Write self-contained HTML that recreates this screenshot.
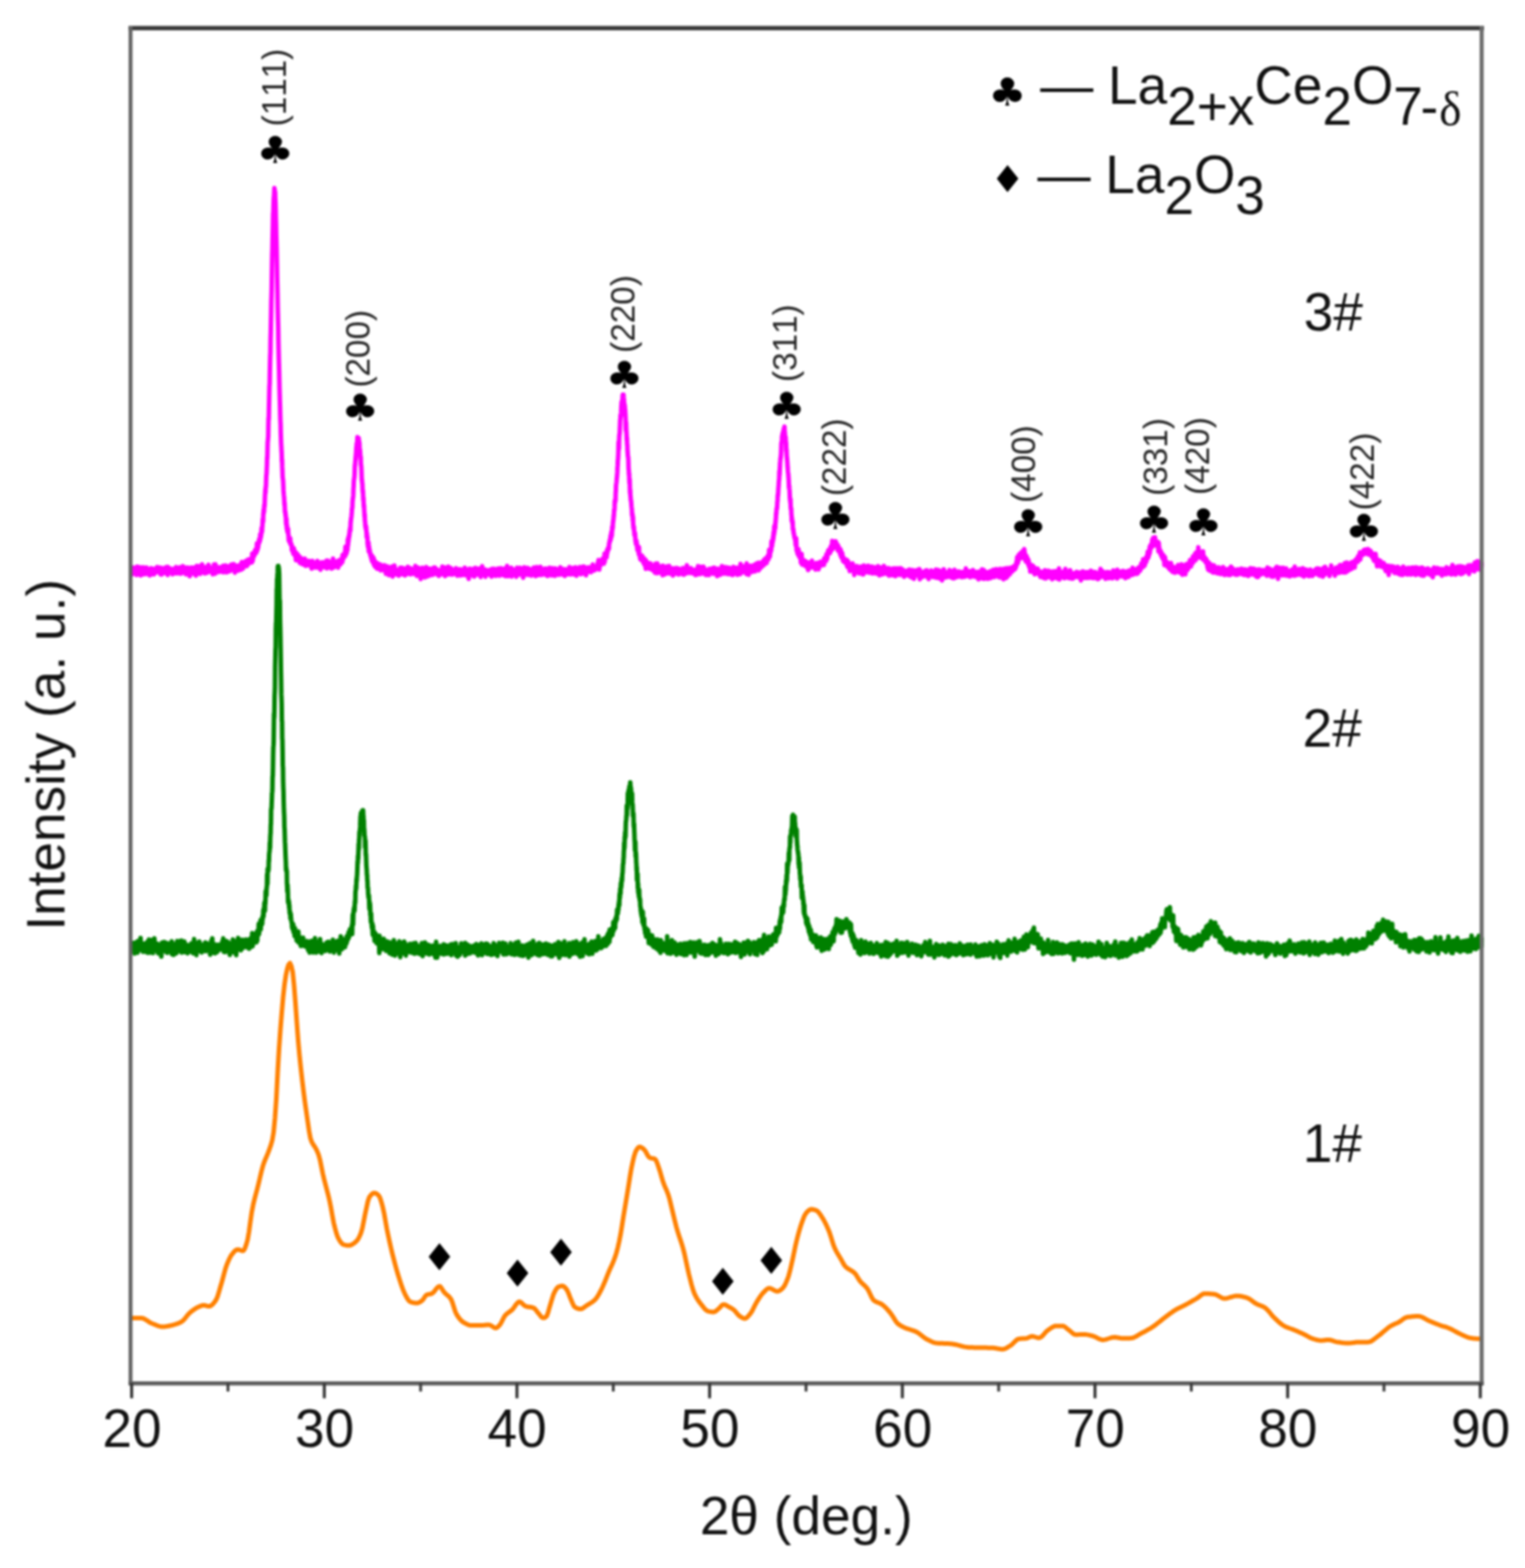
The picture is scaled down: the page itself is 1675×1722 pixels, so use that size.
<!DOCTYPE html>
<html lang="en">
<head>
<meta charset="utf-8">
<title>XRD patterns</title>
<style>
html,body{margin:0;padding:0;background:#fff;}
body{width:1675px;height:1722px;overflow:hidden;}
svg{display:block;}
text{font-family:'Liberation Sans', sans-serif;fill:#111;font-kerning:none;}
.lab{font-size:58.4px;}
.hkl{font-size:36.5px;fill:#262626;}
.club{font-family:'DejaVu Sans', 'Liberation Sans', sans-serif;font-size:41px;fill:#000;}
.dia{font-family:'DejaVu Sans', 'Liberation Sans', sans-serif;font-size:41px;fill:#000;}
</style>
</head>
<body>
<svg width="1675" height="1722" viewBox="0 0 1675 1722">
<defs><filter id="soft" x="0" y="0" width="1675" height="1722" filterUnits="userSpaceOnUse" color-interpolation-filters="sRGB"><feGaussianBlur stdDeviation="0.8"/></filter></defs>
<rect x="0" y="0" width="1675" height="1722" fill="#ffffff"/>
<g filter="url(#soft)">
<path d="M144.5,1447.45l1.5 0 1.5 0 1.5 0 1.5 0 1.5 0 1.5 0 1.5 0 1.5 .2 1.5 .55 1.5 .8 1.5 .95 1.5 1 1.5 1 1.5 .85 1.5 .65 1.5 .6 1.5 .6 1.5 .6 1.5 .6 1.5 .45 1.5 .4 1.5 .25 1.5 .05 1.5-.05 1.5-.15 1.5-.2 1.5-.3 1.5-.35 1.5-.35 1.5-.35 1.5-.4 1.5-.4 1.5-.5 1.5-.55 1.5-.65 1.5-.7 1.5-.9 1.5-1.25 1.5-1.7 1.5-1.9 1.5-1.95 1.5-1.75 1.5-1.35 1.5-1.2 1.5-1.15 1.5-1.05 1.5-.95 1.5-.85 1.5-.7 1.5-.7 1.5-.65 1.5-.45 1.5-.1 1.5 .25 1.5 .45 1.5 .35 1.5 .1 1.5-.55 1.5-1.1 1.5-1.6 1.5-1.9 1.5-2.15 1.5-3.6 1.5-4.85 1.5-5.3 1.5-5.05 1.5-5.5 1.5-5.7 1.5-5.25 1.5-4.1 1.5-3.6 1.5-3.15 1.5-2.6 1.5-1.95 1.5-1.8 1.5-1.5 1.5-.95 1.5-.1 1.5 .35 1.5 .55 1.5 .45 1.5-.2 1.5-2.55 1.5-4.25 1.5-5.25 1.5-8.85 1.5-10.85 1.5-10.45 1.5-7.8 1.5-6.3 1.5-5.7 1.5-5.6 1.5-6 1.5-6.4 1.5-6.35 1.5-5.75 1.5-4.65 1.5-3.75 1.5-3.45 1.5-3.6 1.5-4.1 1.5-4.15 1.5-5.3 1.5-8.7 1.5-15.65 1.5-21.2 1.5-29.5 1.5-25.65 1.5-21.05 1.5-18.65 1.5-17.15 1.5-13.65 1.5-10.1 1.5-6.95 1.5-4.75 1.5-1.65 1.5 3.4 1.5 6.45 1.5 14.7 1.5 19.3 1.5 20.95 1.5 20.4 1.5 16.35 1.5 14.5 1.5 13.3 1.5 12.35 1.5 11.45 1.5 10.6 1.5 10.3 1.5 10.4 1.5 8.05 1.5 4.15 1.5 2.6 1.5 2.1 1.5 2.4 1.5 3.15 1.5 3.8 1.5 5.4 1.5 7.35 1.5 7.55 1.5 6.45 1.5 5.8 1.5 5.65 1.5 5.8 1.5 6.35 1.5 7.45 1.5 8.65 1.5 7.95 1.5 6.15 1.5 5.5 1.5 4.2 1.5 2.8 1.5 2.4 1.5 1.8 1.5 1.1 1.5 .4 1.5 .3 1.5 .2 1.5 .1 1.5-.1 1.5-.55 1.5-.8 1.5-1.05 1.5-1.15 1.5-1.5 1.5-2.15 1.5-2.9 1.5-3.5 1.5-5.25 1.5-7.65 1.5-7.65 1.5-7 1.5-6.9 1.5-4.65 1.5-2.05 1.5-1.55 1.5-1 1.5-.15 1.5 .45 1.5 1 1.5 1.35 1.5 2.65 1.5 4.75 1.5 5.7 1.5 6.95 1.5 8.6 1.5 8.3 1.5 7.25 1.5 6.95 1.5 6.65 1.5 6.25 1.5 5.9 1.5 5.7 1.5 5.45 1.5 5.15 1.5 4.85 1.5 4.65 1.5 4.45 1.5 4.05 1.5 3.35 1.5 2.95 1.5 2.75 1.5 2.1 1.5 1.15 1.5 .5 1.5 .45 1.5 .3 1.5 .2 1.5 .05 1.5-.3 1.5-.7 1.5-.95 1.5-1.1 1.5-2 1.5-2.5 1.5-1.45 1.5-.5 1.5-.25 1.5-.3 1.5-.45 1.5-1.2 1.5-1.8 1.5-2 1.5-1.8 1.5-1.05 1.5 .15 1.5 1.85 1.5 2.55 1.5 2.1 1.5 1.45 1.5 1.3 1.5 1.25 1.5 1.55 1.5 2.1 1.5 3.65 1.5 4.85 1.5 4.7 1.5 3.25 1.5 2.4 1.5 2.05 1.5 1.8 1.5 1.4 1.5 1.05 1.5 .9 1.5 .8 1.5 .7 1.5 .55 1.5 .35 1.5 .05 1.5 0 1.5 0 1.5 0 1.5 0 1.5 0 1.5 0 1.5 0 1.5-.05 1.5-.1 1.5-.15 1.5-.15 1.5-.1 1.5 0 1.5 .6 1.5 .95 1.5 1.05 1.5 .8 1.5 .1 1.5-.9 1.5-1.55 1.5-1.7 1.5-2.6 1.5-3.1 1.5-2.8 1.5-1.9 1.5-1.35 1.5-1.1 1.5-1.05 1.5-1.1 1.5-1.4 1.5-1.95 1.5-2.2 1.5-2.1 1.5-1.5 1.5-.6 1.5 .55 1.5 1.3 1.5 1.55 1.5 1.25 1.5 .6 1.5 .35 1.5 .2 1.5 .2 1.5 .25 1.5 .35 1.5 .7 1.5 1.7 1.5 2 1.5 1.8 1.5 1.95 1.5 1.85 1.5 1.15 1.5 .05 1.5-.65 1.5-1.3 1.5-4 1.5-5.45 1.5-4.95 1.5-5.05 1.5-4.6 1.5-3.2 1.5-2.55 1.5-1.85 1.5-.8 1.5-.4 1.5-.25 1.5 .05 1.5 .95 1.5 1.65 1.5 2.1 1.5 3.4 1.5 4 1.5 3.5 1.5 3.65 1.5 3 1.5 1.3 1.5 .8 1.5 .55 1.5 .3 1.5 0 1.5-.5 1.5-.9 1.5-1.1 1.5-1.1 1.5-.95 1.5-.9 1.5-.9 1.5-.95 1.5-1.1 1.5-1.25 1.5-1.55 1.5-2.05 1.5-2.5 1.5-2.8 1.5-2.95 1.5-3.05 1.5-3.4 1.5-3.65 1.5-3.8 1.5-3.8 1.5-3.55 1.5-3.3 1.5-3.3 1.5-3.55 1.5-3.95 1.5-4.7 1.5-5.65 1.5-6.55 1.5-7.5 1.5-9.05 1.5-9.55 1.5-9.1 1.5-9 1.5-9 1.5-9.2 1.5-9.65 1.5-8.75 1.5-7 1.5-6.3 1.5-4.7 1.5-2.75 1.5-2.05 1.5-.8 1.5 .4 1.5 .95 1.5 1.25 1.5 1.6 1.5 2.65 1.5 2.8 1.5 2 1.5 .65 1.5 .3 1.5 .25 1.5 .4 1.5 1.45 1.5 3.6 1.5 4.45 1.5 4.5 1.5 5.3 1.5 5.1 1.5 4.15 1.5 3.45 1.5 3.45 1.5 3.95 1.5 5.1 1.5 6.2 1.5 6.35 1.5 6.1 1.5 6.2 1.5 5.85 1.5 5.15 1.5 4.65 1.5 4.45 1.5 4.6 1.5 5.15 1.5 6.05 1.5 7 1.5 7.2 1.5 6.65 1.5 6 1.5 5.85 1.5 5.3 1.5 4.2 1.5 3.2 1.5 2.7 1.5 2.35 1.5 2.05 1.5 1.95 1.5 1.85 1.5 1.9 1.5 1.75 1.5 1.3 1.5 .8 1.5 .4 1.5 .25 1.5 .2 1.5 .1 1.5-.35 1.5-.95 1.5-1.3 1.5-1.25 1.5-1.45 1.5-1.75 1.5-1.15 1.5-.05 1.5 .55 1.5 .85 1.5 .85 1.5 .8 1.5 .8 1.5 .95 1.5 1.05 1.5 1.5 1.5 1.9 1.5 1.8 1.5 1.4 1.5 1.05 1.5 .95 1.5 .7 1.5 .25 1.5-.5 1.5-1.25 1.5-1.65 1.5-1.8 1.5-2.15 1.5-2.75 1.5-3.05 1.5-2.95 1.5-2.6 1.5-2.4 1.5-2.3 1.5-2.2 1.5-1.9 1.5-1.6 1.5-1.55 1.5-1.4 1.5-1.05 1.5-.3 1.5 .3 1.5 .7 1.5 .9 1.5 .85 1.5 .6 1.5 .2 1.5-.4 1.5-.85 1.5-1.2 1.5-1.4 1.5-2.05 1.5-2.95 1.5-3.55 1.5-4 1.5-5.35 1.5-6.5 1.5-6.6 1.5-7.15 1.5-7.3 1.5-6.4 1.5-5.85 1.5-5.45 1.5-4.9 1.5-4.4 1.5-4.1 1.5-3.5 1.5-2.25 1.5-1.6 1.5-1.35 1.5-.85 1.5-.2 1.5 .2 1.5 .35 1.5 .55 1.5 .65 1.5 1.35 1.5 2 1.5 2.3 1.5 2.35 1.5 2.55 1.5 2.8 1.5 3.15 1.5 3.35 1.5 3.65 1.5 4.55 1.5 4.95 1.5 4.65 1.5 3.65 1.5 3 1.5 2.7 1.5 2.5 1.5 2.45 1.5 2.6 1.5 2.8 1.5 2.5 1.5 1.7 1.5 1.25 1.5 1.05 1.5 .85 1.5 .85 1.5 .95 1.5 1.15 1.5 1.5 1.5 2.2 1.5 2.55 1.5 2.4 1.5 1.85 1.5 1.5 1.5 1.35 1.5 1.35 1.5 1.55 1.5 2 1.5 2.85 1.5 3.25 1.5 3.1 1.5 2.4 1.5 1.35 1.5 .85 1.5 .65 1.5 .6 1.5 .6 1.5 .75 1.5 1 1.5 1.25 1.5 1.45 1.5 1.55 1.5 1.65 1.5 1.75 1.5 1.85 1.5 2.2 1.5 2.4 1.5 2.4 1.5 2.2 1.5 1.7 1.5 1.2 1.5 1 1.5 .8 1.5 .75 1.5 .7 1.5 .65 1.5 .6 1.5 .5 1.5 .45 1.5 .45 1.5 .45 1.5 .55 1.5 .55 1.5 .75 1.5 .95 1.5 1.1 1.5 1.15 1.5 1.25 1.5 1.15 1.5 1.1 1.5 .9 1.5 .8 1.5 .75 1.5 .75 1.5 .7 1.5 .6 1.5 .5 1.5 .3 1.5 .15 1.5 .1 1.5 .1 1.5 .05 1.5 .05 1.5 .05 1.5 .1 1.5 .05 1.5 .05 1.5 .1 1.5 .1 1.5 .15 1.5 .25 1.5 .25 1.5 .35 1.5 .4 1.5 .4 1.5 .4 1.5 .4 1.5 .35 1.5 .35 1.5 .25 1.5 .2 1.5 .15 1.5 .05 1.5 .05 1.5 .05 1.5 .05 1.5 0 1.5 .05 1.5 0 1.5 .05 1.5 0 1.5 .05 1.5 0 1.5 0 1.5 .05 1.5 .05 1.5 0 1.5 .05 1.5 .05 1.5 .1 1.5 .15 1.5 .2 1.5 .3 1.5 .25 1.5 .25 1.5 .2 1.5 .05 1.5-.25 1.5-.55 1.5-.8 1.5-.95 1.5-.95 1.5-.95 1.5-1.2 1.5-1.5 1.5-1.5 1.5-1.4 1.5-1 1.5-.4 1.5-.15 1.5-.1 1.5-.05 1.5-.1 1.5-.1 1.5-.25 1.5-.7 1.5-.8 1.5-.5 1.5 .1 1.5 .35 1.5 .5 1.5 .5 1.5 .3 1.5-.15 1.5-.8 1.5-1.3 1.5-1.65 1.5-1.75 1.5-1.6 1.5-1.2 1.5-1.05 1.5-1.05 1.5-1 1.5-.8 1.5-.6 1.5-.2 1.5 0 1.5 0 1.5 0 1.5 0 1.5 .05 1.5 .55 1.5 1.05 1.5 1.25 1.5 1.25 1.5 1.1 1.5 1.35 1.5 1.35 1.5 1.1 1.5 .55 1.5 0 1.5-.1 1.5-.05 1.5-.1 1.5-.05 1.5-.05 1.5 .05 1.5 .15 1.5 .25 1.5 .3 1.5 .35 1.5 .3 1.5 .45 1.5 .6 1.5 .75 1.5 .75 1.5 .75 1.5 .6 1.5 .5 1.5 .2 1.5 0 1.5-.25 1.5-.4 1.5-.5 1.5-.5 1.5-.5 1.5-.4 1.5-.2 1.5-.05 1.5 .15 1.5 .25 1.5 .25 1.5 .25 1.5 .15 1.5 0 1.5 0 1.5 0 1.5 0 1.5 0 1.5 0 1.5-.05 1.5-.3 1.5-.5 1.5-.7 1.5-.85 1.5-.9 1.5-.9 1.5-.9 1.5-.8 1.5-.75 1.5-.8 1.5-.8 1.5-.85 1.5-.85 1.5-.9 1.5-.95 1.5-.95 1.5-1.05 1.5-1.1 1.5-1.15 1.5-1.2 1.5-1.2 1.5-1.2 1.5-1.2 1.5-1.2 1.5-1.1 1.5-1.15 1.5-1.1 1.5-1.15 1.5-1.1 1.5-1.05 1.5-1.05 1.5-.95 1.5-.9 1.5-.85 1.5-.8 1.5-.75 1.5-.75 1.5-.7 1.5-.75 1.5-.75 1.5-.8 1.5-.8 1.5-.85 1.5-.85 1.5-.85 1.5-.85 1.5-.85 1.5-.9 1.5-1 1.5-1.2 1.5-1.15 1.5-1 1.5-.75 1.5-.2 1.5 0 1.5 .05 1.5 .1 1.5 .1 1.5 .15 1.5 .15 1.5 .15 1.5 .35 1.5 .7 1.5 .9 1.5 .9 1.5 .85 1.5 .65 1.5 .25 1.5-.05 1.5-.2 1.5-.35 1.5-.4 1.5-.45 1.5-.45 1.5-.4 1.5-.3 1.5-.2 1.5 0 1.5 .1 1.5 .2 1.5 .3 1.5 .35 1.5 .4 1.5 .45 1.5 .45 1.5 .7 1.5 .9 1.5 1.05 1.5 1.15 1.5 1.1 1.5 1 1.5 .85 1.5 .7 1.5 .55 1.5 .6 1.5 .6 1.5 .7 1.5 .9 1.5 1.2 1.5 1.55 1.5 1.75 1.5 1.8 1.5 1.8 1.5 1.75 1.5 1.5 1.5 1.4 1.5 1.4 1.5 1.4 1.5 1.3 1.5 1.2 1.5 1.1 1.5 .85 1.5 .75 1.5 .65 1.5 .6 1.5 .55 1.5 .5 1.5 .55 1.5 .6 1.5 .65 1.5 .6 1.5 .65 1.5 .65 1.5 .65 1.5 .65 1.5 .7 1.5 .75 1.5 .8 1.5 .85 1.5 .85 1.5 .8 1.5 .7 1.5 .55 1.5 .45 1.5 .4 1.5 .4 1.5 .3 1.5 .25 1.5 .1 1.5-.05 1.5-.15 1.5-.2 1.5-.15 1.5-.15 1.5 0 1.5 .25 1.5 .4 1.5 .55 1.5 .5 1.5 .45 1.5 .3 1.5 .2 1.5 .2 1.5 .2 1.5 .15 1.5 .15 1.5 .1 1.5 .05 1.5 .05 1.5-.05 1.5-.1 1.5-.2 1.5-.25 1.5-.2 1.5-.15 1.5-.1 1.5 0 1.5 0 1.5 0 1.5 0 1.5 0 1.5 0 1.5 0 1.5-.1 1.5-.4 1.5-.75 1.5-1 1.5-1.15 1.5-1.2 1.5-1.15 1.5-1.1 1.5-1.1 1.5-1.25 1.5-1.3 1.5-1.3 1.5-1.35 1.5-1.25 1.5-1.25 1.5-1.1 1.5-.95 1.5-.85 1.5-.75 1.5-.65 1.5-.65 1.5-.7 1.5-.75 1.5-.9 1.5-1.1 1.5-1.1 1.5-1.05 1.5-.75 1.5-.45 1.5-.2 1.5-.2 1.5-.2 1.5-.15 1.5-.1 1.5-.1 1.5-.05 1.5-.05 1.5 .1 1.5 .35 1.5 .55 1.5 .75 1.5 .8 1.5 .85 1.5 .85 1.5 .75 1.5 .65 1.5 .6 1.5 .65 1.5 .6 1.5 .6 1.5 .6 1.5 .55 1.5 .55 1.5 .5 1.5 .5 1.5 .45 1.5 .45 1.5 .5 1.5 .55 1.5 .6 1.5 .65 1.5 .75 1.5 .85 1.5 .8 1.5 .85 1.5 .85 1.5 .75 1.5 .7 1.5 .65 1.5 .7 1.5 .7 1.5 .65 1.5 .6 1.5 .55 1.5 .4 1.5 .3 1.5 .2 1.5 .15 1.5 .15 1.5 .1 1.5 .1 1.5 .05" fill="none" stroke="#ff8000" stroke-width="5" stroke-linejoin="round" stroke-linecap="round"/>
<path d="M145.2,1038.6l.2-2.8 .2 1.15 .2 6.25 .2-2.6 .2-1.25 .2 5.15 .2-1.95 .2-3.6 .2-3.5 .2 3.05 .2 5.9 .2-7.2 .2 10.1 .2-7.75 .2-3.75 .2 2.95 .2 6.2 .2-6.7 .2 3.5 .2 .95 .2-4.25 .2 5.25 .2 1.2 .2-2.05 .2-8.35 .2 6.8 .2 1.4 .2 .5 .2 3.1 .2-5.05 .2-.8 .2-6.85 .2 2.9 .2 7.5 .2-7.45 .2 3 .2-4.75 .2 4.55 .2-3.05 .2 5.55 .2-1.8 .2 1.4 .2-6.2 .2 4.4 .2 3.4 .2-13.15 .2 8.35 .2 1.7 .2 3 .2-.7 .2 .1 .2-.95 .2 1.45 .2-3.1 .2 .15 .2-3.45 .2 3.15 .2-.15 .2 5.9 .2-8.7 .2 4.5 .2-1.8 .2 1.15 .2 3.35 .2-3.7 .2-2.85 .2 3.4 .2 2.85 .2-2.15 .2 1.3 .2-6.8 .2 7.55 .2-4.65 .2-2.35 .2 5 .2-5.7 .2 5.6 .2 4.3 .2-7.05 .2-1.05 .2 6.55 .2-1.5 .2 .7 .2-9.15 .2 3.55 .2 8.85 .2-8.8 .2 1.2 .2 1.9 .2 .3 .2-1.3 .2-8 .2 10.4 .2-5.6 .2 6.95 .2 .95 .2-7.7 .2 4.05 .2 4.9 .2 .3 .2-2.45 .2-4.85 .2 3.05 .2-4.45 .2 8.05 .2-3.75 .2 3.4 .2-12.85 .2 6.4 .2 .15 .2 .4 .2-2.8 .2 5.6 .2-4.35 .2 9 .2-7.4 .2-.3 .2-.8 .2 4.3 .2-.85 .2-4.25 .2-6.8 .2 8.8 .2-1.6 .2 2.75 .2-2.9 .2 3.9 .2-4.8 .2 4.65 .2-1.6 .2 3.9 .2-3.6 .2 2.55 .2-3.05 .2 .3 .2-1.6 .2-2 .2 4.9 .2-.7 .2 5.25 .2-3.65 .2 4.6 .2 .3 .2-5.5 .2-4.25 .2 2.65 .2 4.1 .2-3.55 .2 3.8 .2-4.8 .2 1.55 .2 2.7 .2-.85 .2-1.05 .2-.3 .2 1.1 .2-2.15 .2 3.55 .2-5.2 .2 11.85 .2-9.2 .2-3.5 .2-2.55 .2 2.35 .2 4.25 .2-2.9 .2 5.4 .2-4.95 .2-2.3 .2 2.4 .2-.75 .2 1.15 .2-3.15 .2 3.3 .2-5.75 .2 6.65 .2-.85 .2-.1 .2-2.15 .2 2.5 .2 .85 .2-6.4 .2 8.95 .2-3.75 .2 2.15 .2 3.4 .2-9.1 .2 .8 .2 .1 .2 3.35 .2-3.45 .2 .45 .2 8.6 .2-6.55 .2 2.15 .2 2 .2 1.5 .2-9.55 .2 6 .2 1.25 .2 1.15 .2-5.85 .2 .75 .2 2.05 .2-.45 .2-1.2 .2-.95 .2 1.6 .2-.55 .2 1.75 .2-2.85 .2-1.35 .2 1.9 .2 .8 .2 4.2 .2-4.8 .2-5.65 .2 14.25 .2-3.3 .2-2.05 .2-.35 .2-1.45 .2 5.7 .2-9.85 .2 6.5 .2 .05 .2 5.4 .2-8.2 .2 5.4 .2-3.65 .2-4.75 .2-.35 .2 7.65 .2-7.9 .2 2.95 .2 6.55 .2-8.75 .2 5.05 .2 4.6 .2-1.35 .2-2.5 .2-5.05 .2 8.5 .2-4.4 .2-1.45 .2-3.8 .2-3.6 .2 8.5 .2-2.85 .2-4.15 .2 8.7 .2-2.2 .2-2.85 .2 .65 .2 3.25 .2-.15 .2-4.7 .2 6.05 .2-3.7 .2-2.7 .2 2.9 .2 .55 .2 3.8 .2-1.65 .2-9.7 .2 3.35 .2 6.75 .2-1.75 .2-4.1 .2 1.5 .2 7.05 .2-13.25 .2 12.05 .2-.6 .2-5.55 .2 1.1 .2 2.1 .2-.95 .2 1.15 .2 2.55 .2-6.05 .2 2.1 .2 1.5 .2-2.95 .2 1.35 .2 4.95 .2-11.65 .2 7.75 .2-2.75 .2-2 .2 3.05 .2 2 .2 1.45 .2-5.25 .2 4.7 .2 2.65 .2-4.2 .2 1.8 .2-.85 .2 .65 .2-5.35 .2 7.2 .2-2.5 .2 4.55 .2-3.35 .2-5.6 .2 6.75 .2 .7 .2-1.05 .2-4.5 .2-.35 .2 5.8 .2-7 .2 5.45 .2-2.45 .2-2.6 .2 .95 .2-.55 .2 3.45 .2-3.9 .2 1.95 .2-.55 .2 2.1 .2 2.05 .2-8.25 .2 6.3 .2-3.7 .2 1.65 .2 .2 .2 5.65 .2-.2 .2-5.8 .2 0 .2 5.55 .2-3.05 .2 4.5 .2-8.5 .2 6.1 .2-5.45 .2-8 .2 12.15 .2-5.65 .2 5.5 .2-3.35 .2 5.1 .2-8.6 .2-.7 .2 10.15 .2-1.35 .2-3.3 .2-5.7 .2 8.2 .2 5.3 .2-9.35 .2-.1 .2-1.5 .2 4.3 .2-1.75 .2-4.85 .2 2.65 .2 5.55 .2-6.9 .2 4.55 .2 2.55 .2-.9 .2-8.4 .2 7.8 .2-5.6 .2-3 .2 7.65 .2-6.35 .2 4.55 .2 4.9 .2-2.3 .2-2.25 .2 3.5 .2-2.9 .2 2.45 .2 1.1 .2-7.05 .2 8.75 .2-5.9 .2 .65 .2 .4 .2-1.55 .2-.55 .2 3.25 .2-3.8 .2 3.6 .2 .85 .2-4.35 .2 .85 .2 2.8 .2-1.85 .2 2.2 .2-2.3 .2-.9 .2 .35 .2 1.75 .2 2.85 .2-9.4 .2 3.95 .2 .3 .2-1.35 .2 1.05 .2 5.45 .2-.55 .2-5.3 .2-2.8 .2 6.15 .2 .2 .2-5.45 .2 4.55 .2 .7 .2 .8 .2-3.85 .2 3.3 .2-2.2 .2 3.35 .2-1.95 .2 1.2 .2-2 .2-.9 .2 1.6 .2 2.1 .2-4.1 .2 2.4 .2 6.85 .2-10.15 .2-2.2 .2 1.2 .2 2.2 .2 .95 .2-7.35 .2 .85 .2 9.05 .2-7.2 .2 6.85 .2 1.75 .2-14.05 .2 11.85 .2-1.65 .2-1.25 .2 2.35 .2-1.45 .2 1.95 .2 4.25 .2-5 .2-5 .2 8.55 .2-.9 .2 1.1 .2-3.5 .2 1.65 .2 3.55 .2-6.7 .2-1.8 .2 6.75 .2-5.85 .2 4.9 .2-5.5 .2 .2 .2 2.5 .2 .1 .2-3.55 .2 7.8 .2-6.7 .2 3.7 .2-5.3 .2 1 .2 .15 .2 2.35 .2 0 .2 .2 .2-.65 .2 2.95 .2-.05 .2-4.4 .2 1.85 .2 1.05 .2 .85 .2-.65 .2-2.8 .2 .05 .2 1.3 .2 1.35 .2-5.05 .2 .2 .2 1.9 .2 1.6 .2-2.45 .2 .75 .2-1.25 .2 4.3 .2-8.15 .2 6.4 .2-2.1 .2 2.2 .2 .55 .2-10.35 .2 13.35 .2-1.3 .2 2.75 .2-2.55 .2 .4 .2-1.2 .2 3.4 .2-9.5 .2 4 .2-2.7 .2 5.85 .2-2 .2 4.4 .2-4.8 .2-1.05 .2 0 .2-1.9 .2-4.2 .2 6.5 .2-1.3 .2-.05 .2-2.3 .2 4.05 .2-3.75 .2 4.3 .2-1.7 .2-.25 .2-4.15 .2 6.25 .2 1.7 .2-3.25 .2-1.5 .2 3.9 .2 .55 .2-4 .2 10.3 .2-4.85 .2 .85 .2-3.55 .2-.1 .2-4.5 .2 2.35 .2 1 .2 2.1 .2-3.95 .2-1.15 .2 6.6 .2-3.5 .2 2.7 .2-2.75 .2-2.35 .2 1.9 .2-7.95 .2 11.2 .2-1.4 .2 2 .2-4.55 .2 7.15 .2-2.5 .2-9.75 .2-.1 .2 6.65 .2-5.4 .2 4 .2-.1 .2-.45 .2 5.9 .2-3.05 .2 .2 .2-1.35 .2 8.95 .2-5.45 .2-6.6 .2 4.05 .2-4.25 .2 1.8 .2 .25 .2-4.3 .2-1.55 .2 2.1 .2 5.75 .2-10.95 .2 11.05 .2-8.95 .2 4.3 .2 .8 .2 4.2 .2-2.5 .2-3.6 .2 1.6 .2 2.75 .2 2.7 .2-2.7 .2-1.3 .2-.55 .2 6 .2-7.9 .2 1.15 .2 2.6 .2 3.05 .2-9.95 .2 8.85 .2 .55 .2-3 .2-7.15 .2 3.85 .2 1.85 .2 1.35 .2-5.1 .2 3.25 .2 3.1 .2-4.2 .2 .75 .2-.6 .2-3.2 .2 3.45 .2 .4 .2 3.15 .2-5.2 .2-1.75 .2 2.65 .2-1.35 .2 4.7 .2-3.8 .2-3.35 .2 7.1 .2-2.35 .2 .75 .2 .65 .2 2.15 .2-6.65 .2 5.05 .2-1.95 .2-.1 .2-.65 .2-1.3 .2 2.15 .2-.7 .2 2.1 .2 2.55 .2-8.3 .2 9.6 .2-2.95 .2-7.5 .2 3.25 .2 .3 .2 3.8 .2-7.25 .2 8.8 .2-9.45 .2 2.3 .2-1 .2-2.2 .2 .2 .2 1.65 .2 .95 .2-1.35 .2-1.2 .2-5.65 .2 7.5 .2 7 .2-.9 .2-1.9 .2-5.35 .2 2.85 .2-3.7 .2 0 .2 1.9 .2 2.65 .2-5.3 .2-.75 .2 1.85 .2-5.1 .2 7.55 .2 .3 .2 .25 .2-1.65 .2-4.85 .2 .9 .2-2.65 .2 3.85 .2 5.95 .2-10.9 .2 5.15 .2 2.05 .2-8.5 .2 10.3 .2-9.8 .2 1.5 .2 1.35 .2 1.3 .2-.9 .2-4 .2-1.85 .2-6.2 .2 5.7 .2 5.45 .2-7.5 .2 4.2 .2-.25 .2-2.4 .2-3.1 .2-.65 .2 1.1 .2-6.55 .2 10.1 .2-9.1 .2 .65 .2-.75 .2 .35 .2 1.45 .2 2 .2-4.25 .2 3.75 .2-7.7 .2 2.7 .2-.65 .2-3.3 .2 .75 .2-7 .2 7.05 .2-3 .2-3.5 .2-3.1 .2 2.9 .2-8.2 .2 5.1 .2-.8 .2 4.15 .2-10.75 .2 3.55 .2-4.25 .2-9.65 .2-.65 .2 .95 .2 4.25 .2-.85 .2-8.1 .2 .45 .2-2.85 .2-12.1 .2 10.95 .2-1.1 .2-15.85 .2 2.4 .2 .65 .2-2.55 .2 1.6 .2-2.25 .2-9.35 .2 1.75 .2-8 .2-1.85 .2-1.15 .2-2.15 .2-8 .2 6.25 .2-10.3 .2-4.65 .2-1 .2-9.75 .2-.6 .2-15.6 .2-1.85 .2 .45 .2-5.6 .2-4.95 .2-6.85 .2-.8 .2-3.5 .2-13.6 .2-.2 .2-9.75 .2-14.1 .2-8.25 .2-1.85 .2-3.7 .2-17.35 .2-14.05 .2 4.65 .2-8.45 .2-15.8 .2-3.7 .2-5.5 .2-23.4 .2-7.95 .2-10.05 .2-2.95 .2-19.2 .2-7.05 .2-1.5 .2-10.1 .2-8.1 .2-17.65 .2-.2 .2-11.45 .2 2.25 .2-6.55 .2-2.3 .2-6.8 .2 .45 .2 1.15 .2-1.85 .2 5 .2-3.1 .2 3.4 .2 2.9 .2 14.35 .2 12.3 .2 6.1 .2-2.95 .2 21.1 .2 8.2 .2 9.4 .2 12.55 .2 12.55 .2 14.7 .2 10.45 .2 14.1 .2 4.95 .2 5.6 .2 19.25 .2-.75 .2 19.2 .2 1.9 .2 11.6 .2 17 .2 1.25 .2 15.7 .2 6.5 .2 4.8 .2 11.25 .2 6.75 .2 5.15 .2 3.6 .2 12.2 .2 1.5 .2 6.85 .2 7.45 .2 3.15 .2 6.35 .2 4.9 .2 4.45 .2 3.7 .2 8.7 .2-3 .2 3.85 .2 .5 .2-.6 .2 14.1 .2 2.3 .2 6.3 .2-7.6 .2 5 .2 3.2 .2 11.25 .2-1.45 .2-1.75 .2 2.6 .2 3.05 .2-3.15 .2 6.85 .2-3.25 .2 5.65 .2 3.55 .2 .05 .2-1.95 .2 2.75 .2 4.95 .2-3.25 .2-1.75 .2 4.8 .2 .25 .2 2.05 .2 1.65 .2-.2 .2 .85 .2 5.1 .2-.25 .2 2 .2-2.2 .2-.8 .2 3 .2-5.2 .2 1.7 .2 7.2 .2-3.8 .2-.05 .2-.85 .2 5.65 .2-4.95 .2 8.5 .2-2.9 .2-6.05 .2 4.6 .2-1.25 .2 5.55 .2 .35 .2-3 .2-.15 .2 3.95 .2-3.2 .2 6.8 .2-6.25 .2 3.65 .2-7.35 .2 8 .2-3 .2 3.2 .2 3.05 .2-4 .2-7.4 .2 1.75 .2 7.25 .2-3 .2-.65 .2 7.35 .2-3.9 .2 4 .2 .1 .2-4.1 .2 1.9 .2-4.1 .2 5.3 .2-1.25 .2 5.45 .2-2.3 .2-3.1 .2-1.55 .2 1.65 .2 .85 .2 2.6 .2 1 .2-7.15 .2 .65 .2 4.6 .2-4.9 .2 3.75 .2-5.35 .2 4.8 .2-.3 .2 .55 .2-1 .2 3.8 .2 1.4 .2-.45 .2-3.15 .2 0 .2-1.05 .2-.15 .2 1.9 .2 .05 .2-.05 .2 1.55 .2 2.05 .2-4.75 .2 1.4 .2 2.6 .2-1.05 .2-3.15 .2-1.15 .2 5.95 .2-5.45 .2 4.85 .2-4.5 .2 8.95 .2-9 .2 9.3 .2-3.35 .2 2.1 .2-.4 .2-2.25 .2-2.55 .2 8.9 .2-9.15 .2 1.95 .2-4.85 .2 4.35 .2 1.95 .2-4.1 .2 2.75 .2-1.35 .2-.1 .2 3.15 .2 .8 .2-5.15 .2-3.1 .2 7.1 .2-5 .2 2.1 .2-1.15 .2 5.85 .2 3.85 .2-8.85 .2 8.9 .2-6.45 .2-1.55 .2 4.7 .2 2.6 .2-6.9 .2-.25 .2 7 .2-3.1 .2-11.85 .2 8.55 .2-2.05 .2 .7 .2 2.3 .2-1.9 .2 .25 .2 8 .2-11.9 .2 5.8 .2 1.4 .2-6.55 .2 1 .2 .05 .2 6.4 .2-6.2 .2 5.1 .2-5.45 .2-.15 .2 5.5 .2 1.2 .2-6.95 .2 1.05 .2 4.1 .2-3.95 .2-.6 .2 .25 .2 4.5 .2-9.45 .2 14.15 .2-.5 .2-1.1 .2-4.7 .2-1.5 .2 3.9 .2-5.3 .2 10.55 .2-8.9 .2 5.8 .2-1.2 .2-4.05 .2 .7 .2-1.95 .2 3.05 .2 1.6 .2-1.9 .2-1.15 .2 1.2 .2 3.95 .2-1.1 .2-1.3 .2-3.6 .2 .5 .2 3.1 .2-2.85 .2-.95 .2 6.65 .2-4.05 .2 .4 .2-2.65 .2 2.8 .2 1.7 .2-1.75 .2-5.65 .2 3.2 .2 3.3 .2-1 .2 2.5 .2-4.2 .2 .75 .2 3.15 .2-3.15 .2 2.95 .2-8.45 .2 2.55 .2 6.1 .2-.4 .2-.15 .2 .5 .2 .05 .2-6.65 .2 8.8 .2-2.4 .2-6.65 .2-.45 .2 5.55 .2-3.5 .2 3.85 .2-2.65 .2-3.9 .2 2.1 .2 1.5 .2 1.15 .2 2.6 .2-4.7 .2 3.6 .2-2.25 .2 .3 .2-7.1 .2 5.85 .2-3.1 .2 6.9 .2 1.3 .2-2.15 .2 5.3 .2-5.9 .2 1.85 .2-3.85 .2 2.25 .2-4.5 .2 2.3 .2 4.3 .2-3.4 .2-1.1 .2 .7 .2 1.95 .2 2.8 .2-9.4 .2 4.8 .2-.4 .2-.4 .2 .65 .2 1.75 .2 2.1 .2-9.5 .2 1.7 .2 4.2 .2-5.15 .2 6.15 .2-4.35 .2 2.3 .2-3.45 .2 .8 .2 11.8 .2-10.05 .2 5.75 .2-4.95 .2 2.15 .2-4.8 .2 4.2 .2-3.45 .2-7.7 .2 .6 .2 8.15 .2 2.5 .2-4.85 .2-1.05 .2 1.55 .2 7.15 .2-11.6 .2 8.1 .2 1.5 .2-8.35 .2 1.25 .2 1.65 .2-1.05 .2 5.2 .2-3 .2-2.2 .2 2.8 .2 2.65 .2-5.4 .2-1.7 .2 5.65 .2 2.45 .2-.75 .2-2.65 .2-3.45 .2 3.05 .2-1 .2-.05 .2-2.4 .2 3.3 .2-.8 .2-7.35 .2 6.25 .2-6 .2 3.4 .2-1.2 .2 1.75 .2-3.65 .2 .1 .2-.95 .2-.3 .2-3.6 .2 6.05 .2-4.15 .2 2.6 .2-1.7 .2 .9 .2-.05 .2-6.9 .2 3.35 .2 .35 .2-3.65 .2-.6 .2 2.75 .2 2.25 .2-3.25 .2-.35 .2-2.2 .2 4.45 .2-7.3 .2 1.95 .2 7.3 .2-11.35 .2-2.5 .2-6.5 .2-1.5 .2 11.55 .2-8.55 .2-4.8 .2-.15 .2-3.75 .2 2.15 .2-4 .2 2.5 .2 1.3 .2-5.5 .2-3.6 .2-2.2 .2 2.55 .2-11.95 .2-1.1 .2-1.05 .2-4.9 .2 3.45 .2-5.95 .2-4.95 .2 2.55 .2-5.3 .2-1.25 .2-4.7 .2-5.15 .2-5.25 .2 2.35 .2-8.55 .2 3.95 .2-6.3 .2-4.5 .2-6.4 .2 6.05 .2-10.7 .2-.15 .2-7.8 .2 3.9 .2-5.85 .2-.45 .2-3.55 .2-6.3 .2-5.3 .2 1.6 .2-4.75 .2-.6 .2 6.9 .2-4.2 .2-3.3 .2 .8 .2 .7 .2-2.7 .2-.8 .2 1.35 .2 2.35 .2 7.4 .2-11.3 .2 6.5 .2-.45 .2 13.65 .2-9.05 .2 9.55 .2 .2 .2 2.4 .2 5.25 .2 .6 .2 .45 .2 11.7 .2-8.3 .2 .75 .2 7.55 .2 9 .2-1.75 .2 6.25 .2 6.5 .2 2.4 .2 2.25 .2 5.8 .2-.75 .2 6.85 .2-.15 .2 7.65 .2 1.35 .2-.9 .2 6.6 .2 1.7 .2 2.25 .2 .65 .2-2.95 .2 4.55 .2 7.15 .2 3.35 .2-7.85 .2 4.05 .2-2.1 .2 4.25 .2 8.4 .2-2.65 .2 5.4 .2 4.65 .2-9.4 .2 7.7 .2 2 .2 1.65 .2 3.2 .2 1.55 .2-.85 .2-4.1 .2 8.1 .2 4.25 .2-10 .2 4.2 .2 2.4 .2-1.6 .2 2.8 .2 .9 .2 3.45 .2-4.2 .2 1.25 .2 7.55 .2-2.25 .2-4.6 .2-1.95 .2 4.35 .2 2.4 .2-2.1 .2-3.35 .2 .85 .2 2.25 .2 2.65 .2 1.2 .2 3.2 .2-5.8 .2-.1 .2-2.7 .2 2.65 .2 2.85 .2 .05 .2 .6 .2 1.6 .2-1.7 .2-3.25 .2 5.6 .2 .75 .2-3.6 .2 13.7 .2-18.95 .2 3.4 .2 3.3 .2 .2 .2-1 .2 4 .2 3.1 .2-1.75 .2-.95 .2 4.65 .2-10.1 .2 4.5 .2 1.05 .2-1.25 .2 .75 .2-.15 .2-1.3 .2-1.7 .2 .45 .2 2.6 .2 2.5 .2 .45 .2 .8 .2-10.35 .2 5.05 .2-.8 .2 3.9 .2 .15 .2-1.3 .2 4.7 .2-4.8 .2 2.05 .2 1.45 .2-.2 .2-2.55 .2 5.65 .2-2.1 .2 .9 .2-2.35 .2-.1 .2-3.15 .2-3.75 .2 2.65 .2-1.35 .2 5.05 .2-4.6 .2 3.1 .2-1.35 .2 3.15 .2-.55 .2 5.2 .2-1.55 .2 2.2 .2-4.75 .2-6.2 .2 9.2 .2 3.2 .2-7.7 .2 6.05 .2-5.25 .2 1 .2-.75 .2-1.6 .2 .55 .2-4.2 .2 6.3 .2-.1 .2 1.95 .2-2.5 .2 1.6 .2 6 .2-4.05 .2-3.75 .2 1.35 .2-.75 .2 4.2 .2-5.9 .2 5.2 .2-2.15 .2-10.05 .2 10.25 .2-3.35 .2-1.15 .2 3 .2 1.05 .2 7.1 .2-7.85 .2-3.05 .2 2.5 .2 1.9 .2-4.6 .2 2.35 .2-4.55 .2 1.25 .2 2.7 .2 3.85 .2-5.4 .2 .15 .2 2.55 .2-3 .2 1.5 .2-1.2 .2 8.7 .2-7.2 .2 6.1 .2-4.1 .2 5.4 .2-9.05 .2 3.85 .2-8.5 .2 12.2 .2-2.25 .2-3.2 .2 7.85 .2 2.8 .2-4.4 .2 .25 .2-5.05 .2-2.85 .2-2.3 .2 8.45 .2-9.65 .2 5.55 .2 6.3 .2-4.45 .2-5.3 .2 1.3 .2 7.05 .2-7.7 .2 2 .2-3.1 .2 4.4 .2-1.85 .2 5.45 .2-6.65 .2 1.85 .2-6.4 .2 12.15 .2-.3 .2-4.9 .2 1.4 .2 1 .2 2.05 .2-8.95 .2 2.45 .2 10.5 .2-3.65 .2-1.9 .2-1.8 .2 2.65 .2 .2 .2-.05 .2-6.4 .2 3.6 .2 1.25 .2-.3 .2-4.45 .2 2.7 .2-2.45 .2 1.8 .2 2.15 .2 1.15 .2 .1 .2 1.4 .2-2.85 .2-4.65 .2 4.35 .2-1.7 .2-4.1 .2 3.55 .2 3.45 .2 2.05 .2-3.8 .2-4.25 .2 4.45 .2-2.25 .2 6.6 .2-8.35 .2 7 .2-3.55 .2 2.05 .2-3.65 .2 4.1 .2-1.75 .2-.6 .2-2.95 .2 1.7 .2-4.4 .2 8 .2-2.7 .2 5.9 .2-9.95 .2 10.3 .2-3.75 .2-3 .2 3.15 .2-5.85 .2-.35 .2 8.6 .2-10.65 .2 6.65 .2 4.5 .2-4.15 .2 4.05 .2-5.15 .2-1.5 .2 6.15 .2-.95 .2-3.2 .2 4.85 .2-8.35 .2 7.2 .2-4.75 .2 2.1 .2-.4 .2 .25 .2 1.2 .2 2.95 .2-.05 .2-4.35 .2-.1 .2-3.45 .2 8.75 .2-2.4 .2-5.15 .2 2.7 .2 4.4 .2-7.3 .2 3.2 .2-.9 .2-.95 .2 1.25 .2-6.9 .2 9.9 .2-4.8 .2 1.95 .2-5.1 .2 12.35 .2-5.75 .2-8.4 .2 4.45 .2 .9 .2-2.15 .2-1.25 .2 .1 .2 1.55 .2 3.35 .2 .25 .2 3.45 .2-4.8 .2-6.9 .2 6.95 .2 4.1 .2-7.5 .2 4.5 .2 .5 .2-4.5 .2 2.7 .2-2.65 .2 8.15 .2-2.65 .2-1.95 .2 2.1 .2-.05 .2-5.1 .2-1.5 .2-.4 .2 .55 .2 6.95 .2 .9 .2 1.45 .2-9.5 .2 4.4 .2 4.1 .2 1.85 .2-7 .2-.15 .2 0 .2 2.7 .2 1.2 .2 .65 .2-4.75 .2 6.3 .2-8.15 .2 5.45 .2 2.4 .2-.8 .2-2.25 .2-2.7 .2 1.05 .2-2.2 .2 .15 .2-1 .2 6.95 .2-7.55 .2 1.6 .2 6.75 .2-3.15 .2 4.45 .2-.55 .2-3.7 .2 2.25 .2-7.4 .2 4.55 .2 5 .2-4.25 .2-.55 .2 8.05 .2-6.3 .2-7.45 .2 8.6 .2-12.15 .2 10 .2-.35 .2-2.85 .2-1.05 .2 1.2 .2 10.45 .2-12.65 .2 .95 .2 2.05 .2-.7 .2 7.05 .2-4.6 .2-1.6 .2 3 .2-1.45 .2-1.65 .2-.4 .2 .55 .2 0 .2-.9 .2 1.2 .2 4.4 .2-8.35 .2 5.45 .2 1.15 .2-2.75 .2 .2 .2 3.85 .2-5.15 .2 3.4 .2-.2 .2-1.15 .2 .1 .2 2 .2 2.1 .2-8.35 .2 6.95 .2-5.65 .2-.7 .2 3.55 .2 0 .2-6.35 .2 11.1 .2-6.85 .2 3.75 .2-.95 .2 .7 .2-1.75 .2 .75 .2-.75 .2-1.4 .2 4.85 .2-3.2 .2 .65 .2-3 .2-.25 .2 2.7 .2-5.25 .2 9.35 .2-5.95 .2 .2 .2-.6 .2 2.1 .2 1.25 .2 .65 .2-4.55 .2-1.45 .2 3.2 .2 .05 .2-2.05 .2 6.5 .2-7.45 .2 .5 .2 5.95 .2-4.35 .2 .65 .2-2.2 .2-1.25 .2 1.65 .2-3.2 .2 7.95 .2-1.4 .2 5.25 .2-6.5 .2-1.5 .2 5.05 .2-4.95 .2 4.95 .2-4.9 .2-4.3 .2 4.8 .2 .1 .2 2.75 .2-3.2 .2 2.3 .2-.05 .2-3.6 .2-.8 .2 1.2 .2-2.9 .2 5.55 .2 1.85 .2-3.15 .2-1.05 .2-1.75 .2 5.9 .2 1.4 .2-10.5 .2 13.65 .2-1.6 .2-6.75 .2 1.7 .2 .55 .2 .75 .2-2.45 .2 2.5 .2 .75 .2 5.85 .2-8.15 .2-1.85 .2 5.35 .2-3.35 .2 .55 .2-.2 .2-1.45 .2-.25 .2-.1 .2-.9 .2 1 .2 7.35 .2-6.15 .2-2.3 .2-.7 .2 7.05 .2-5.8 .2 2.5 .2-6.1 .2-1.1 .2 7.45 .2-6.15 .2 6.05 .2 2.05 .2-5.45 .2 1.05 .2 .2 .2-.85 .2 1 .2-.15 .2 .7 .2 .85 .2 1.5 .2-.2 .2-1.25 .2-2.7 .2 4.1 .2 .95 .2-2.1 .2-1.65 .2 8.05 .2-13.95 .2 9.1 .2-1.25 .2 4.05 .2 1.1 .2-3.85 .2-3.45 .2 3.25 .2-5.45 .2 3.9 .2-2.65 .2 3.95 .2-7.1 .2 4.5 .2 1.7 .2-1.35 .2-.4 .2-1.3 .2 1.65 .2 5.4 .2-6.5 .2-2.25 .2 .85 .2 1.85 .2 3.6 .2-3.05 .2 3.3 .2 1.9 .2-7.15 .2 3.5 .2-1.65 .2 3.9 .2-.35 .2-1.4 .2-4.75 .2 2.45 .2 .8 .2 0 .2-1.7 .2 2.75 .2 .6 .2-.4 .2-3.45 .2 1.25 .2-2.45 .2 1.35 .2 4.25 .2-2.6 .2 .1 .2 3.95 .2-5.2 .2 1.85 .2-4.7 .2 7.55 .2-3.45 .2 3.05 .2-.05 .2-2.6 .2 1.9 .2-6.3 .2 2.85 .2-4.3 .2 9.1 .2-1.2 .2 2.6 .2-.25 .2 .7 .2-5.55 .2-4.05 .2 3.4 .2 7.9 .2-4.85 .2 1.95 .2-1.25 .2-.6 .2-2.9 .2-2.5 .2 6.35 .2-5.7 .2 8.15 .2-3.5 .2 .4 .2-2.1 .2-5.45 .2 2.6 .2 5.8 .2-7 .2 .15 .2 8.6 .2-11.4 .2 6.4 .2 1.4 .2 5.1 .2-2.85 .2-2 .2-7 .2 4.75 .2-4.6 .2 6.3 .2-5.3 .2 7.6 .2-1.1 .2-3.8 .2 3.1 .2-.65 .2-.35 .2-.3 .2 2.3 .2-2.1 .2-1.45 .2 2.4 .2-3.45 .2 6.15 .2-1.25 .2-9.2 .2 5.65 .2 .5 .2 .2 .2 1.75 .2 2.7 .2 .5 .2-10.95 .2 9 .2-8.8 .2 9.35 .2-1.95 .2-3.95 .2 1 .2 0 .2 5.45 .2-5.75 .2 .5 .2 2.65 .2 3.95 .2-7.15 .2 2.75 .2-3.2 .2 5.6 .2-7 .2 4.95 .2 .05 .2-2.5 .2 4.9 .2 2.3 .2-5.95 .2 1.05 .2-.45 .2 3.15 .2-1.15 .2-2.35 .2-.5 .2-2.2 .2 1.55 .2 .95 .2 5.3 .2-2.6 .2-9.6 .2 5.15 .2 5.6 .2-.3 .2-9.3 .2 5.3 .2 5.4 .2-7.3 .2 .95 .2 1.6 .2-3.6 .2 6.7 .2-2.8 .2 .05 .2-2.8 .2 5.5 .2-4.45 .2-1.45 .2 2 .2-3.7 .2 2.4 .2 9.2 .2-9.9 .2-.35 .2 2.9 .2 1 .2 .3 .2-.55 .2-6.15 .2 3.85 .2-5.6 .2 9.4 .2-.95 .2 1.3 .2-7.6 .2-1.6 .2 6.8 .2-3.45 .2-.65 .2 1.15 .2-2.3 .2-.95 .2 7.05 .2-.15 .2 1.45 .2-1.45 .2-.7 .2 1.1 .2-2.4 .2 1.35 .2-.9 .2-6.8 .2 8.55 .2 4.35 .2-.65 .2-5.65 .2 1.9 .2-.45 .2 4.9 .2-.2 .2-7.85 .2-.05 .2 1 .2-.4 .2 6.9 .2-11.2 .2 2.6 .2-.95 .2 2.4 .2 4.15 .2-5.5 .2 6.1 .2 2.75 .2-4.8 .2 3.35 .2-4.6 .2 1.85 .2-2 .2 4.45 .2-2.5 .2 1.05 .2 .75 .2 .45 .2-6.4 .2 3.95 .2-3.2 .2 1.05 .2 1.25 .2 1.95 .2-2 .2-.65 .2 4.95 .2-2.7 .2-8.35 .2 8.1 .2-2.75 .2 3.6 .2 .35 .2 2.95 .2-6.55 .2 3.95 .2-3.35 .2-1.65 .2-2.85 .2 5.95 .2 3.8 .2-5.4 .2 4.15 .2-3.2 .2 2.4 .2-3.15 .2 2.3 .2-5.05 .2 5.6 .2 3.7 .2-2.55 .2-5.2 .2-4.35 .2 6.7 .2-4.3 .2 3.25 .2 3.65 .2-10.55 .2 6.45 .2 .35 .2 2.9 .2-1.05 .2 4.15 .2-4.05 .2 .85 .2-8.8 .2 6.5 .2-1 .2 .85 .2 3.55 .2-7.35 .2-4.35 .2 14.25 .2-6.5 .2-.7 .2 5.9 .2-2 .2-2 .2 .4 .2 1.4 .2-5.35 .2 3.35 .2 6.3 .2-4.8 .2-.85 .2 5.5 .2-5.7 .2 4.55 .2-4.25 .2-1.75 .2 2 .2-.3 .2-5.45 .2 11.15 .2-5 .2 5.4 .2-9.5 .2 1.2 .2-2.85 .2 3.5 .2 2.65 .2 4.7 .2-8.25 .2 .4 .2 4.25 .2-1.5 .2-3.85 .2 .65 .2-.65 .2 6.05 .2-5.75 .2 .75 .2 4.9 .2-5.7 .2 5.25 .2-8 .2 2.55 .2 6.55 .2-2.5 .2-4.95 .2-.85 .2-1.55 .2 6.45 .2-1.95 .2 1.8 .2-1.25 .2 9.35 .2-5 .2-9.05 .2 5.8 .2-4.85 .2 4.75 .2-1.7 .2 1.7 .2-1.85 .2-5.75 .2 8.8 .2-7.95 .2 2.95 .2 .6 .2 2.95 .2-4.5 .2 3.4 .2 .8 .2 6.05 .2-8.45 .2 3 .2 1.3 .2-2.7 .2 1.2 .2 2.55 .2-5.35 .2-7.25 .2 8.5 .2 1.9 .2 .7 .2-.05 .2 2.2 .2-3.6 .2-2.15 .2-1.75 .2-.6 .2 7.4 .2-5.15 .2-.65 .2 7.55 .2-9.25 .2 7.15 .2-6.15 .2 1.6 .2 0 .2 2.95 .2-2.45 .2 4.25 .2-5.1 .2 8.15 .2-7.4 .2-4.75 .2 2.8 .2 .05 .2 4.1 .2-5.5 .2 8.35 .2-6.85 .2 1.35 .2 5.2 .2-10.55 .2 14 .2-9.9 .2-3.5 .2 11.4 .2-5.7 .2-5.25 .2 8.05 .2 3.3 .2 0 .2-3.4 .2-5.3 .2 1.5 .2 4.55 .2-1.25 .2-2.45 .2 5.8 .2-9.1 .2 9.7 .2-9.15 .2 2 .2 1.4 .2 2.95 .2 1.4 .2-9.3 .2 2.15 .2 .75 .2 1.85 .2-2.25 .2-.95 .2 8.75 .2-2.65 .2-2.3 .2 3 .2-3.85 .2-4.45 .2-1.1 .2 8.35 .2-2.3 .2-.05 .2-3.1 .2 3.85 .2 .35 .2 3.85 .2-.3 .2-6.45 .2 8.3 .2-3.05 .2 2.05 .2-5.75 .2 4.05 .2-8.8 .2 9.35 .2-6.5 .2 3.9 .2-3.7 .2 2.3 .2 .25 .2-4.7 .2 4.9 .2 2.85 .2-3 .2 3.6 .2 3.9 .2-7.35 .2 4.25 .2-4.05 .2-4.5 .2 6.55 .2-6.8 .2 4.25 .2 7.6 .2-10.15 .2-1.45 .2 2.55 .2 2.75 .2 1.4 .2-4.85 .2-.2 .2 4.2 .2-2.3 .2 3.75 .2-6.25 .2 7.55 .2-3.85 .2-1.15 .2-5.3 .2 4.4 .2 .7 .2 4.25 .2-3.3 .2-4 .2-1.3 .2 7.7 .2-6.95 .2 9.85 .2-5.05 .2-2.6 .2-1.1 .2 7.55 .2-5.25 .2 1.1 .2-7.45 .2 7.35 .2-4 .2-4.25 .2 6.9 .2 .35 .2-3.75 .2 13.8 .2-13.6 .2 .95 .2 3.95 .2 .15 .2-.15 .2-1.85 .2 6.15 .2-8 .2-3.55 .2 2.7 .2 3.05 .2 .8 .2 6.55 .2-7.15 .2-1.25 .2-.3 .2-.95 .2 5.25 .2-6.55 .2 8.8 .2-7.95 .2 .95 .2 2.45 .2-5.8 .2 6.05 .2-.5 .2 4.65 .2-2.1 .2-10.8 .2 9.55 .2-4.7 .2 .1 .2 .45 .2 9.7 .2-8.3 .2 1.5 .2 3.05 .2 3.15 .2-7.6 .2 1.8 .2 .4 .2-.6 .2-1 .2-3.2 .2 2.15 .2-1 .2-.7 .2 1.55 .2 1.65 .2-2.1 .2 .95 .2 4.4 .2-.55 .2-5.85 .2-2.85 .2 14.8 .2-9.3 .2 6.65 .2-6.2 .2 6.2 .2-4.55 .2-1.75 .2-1.65 .2 1.35 .2-2.55 .2 4.1 .2-1.15 .2 1.95 .2 .05 .2-5.6 .2 4.75 .2-.9 .2 3.5 .2 1.95 .2-7 .2-5.8 .2 7 .2-.05 .2-3.2 .2 4.75 .2-2.2 .2 3.05 .2-6.55 .2 5.2 .2-1.65 .2-.05 .2 4.05 .2-5.4 .2 .7 .2 3.95 .2-7.8 .2 7.5 .2-4.8 .2-5.35 .2 12.6 .2 .75 .2-5.3 .2-3.8 .2-2.6 .2 7.1 .2 4.1 .2-10.35 .2 4.95 .2 5.45 .2-2.6 .2-3.35 .2 7.6 .2-11.4 .2 6.15 .2 1.8 .2-8.25 .2 2.95 .2 .25 .2 10.85 .2-9.65 .2-.2 .2-1.5 .2 10.65 .2-1.95 .2-9.8 .2 .4 .2 4.6 .2-1.35 .2 .55 .2-3.75 .2-3.75 .2 6.7 .2-3.75 .2 12.15 .2-8.25 .2 .25 .2 .55 .2-3.6 .2 2.8 .2-4.5 .2 3.8 .2 1.6 .2-1.55 .2-9.65 .2 11.5 .2-4.65 .2 5.9 .2-3 .2-.35 .2 1.65 .2-3.85 .2 2.35 .2-1.4 .2 3.1 .2 1.15 .2-5.9 .2 1.3 .2-1.25 .2 8.85 .2-8.85 .2 2.4 .2-.55 .2-2.4 .2 5 .2-2.85 .2 4.5 .2-6.75 .2 4.3 .2 6.35 .2-4.55 .2-3.1 .2 3.15 .2-7.25 .2 5.75 .2-.45 .2 .5 .2 0 .2 .6 .2-4.55 .2 .25 .2-1.75 .2 5.15 .2-7.85 .2 5.7 .2-2.45 .2 3.4 .2 6.85 .2-9.4 .2 5.45 .2 1 .2-8.55 .2 3.2 .2 1.35 .2-3.7 .2 1.3 .2 .7 .2 1.25 .2-2.4 .2 5.6 .2-2 .2-2.2 .2 1.2 .2-6.8 .2 .65 .2 .45 .2 5.15 .2 4.3 .2-6.7 .2-2.3 .2 .65 .2 3.8 .2-5.15 .2 1.35 .2 5.15 .2 1.8 .2-3.8 .2-.55 .2-1.05 .2 2.95 .2-11.8 .2 10.4 .2-.1 .2-1.85 .2-.15 .2 2.45 .2-3.05 .2 3.65 .2-4.85 .2 3.9 .2 1.6 .2-6.55 .2 6.7 .2-2.1 .2-.5 .2 3.35 .2-3 .2-4.5 .2 5 .2 1.55 .2-5.1 .2 .25 .2-.15 .2-.85 .2-1.2 .2 5.1 .2 1 .2-8.15 .2 3.75 .2-.65 .2 3.3 .2 1 .2-2.3 .2 2.4 .2-1 .2-1 .2-.65 .2 1.75 .2-5.55 .2-2.1 .2 6.4 .2 .1 .2 2.2 .2-5.95 .2-3.75 .2 4.95 .2 3.3 .2-7 .2 1.3 .2-1.6 .2-3.45 .2 8.9 .2-5.75 .2 6.65 .2-7.05 .2-4.75 .2 2.45 .2-.4 .2 .6 .2 1.3 .2-.75 .2 6.5 .2-13.4 .2 3.8 .2 3.45 .2 1.85 .2-2.5 .2-.85 .2 1.55 .2-2.8 .2-.75 .2 1.85 .2-6.55 .2 4.55 .2-3.15 .2 3.1 .2-2 .2 4.4 .2-2.85 .2-1.3 .2-4.25 .2 4.05 .2-9.7 .2 9.75 .2-.7 .2-2.85 .2 1.05 .2-7.7 .2 2.45 .2-2.05 .2 4.4 .2-.75 .2 2.7 .2-9.7 .2-.3 .2 3.75 .2-4.45 .2-1 .2 3.55 .2-3.05 .2-2.9 .2 4.8 .2-5.15 .2-5.55 .2 3.1 .2-.35 .2-3.55 .2 4.85 .2-3.8 .2 .25 .2-.6 .2-5.3 .2-1.2 .2-.25 .2-3.1 .2 4.95 .2-9.65 .2-3.2 .2 5.1 .2-4.3 .2-6.05 .2 5.9 .2-1.65 .2-7.65 .2-3.1 .2 5.2 .2-2.3 .2-1.8 .2-6.1 .2 2.15 .2 .75 .2-5.65 .2-2.5 .2-.6 .2-4.8 .2-4.25 .2-1.2 .2-.3 .2-5 .2-1.25 .2-6.75 .2-1.6 .2-8 .2 6.2 .2-4.8 .2-8.15 .2 2.9 .2-7.7 .2 2.2 .2 2.65 .2-9.75 .2-6.2 .2-1.7 .2 0 .2-5.4 .2 1.6 .2-12.65 .2 10.45 .2-8.55 .2-1.95 .2 3.1 .2-3.45 .2-13.15 .2-.3 .2 7.35 .2-6.8 .2-3.6 .2 5.55 .2-4.9 .2 1.15 .2-5.85 .2 .85 .2 .65 .2 1.6 .2 2.95 .2-10.65 .2 3.6 .2 .8 .2 4.3 .2-2.45 .2 4.45 .2 5.6 .2-2.3 .2 6.15 .2-3.05 .2-5 .2 9.35 .2 3.75 .2-1.2 .2 4.65 .2 8.4 .2-.35 .2-3.2 .2 2.3 .2 10.6 .2 2.8 .2-3.8 .2 6.95 .2 4.25 .2 6.65 .2 2.5 .2 8.95 .2-8.45 .2-1.1 .2 9.45 .2 7.15 .2-5.05 .2 3.15 .2 7.7 .2 2.05 .2 7.4 .2-3.85 .2 14.05 .2-3.85 .2 2.55 .2-5.65 .2 8.9 .2 7.25 .2-5.35 .2 9.6 .2-1.5 .2 3.6 .2-.85 .2 4.05 .2-8.05 .2 7.55 .2 .65 .2 3.6 .2-.15 .2-1.3 .2 7.35 .2 1.15 .2 .25 .2 4.75 .2-3.2 .2 5.8 .2 .7 .2-4.55 .2 7.15 .2-2.7 .2 3.25 .2-1.55 .2 7 .2-1.95 .2-9.75 .2 6.75 .2-.2 .2 4.25 .2 4.15 .2-1.3 .2-5.4 .2-.55 .2 7.95 .2-.3 .2 4.5 .2-.25 .2-.4 .2 4.5 .2-2.95 .2 1.8 .2-3.4 .2 3.45 .2 4.9 .2-9 .2 .05 .2 3.1 .2 5.8 .2-3.1 .2-2.25 .2 4.9 .2-1.8 .2 .55 .2-4.05 .2-1.4 .2 8.1 .2-3 .2 4.55 .2 4.75 .2-3.65 .2-6.55 .2 5.25 .2-2.55 .2 3.3 .2 2.2 .2-3.75 .2 3.2 .2-1.15 .2 1.4 .2 1.4 .2-2.75 .2 4.15 .2 .8 .2-7.05 .2 2.6 .2 .65 .2-6.15 .2 3.6 .2 7.45 .2-2.1 .2-1.55 .2 .65 .2 2.65 .2-6.95 .2 9 .2-6.65 .2 .75 .2-2.05 .2 4.65 .2-3.75 .2 2.65 .2-2.55 .2 6.9 .2 .65 .2-6.75 .2-1.8 .2 .3 .2 6.95 .2-6.85 .2 1.55 .2 2.75 .2 5.25 .2-4.6 .2-1 .2 3.25 .2-7.75 .2 2.1 .2 6.9 .2 .5 .2-1.7 .2-.4 .2-2.25 .2 .3 .2 6.65 .2-9 .2 7.55 .2-4.25 .2-4.95 .2 7.05 .2-4.4 .2 4.05 .2-.1 .2 6.55 .2-9.55 .2-4.5 .2 7.95 .2 .8 .2-2.85 .2-1.6 .2 4.15 .2 .7 .2-3.6 .2 4.15 .2-2.5 .2-.4 .2-3.65 .2 1.85 .2 4.4 .2 2 .2-.35 .2-4 .2-.15 .2-2.3 .2 .3 .2 1.45 .2 4.35 .2 .8 .2-2.7 .2 .75 .2-4.95 .2 2.55 .2 2.9 .2-2.05 .2 1.75 .2-6.15 .2 9.3 .2-6 .2-1 .2 2.45 .2-12.5 .2 11.1 .2 7.7 .2-8.45 .2 5.05 .2-8.6 .2 .9 .2-.55 .2 9.75 .2-10.7 .2 7.2 .2-3.65 .2 4.9 .2-5.7 .2 1.35 .2 3.5 .2-6.95 .2-.95 .2 13.3 .2-6.3 .2 1.4 .2-1.6 .2 1.2 .2-1.15 .2 1.35 .2-5.4 .2-4.5 .2 6.4 .2 7.35 .2-7.25 .2-3.9 .2 11.1 .2-1.55 .2-5.35 .2 4.45 .2-.7 .2-5.9 .2 8.15 .2-1.85 .2-.6 .2 2.2 .2-10.05 .2 6.05 .2 5.5 .2-.9 .2-9.05 .2 6.95 .2-4.2 .2 3.4 .2-3.75 .2 7.05 .2 2.45 .2-3.4 .2 .15 .2-2.9 .2-1.2 .2 5.55 .2-2.05 .2-1.85 .2-3.05 .2-1.6 .2 6.6 .2 0 .2-2.8 .2 .25 .2-5 .2 2.4 .2-.85 .2 5 .2-2.45 .2 .65 .2-2.4 .2 2.7 .2-5.75 .2 11.25 .2-5.65 .2 1.55 .2-.2 .2-4.2 .2 7.3 .2-3.9 .2-1.05 .2 3.85 .2-6.35 .2 5.15 .2 3.7 .2-7.4 .2 3.1 .2-5.85 .2 5.15 .2 .15 .2-6.3 .2 10.75 .2 1.4 .2-12.95 .2 7.6 .2-2.75 .2 .55 .2 2.15 .2-1.15 .2-.85 .2 1.6 .2-2.2 .2 2 .2-2.95 .2 5.15 .2 3.7 .2-6.5 .2-1.1 .2 5.45 .2-10.95 .2 5.9 .2-3.15 .2 1.9 .2-1.65 .2 2.55 .2 4.95 .2-6.8 .2 2.05 .2 4.5 .2-2.05 .2 .7 .2-2.8 .2-1.3 .2 .2 .2 .2 .2-3.05 .2-3.45 .2 6 .2 2.5 .2-2.6 .2 5.45 .2 .2 .2-3.55 .2-1.35 .2 2.55 .2-3.15 .2 1 .2-2.1 .2 .65 .2 4.05 .2-3.25 .2 3 .2-1.65 .2 .25 .2 .9 .2-8.35 .2 5.85 .2 2.35 .2 3.8 .2-3 .2 6.65 .2-4.1 .2-3.8 .2-4.65 .2 3.2 .2 .3 .2 1 .2 .95 .2-5.6 .2 6 .2-2.6 .2-1.25 .2-2.05 .2 4.95 .2-2.4 .2-5.7 .2 7.6 .2-.85 .2-4.85 .2 7.55 .2-3 .2 2.2 .2-5.35 .2 2.3 .2 2.95 .2 1 .2-4.5 .2-6.4 .2 9.4 .2-1.45 .2 5.3 .2-7.9 .2 4.85 .2-6.35 .2 5.8 .2-2.15 .2 1.9 .2-.95 .2-.35 .2 5.75 .2-1.3 .2-3.85 .2-3.05 .2 .35 .2 6.2 .2-3.35 .2-2.55 .2 .2 .2 6.7 .2-4.1 .2-3.3 .2 7.9 .2-3.75 .2-5.85 .2 .5 .2 5.1 .2-3.45 .2 1 .2 7.45 .2 .5 .2-.55 .2-4.35 .2-.65 .2-4.65 .2-.15 .2 4.25 .2 .15 .2 2.7 .2-.45 .2-1.15 .2 .5 .2-1.2 .2 3.5 .2-7.95 .2 10.15 .2-4.55 .2-6.4 .2 5.35 .2 4.75 .2-7.7 .2 3.8 .2-2 .2 5.1 .2-4.1 .2-2.8 .2 3.55 .2 .05 .2-1.2 .2-2.2 .2-2.8 .2 4.5 .2-5.2 .2 2.5 .2 3.05 .2 3.3 .2-.6 .2-8.7 .2 9 .2-10.05 .2 7.55 .2-.4 .2 2.6 .2-2.35 .2 2.9 .2-5.45 .2 1.6 .2 3.25 .2-4.65 .2 0 .2 2 .2-5.3 .2 4.3 .2-2.6 .2 8.2 .2-.7 .2-1.8 .2 4.9 .2-6.55 .2-1.9 .2 2.35 .2-.1 .2-1.95 .2 2.1 .2-5.15 .2 .75 .2 4.15 .2-5 .2 7.75 .2-2.3 .2-3.35 .2 5.6 .2-2.85 .2 4.65 .2-6.1 .2-1.1 .2 3.2 .2-4.85 .2 6.8 .2-2.15 .2-11.95 .2 10.55 .2 .75 .2-4.7 .2 3.05 .2-.1 .2-5.45 .2 7.4 .2-1.05 .2-2.1 .2 .9 .2 1.5 .2 3.45 .2-2.1 .2-2.35 .2-.35 .2-.45 .2 4.8 .2-2 .2-2.85 .2 6.15 .2-1.8 .2-5.4 .2 4.5 .2-1.1 .2 .6 .2 1.1 .2-3.45 .2-.6 .2-1.9 .2 4.6 .2-1.25 .2-5.45 .2 5.8 .2 1.15 .2-.7 .2-1.5 .2 3.35 .2-4.25 .2-3.1 .2 9.85 .2-9.65 .2 5.7 .2 4.85 .2-7.4 .2 5.6 .2-4.75 .2-.1 .2-4.95 .2 7.95 .2-4.25 .2 4.6 .2-5.4 .2 3.3 .2 .05 .2 3.9 .2-1.65 .2-6.55 .2 6.9 .2-3.5 .2-1.85 .2 .75 .2 4.65 .2-8.4 .2 3.6 .2-2 .2 3.65 .2-1 .2-2.9 .2 3 .2 .15 .2-.55 .2 1.5 .2 3.45 .2-3.85 .2 .2 .2 1.9 .2-2.85 .2 0 .2-1.2 .2-.25 .2-.2 .2 2.9 .2-8.3 .2 6.15 .2 2.1 .2 2.75 .2 1.4 .2-9.8 .2 2.85 .2 1.8 .2-5.35 .2 3.35 .2 2.75 .2-1.3 .2-5.2 .2 8.4 .2-5.35 .2 3.05 .2-5.6 .2 5.25 .2 3.1 .2 .2 .2-.2 .2-1.2 .2-4.6 .2-1.65 .2 9.15 .2-8.7 .2 1.1 .2 5.35 .2-2.05 .2 3.95 .2-5.7 .2 4.9 .2 5.95 .2-11.4 .2 1.85 .2-1.7 .2 1.3 .2-1 .2 3.9 .2 .6 .2-2.2 .2 1.9 .2-5.9 .2 4.65 .2-3.3 .2 5.4 .2-2.35 .2-7.45 .2 6.2 .2-4.25 .2 3.25 .2 4.3 .2 3.35 .2-5.15 .2 .1 .2 .1 .2-2.45 .2-5.45 .2 8.9 .2-2 .2-.75 .2 1 .2 .5 .2-1.15 .2 2.9 .2-3.45 .2 3.85 .2-4.8 .2-.15 .2-2.3 .2 .8 .2-5.5 .2 4.05 .2 3.2 .2 3.8 .2-5.85 .2 1.75 .2 .5 .2 .4 .2-6.2 .2 4.6 .2 8.6 .2-3.8 .2-5.3 .2 2.8 .2 2.55 .2-3.9 .2 2.6 .2-1.45 .2-3.15 .2 2.85 .2-4.05 .2 3.55 .2 1.25 .2-2.85 .2 3.3 .2-.8 .2-.65 .2-1.7 .2-1.1 .2 3.1 .2-.05 .2 2.7 .2-9.1 .2 6.75 .2-1.9 .2-.5 .2-2.6 .2 11.25 .2-5.05 .2-2.1 .2 1.4 .2-6.8 .2 4.75 .2 1.05 .2-.8 .2-4.35 .2 3.25 .2 6.55 .2-2.3 .2-1.9 .2 .65 .2 6.5 .2-6.8 .2-3.6 .2-3.65 .2 5.75 .2-.45 .2-6.2 .2 4.65 .2 1.15 .2-.95 .2-6.15 .2 3.3 .2-.2 .2 7.95 .2-4.7 .2-2.95 .2 5.6 .2-7.9 .2 4.2 .2 3.1 .2-4.9 .2-.15 .2-2.4 .2 2.8 .2 5.15 .2-1.4 .2 2 .2-5.25 .2 10.1 .2-13.85 .2 2.25 .2-4.15 .2 8.75 .2-.75 .2 6.1 .2-8.65 .2 .15 .2-9.8 .2 3.4 .2 7.6 .2-2.6 .2 4.1 .2-5.2 .2 4.3 .2-.5 .2-6.3 .2 7.6 .2 1.6 .2-3.5 .2 2.15 .2-.6 .2-3 .2 3 .2 3.7 .2-9.65 .2 4.7 .2-2.75 .2 1.15 .2-1.25 .2-.15 .2 1.5 .2-2.35 .2 2.8 .2-8.05 .2 9.55 .2-4.95 .2-.35 .2 5.65 .2-1.15 .2-.6 .2-.25 .2-1.4 .2-4.15 .2 5.05 .2-.8 .2 .55 .2-2.9 .2-.25 .2-1.9 .2 6.8 .2-7.2 .2 4 .2-3.55 .2-2.5 .2 2.75 .2-4.15 .2 3.45 .2 .65 .2-3 .2 1.45 .2 1.35 .2-.75 .2-4.1 .2 4 .2-3.15 .2-.9 .2 1.85 .2-.85 .2 3.7 .2-2.45 .2-2.5 .2 8.3 .2-3.35 .2-11.55 .2 1.7 .2 1.05 .2 6.95 .2-8.15 .2 3.2 .2-1.25 .2 4.5 .2-5.8 .2 2.4 .2-2.65 .2 4.55 .2-3.25 .2 .25 .2-4.15 .2 0 .2 3.3 .2 2.35 .2-7.5 .2 1.4 .2-5.8 .2 7.9 .2-9.75 .2 4.55 .2-.75 .2-5 .2-2.2 .2 2.65 .2 2.95 .2-9.15 .2 2.4 .2-8.85 .2 7.6 .2-4.5 .2 1.1 .2 .7 .2-3.6 .2 3.95 .2 .15 .2-1 .2-5.9 .2-2.65 .2 2.95 .2-.4 .2-6.95 .2 .2 .2-2.2 .2 2 .2-6.2 .2-8.1 .2 8.7 .2-.5 .2-4.35 .2 .45 .2-5.1 .2-6.3 .2 4 .2-5.05 .2-4.9 .2 6.55 .2-6.35 .2-12.45 .2 10.5 .2-4.1 .2-4.3 .2-1.95 .2 1.25 .2-1.7 .2-2.1 .2-.55 .2-9.05 .2 6.35 .2 1.9 .2-12.05 .2-.9 .2-2 .2 .75 .2-12.05 .2 7.2 .2-8.4 .2 .35 .2-.4 .2-1 .2-4.9 .2 .9 .2 1.2 .2-4.95 .2 2.75 .2-7.25 .2-7.95 .2 6.35 .2-.5 .2-.7 .2-6.6 .2 .5 .2 3.3 .2 1.8 .2-.95 .2 5.95 .2-2.35 .2-.5 .2-1.35 .2-4.3 .2 8.45 .2-1.55 .2 3.8 .2 7.25 .2-5.95 .2 9.55 .2-8.6 .2 1.65 .2 .15 .2 6.4 .2-6.7 .2 11.1 .2 2.8 .2 3.35 .2 .6 .2 3.8 .2 1.95 .2-.15 .2 3.15 .2-.75 .2 3.45 .2 8.6 .2-7.7 .2 10.9 .2 1 .2-6.55 .2 1.95 .2 6.15 .2 5.6 .2-.7 .2 6.2 .2-1.3 .2-2.25 .2 8.75 .2 3 .2-1.9 .2 1.9 .2-2.3 .2 9.7 .2 4.85 .2-4 .2-3.65 .2 1.75 .2 6.15 .2-2.85 .2 4.1 .2-.75 .2 6.1 .2-3.3 .2 8.85 .2 3.35 .2 1.15 .2-9.45 .2 10.95 .2-1.75 .2 1.85 .2 .7 .2 1.8 .2 .1 .2 .15 .2 0 .2-1 .2 6.8 .2-3.25 .2 0 .2 5.05 .2-.55 .2-1.3 .2 1.1 .2-5.7 .2 3.25 .2 3.25 .2 2.9 .2 1 .2-4.9 .2 3.15 .2 2.95 .2 2.75 .2-4.9 .2 .15 .2-.95 .2 4.65 .2 1.7 .2 2.8 .2-3.7 .2 4.45 .2-2.5 .2 .95 .2-4.5 .2 10.3 .2-6.05 .2 5.1 .2-1.45 .2-2.95 .2-.6 .2 4.85 .2-4.15 .2-.4 .2 .25 .2 .25 .2 .7 .2 7.4 .2-4.3 .2 3.75 .2-2.05 .2-1.65 .2-.5 .2-2.1 .2 4.7 .2-.65 .2 .2 .2-.25 .2 2.35 .2-3.4 .2-2.2 .2 2.3 .2-3.6 .2 6.75 .2 4.65 .2-6.6 .2 4.9 .2 3.55 .2-7.2 .2 2.65 .2 .8 .2 3.05 .2-3.85 .2-3.45 .2 .55 .2-1.2 .2 2.65 .2 2.9 .2-.05 .2-3.6 .2 3.65 .2-7.35 .2 5.45 .2 4.65 .2-4.55 .2-.95 .2 5.55 .2 .45 .2-4.15 .2-6.95 .2 9.25 .2 3.85 .2-8.95 .2 10.6 .2-10.5 .2 6.55 .2-.3 .2-.5 .2-5.15 .2 5.25 .2-7.3 .2 4.65 .2-.05 .2 .35 .2-3.95 .2 1.3 .2-3.4 .2 11.8 .2-5.1 .2-3 .2 3.1 .2-.95 .2 5.25 .2-7.15 .2 5.7 .2-8.65 .2 4.35 .2 2 .2-2.45 .2 4 .2-2.75 .2-2.6 .2 .25 .2 5.95 .2-4.5 .2-1.15 .2-4.3 .2 .4 .2 1.5 .2 5.05 .2 1.65 .2-6.2 .2 8.9 .2-6.3 .2-.35 .2 .1 .2-3.7 .2 5.8 .2-3 .2 1.45 .2-7.85 .2 .55 .2 6.9 .2 1.85 .2-5.85 .2-.5 .2 .3 .2-1.8 .2-2.55 .2-.3 .2 7.65 .2-6.8 .2 4 .2-8.2 .2 6.55 .2 1.75 .2-5.75 .2 3.95 .2-3 .2 6.55 .2-9.55 .2-.6 .2-3.4 .2 2.55 .2 2.25 .2-5.7 .2 6.55 .2-7.05 .2 2.1 .2 3.25 .2-7.1 .2 2.05 .2-1.9 .2-2.2 .2 4.15 .2-9.65 .2 3.5 .2 2.85 .2 1.2 .2-4.1 .2-1.7 .2 9.9 .2-3.5 .2 .05 .2-1.5 .2 3.5 .2-2.65 .2-5.45 .2 4.65 .2 3.6 .2-8.85 .2 3.8 .2 2.45 .2 0 .2-1.95 .2 2.95 .2 .75 .2 5.2 .2-8.9 .2 2.7 .2-3.45 .2 7.5 .2-2.45 .2 .65 .2-.4 .2 4.45 .2-7.4 .2 1.95 .2 .75 .2-5.7 .2-1.9 .2 7.95 .2-2.7 .2 2.1 .2-3.15 .2-.9 .2-.35 .2 1.2 .2-2.2 .2-.5 .2 5.45 .2-1 .2-3.9 .2 5.4 .2-7.45 .2 4.75 .2 .4 .2-4.6 .2 6.5 .2-9.5 .2 3.75 .2-1.6 .2 6.95 .2-3.55 .2-3.45 .2 2.4 .2-1.65 .2 6.55 .2-5.9 .2 .5 .2 4.5 .2-2.4 .2 3 .2 .25 .2-1.55 .2-2.7 .2-1.45 .2 8.2 .2-.85 .2 3.55 .2-.5 .2-.2 .2-.25 .2 4.65 .2-12.65 .2 5.4 .2 7.8 .2-1.35 .2-1.65 .2 1.55 .2 4.9 .2-.75 .2-.4 .2-5.65 .2 9.4 .2-5.05 .2 4.7 .2 .15 .2-6.8 .2 1.45 .2-.15 .2 2.05 .2 5.8 .2 2 .2-2.65 .2-1.15 .2-1.5 .2 7.65 .2-4.75 .2-2.45 .2 3.05 .2 2 .2-3 .2 .1 .2-3.3 .2 6.9 .2-3.95 .2 4.65 .2-1.5 .2 .4 .2-2.6 .2 3.7 .2-5.05 .2 4.4 .2 4.6 .2 2.45 .2-10.7 .2 5.25 .2-1.35 .2-1.2 .2 3.8 .2-6.7 .2 6.25 .2-4.75 .2 7.4 .2-3.35 .2 7.2 .2-4 .2-3.3 .2-4.85 .2-3.6 .2 8.65 .2-1.65 .2 4.3 .2-5.95 .2 3.15 .2-2.45 .2 3.5 .2-.05 .2-5.85 .2 4.8 .2 3.55 .2-2.2 .2 2.85 .2-6.7 .2-2.95 .2 3.1 .2-1.25 .2 9.25 .2-4.9 .2 2.5 .2 2.15 .2-4.25 .2-7.55 .2-.6 .2 9.75 .2 .45 .2-6.3 .2 5.15 .2 .35 .2-1.45 .2-4.6 .2 8.05 .2-7.05 .2 4.9 .2-6.35 .2 1.85 .2 5.6 .2-6 .2-1.8 .2 4.75 .2-.2 .2-3.15 .2 4.95 .2 .7 .2-1.15 .2 4.8 .2-7.35 .2 6.15 .2-4.65 .2-4.1 .2 .2 .2-.9 .2-1.25 .2 7.5 .2-6.65 .2 4.45 .2 1.4 .2-1.1 .2 3.65 .2-6.75 .2 .9 .2 6.5 .2-.15 .2-3.6 .2-3.05 .2 .85 .2 4.85 .2 3.4 .2-7.95 .2 1.6 .2-2.55 .2 6.6 .2-3.2 .2 1.2 .2-3.6 .2 6.15 .2-2.25 .2 1.5 .2-4.15 .2-1.1 .2 3.25 .2-.25 .2 3.05 .2-.05 .2-8.05 .2-1.95 .2 10.1 .2-5.3 .2-.1 .2 3.7 .2-1.8 .2-.3 .2 1.35 .2-2.5 .2 .65 .2-1.05 .2 2.45 .2-2.8 .2 6.65 .2-3.4 .2-1.65 .2 3.45 .2-2.1 .2 1.65 .2-.8 .2-6.1 .2 8.05 .2-.55 .2-4.4 .2 9.4 .2-12.35 .2 7.55 .2-4.3 .2 .7 .2 3.15 .2 .45 .2-.65 .2-7.15 .2 8 .2-5.65 .2 1.6 .2 1.15 .2-5.1 .2 8.15 .2-4.3 .2-2.95 .2 1.5 .2-2.05 .2 .35 .2 5 .2 .45 .2 2.6 .2 3.3 .2-4.75 .2-10.65 .2 10.2 .2-1.4 .2 1.3 .2 .75 .2-2.3 .2 2.5 .2-.75 .2 4.7 .2-9.15 .2-1.1 .2 2.55 .2 8.95 .2-14.9 .2 5.9 .2-3 .2 3.35 .2 1.65 .2-4.4 .2 7.15 .2 2.6 .2-8.15 .2 4.4 .2-5.9 .2-.5 .2 6 .2 0 .2-6.1 .2 5.65 .2 2.65 .2-6.55 .2-3.3 .2 6.15 .2 2.45 .2-3.45 .2 2 .2-3.75 .2 2.65 .2-1.75 .2 1.5 .2 1.7 .2-2.5 .2-.25 .2-4.65 .2-1.15 .2 4.3 .2 1.8 .2-1.2 .2 1.35 .2-1.1 .2-.45 .2-.6 .2 1.7 .2 2.7 .2-3.3 .2-4.45 .2 2.55 .2-.05 .2 3.25 .2 2.9 .2-12.3 .2 6.55 .2 .2 .2 9.5 .2-9.55 .2 4.05 .2 3.3 .2-6.6 .2 1.05 .2 .35 .2 .85 .2-3.35 .2 3.1 .2-2.2 .2-.6 .2 7.25 .2-9.8 .2 8.1 .2-3.8 .2 .4 .2-1.9 .2 2.6 .2 1.5 .2-5.45 .2 5.35 .2-8.8 .2 4.1 .2-1.55 .2 3.4 .2 2.95 .2-4.45 .2 3.3 .2-1.45 .2 4.75 .2-10.2 .2 .25 .2 4.8 .2-5.55 .2 6.9 .2 .1 .2-3.6 .2 .35 .2 3.5 .2 .5 .2-2.15 .2 2.75 .2-4.1 .2 3 .2 2.8 .2-.3 .2-6.5 .2 .5 .2 .05 .2 3.3 .2 .8 .2-5.45 .2 .05 .2 4.55 .2-8.35 .2 10.8 .2-3.2 .2-2.65 .2 6 .2-3.3 .2-2.1 .2 9.45 .2-7.3 .2 .35 .2 .8 .2-1.45 .2 2.2 .2-3.4 .2 4.45 .2-2.2 .2-.2 .2 2.9 .2-7.1 .2 3.8 .2 2.15 .2 1.05 .2-3.95 .2-1.25 .2 4.9 .2-8.75 .2 9.4 .2-9.3 .2 2.4 .2 6.45 .2-3.25 .2-2.75 .2 6.95 .2-2.95 .2-2.9 .2 3.8 .2-.7 .2-1.95 .2 3.2 .2-.85 .2-6.15 .2 5.3 .2 .25 .2 .6 .2-4.5 .2 6.15 .2-8.15 .2 3.35 .2 .55 .2 1.2 .2-.8 .2 1.25 .2 1.1 .2 4.75 .2-7.65 .2 3.4 .2-2.95 .2 .65 .2-2.4 .2 1 .2 5.85 .2-4.5 .2 1.2 .2-4.95 .2 5.7 .2-.05 .2-.45 .2 2.35 .2-3.45 .2-2 .2 3.5 .2-.15 .2 4.3 .2-7 .2 1.75 .2 4 .2-4.75 .2 7.8 .2-.25 .2-6.85 .2 2 .2 .85 .2-5.15 .2-.7 .2 6.7 .2-.85 .2-4.4 .2-.75 .2-1.85 .2-.85 .2 7.6 .2-1.65 .2-1.7 .2-4.15 .2 1.8 .2 3.3 .2-4.6 .2 4.3 .2-2.15 .2-6.35 .2 9.9 .2-4.1 .2-4.5 .2 6 .2-3.95 .2 7.6 .2-4.15 .2 .9 .2 3.85 .2-9.1 .2 6.1 .2 2.75 .2-1.4 .2-5 .2 4.55 .2 4.35 .2-8.6 .2 1.2 .2 3.9 .2-2.1 .2-.65 .2 6.35 .2-7.9 .2 5.15 .2-7 .2-5.35 .2 9.25 .2 2.65 .2-3.9 .2 6.95 .2-5.35 .2 1.9 .2-1.05 .2-4.35 .2 7.5 .2 .55 .2-.1 .2-.5 .2 .3 .2-1.3 .2 1.2 .2-3.1 .2-3.4 .2 4 .2 1.5 .2-5.6 .2 2.35 .2 3.85 .2-4.95 .2 9.75 .2-6.45 .2 2.25 .2-1.3 .2 .75 .2-3 .2-3 .2-2.05 .2-.65 .2 2.25 .2-3.5 .2 5.2 .2-2.25 .2 1.05 .2-.55 .2 5.25 .2-4.65 .2-.5 .2 7.95 .2-6.4 .2 5.8 .2-6.1 .2 .8 .2 1.4 .2-5.4 .2 9.6 .2 .7 .2-7.1 .2 5.05 .2-2.8 .2-2.35 .2 6.9 .2-8.75 .2 3.25 .2 3.35 .2-3.95 .2 2.25 .2-5.75 .2 3.55 .2 1.05 .2-4.55 .2 1.45 .2 .65 .2 1.2 .2 1.55 .2-1.75 .2-4.3 .2 5.55 .2 4.15 .2-4.25 .2-1.3 .2 1.2 .2 2.05 .2-6.5 .2 9.75 .2-6.2 .2 7.25 .2-8.5 .2-1.05 .2 3.95 .2 2.6 .2-1.65 .2-.95 .2 .4 .2-.3 .2 2.9 .2-3.8 .2 2.45 .2-4.1 .2 1.35 .2-1.95 .2 1.55 .2-.75 .2-3.25 .2 8.15 .2-1.95 .2 .55 .2 5.7 .2-14.2 .2 8.05 .2-.9 .2 3.2 .2-5.55 .2 .3 .2-1.95 .2 5.85 .2 3.9 .2-8.65 .2 3 .2 .3 .2-2.95 .2-4.3 .2 9.35 .2-8.45 .2 9.1 .2-7.9 .2 7.45 .2 1.15 .2-5.95 .2-2.15 .2 3.25 .2 .45 .2-3.8 .2 2.9 .2 3.9 .2-.9 .2 1.85 .2-8.75 .2 2 .2 2.5 .2-.1 .2 3.3 .2-7 .2 9.3 .2-1.5 .2-1.2 .2-3.5 .2-4.05 .2 .5 .2 7.65 .2-3.6 .2 6.5 .2-4.95 .2-5.45 .2 8.35 .2-4.65 .2 1.1 .2 1.9 .2-6.9 .2 .85 .2 8.55 .2-9.4 .2 .8 .2-.45 .2 .15 .2 2.7 .2-.3 .2-1.85 .2 1.65 .2 2.95 .2-8.1 .2 5.65 .2 .7 .2-5.15 .2 9.7 .2-3.35 .2-1.05 .2 2.3 .2-.7 .2-2 .2 0 .2-3 .2 5.25 .2-.7 .2-4.05 .2 5.45 .2 2.9 .2-9.1 .2 10.15 .2-1.9 .2-.6 .2-3.85 .2 6.15 .2-6.5 .2 2.9 .2-3.8 .2-2.45 .2 6.3 .2 2.45 .2-8.8 .2 4.15 .2-2.05 .2-1 .2 1.9 .2 4.6 .2 1.45 .2-3.2 .2-1.15 .2 1.95 .2-5.3 .2 3.65 .2-2.35 .2 2.5 .2-6.45 .2 7.25 .2-2.5 .2 1.55 .2 .1 .2 3.85 .2-5.6 .2-4.15 .2 8.6 .2-.6 .2-4.65 .2 5.3 .2 0 .2-7.4 .2 .9 .2-1.1 .2 9.35 .2-11.2 .2 2.65 .2 4.5 .2 2.55 .2-.05 .2-2.45 .2 .9 .2 1.45 .2-2.1 .2-2.2 .2 1.5 .2 1.15 .2 .15 .2-1.4 .2-3.45 .2 3.05 .2 1.85 .2-5.7 .2 1.15 .2 3.85 .2 .75 .2-2.9 .2-.05 .2 1.05 .2-1.7 .2-.15 .2-4.35 .2 5.15 .2 6.15 .2-7.65 .2 .35 .2 3.5 .2 .9 .2 4.9 .2-8.9 .2 3.15 .2-5.05 .2 .65 .2 .5 .2 2 .2 1.85 .2-.7 .2-3.65 .2 2.8 .2-3.8 .2 1.8 .2-1.9 .2 3 .2 1.95 .2 5.9 .2-9.35 .2 4.2 .2-1 .2-1.85 .2-1.15 .2-1.55 .2 4.15 .2-2.65 .2 2 .2 3.15 .2-8.1 .2 9.85 .2-7.05 .2 4.3 .2-.7 .2-1.8 .2 2.05 .2 2.8 .2-4.15 .2 3.35 .2 2.8 .2-5.95 .2-3.05 .2 1.4 .2 2.5 .2 1.95 .2-9.35 .2 5.6 .2-1.4 .2 7.55 .2-8.65 .2 5 .2-1.7 .2 2.65 .2 2.8 .2-6.6 .2-3.35 .2 8.7 .2-6.7 .2 2.75 .2 1.75 .2-7.2 .2 3.05 .2 2.65 .2-2.8 .2 8 .2-10.3 .2 7.05 .2-4.65 .2 2.15 .2-2.6 .2 3.95 .2 2.05 .2-1.9 .2-2.1 .2-7.05 .2 8.1 .2-7.25 .2 9.75 .2-6.8 .2-2.55 .2 .85 .2 5.25 .2-2.85 .2 3 .2-4.4 .2 6.6 .2 2.5 .2-4.75 .2-3.55 .2-1.05 .2 1.7 .2 6.15 .2-5.7 .2-3 .2 13.75 .2-3.35 .2-.4 .2-7.1 .2 4.8 .2-5.6 .2 1.4 .2 3.6 .2-5.8 .2 3.7 .2-4.3 .2 7.25 .2-4.25 .2 1.75 .2 .25 .2-3.55 .2 .75 .2-.65 .2-5.6 .2 8.8 .2 2.35 .2 .65 .2-3.8 .2 2.9 .2-5.75 .2 2.15 .2-5.6 .2 4.35 .2 3.55 .2-6.6 .2 4.8 .2 8.05 .2-4.9 .2-2.5 .2 3.9 .2-1.8 .2-4.2 .2 11.4 .2-6.4 .2-.05 .2 .3 .2-6.4 .2 2.3 .2 3.1 .2-3.7 .2 1.15 .2-1.75 .2-.1 .2 5.6 .2-5.35 .2 6.05 .2-2.6 .2-7.15 .2 2.25 .2 .4 .2 6.85 .2-5.45 .2 3.65 .2 1.3 .2-3.2 .2-3.55 .2 2.95 .2 2.3 .2-3.05 .2 2.75 .2-4.8 .2-2.3 .2 2.85 .2 2.4 .2-5.95 .2 5.8 .2-2.8 .2-3.05 .2 5.9 .2 3.75 .2-9.55 .2 12.85 .2-7.85 .2-3.15 .2 3.75 .2-7.2 .2 6.7 .2-.45 .2-8.35 .2 1.2 .2 2.8 .2 2.3 .2 2.35 .2-2.05 .2-2.15 .2 5 .2-.55 .2-1.5 .2-1.6 .2-2.35 .2 3.2 .2 5.7 .2-3.35 .2 1.9 .2-8.55 .2 5.65 .2-5 .2 5.85 .2-.6 .2 .05 .2 2.85 .2-5.45 .2 5.25 .2-3.55 .2-2.65 .2 1.15 .2 3.45 .2-4.45 .2 4.25 .2-1.6 .2-3 .2-6.45 .2 8.45 .2 3.05 .2-4.85 .2 4.35 .2-5.65 .2 6.85 .2 1.6 .2-4.65 .2 .75 .2-6.1 .2 9.35 .2-7.3 .2 4.4 .2 4.75 .2-5.6 .2-.35 .2 .6 .2-3.65 .2-.05 .2 6 .2-6.55 .2 1.3 .2-3.5 .2 5.15 .2-4.1 .2 2.7 .2-.3 .2 .65 .2-2.2 .2 1.3 .2 4.75 .2-.7 .2-1.2 .2-.3 .2-7.25 .2 4.65 .2 1.6 .2-.1 .2 .95 .2-6.25 .2 5.6 .2-3.3 .2 2.75 .2 4.5 .2-3.8 .2-2.05 .2-2.85 .2 6 .2-9.85 .2 3.85 .2-5.65 .2 7.4 .2-2.15 .2 .75 .2-1.75 .2 9.9 .2-4.05 .2-.3 .2-4.9 .2 4.75 .2-2.8 .2-1.2 .2-4.15 .2 5.25 .2-9.1 .2 5.9 .2-5.2 .2 8.7 .2 .45 .2 .8 .2-7.7 .2 7.95 .2 2.95 .2-8.65 .2-1.45 .2 .8 .2-.15 .2 4.7 .2-5.15 .2 3.15 .2-1.65 .2-3.35 .2 3.1 .2-.2 .2 .15 .2 .3 .2-2.25 .2 2.3 .2-7.45 .2 3.9 .2 5.9 .2-3.4 .2-2.25 .2-1.75 .2 .4 .2 1.45 .2-5.8 .2 4.85 .2 .45 .2-6.55 .2 1.3 .2 5.45 .2-.7 .2 7.3 .2 .7 .2-16.85 .2 7.8 .2 6.45 .2-2.75 .2 3.8 .2-.45 .2-4.45 .2 4.4 .2-3.85 .2-3.75 .2 4.85 .2 4.1 .2-1.25 .2-3.9 .2 6.4 .2-.1 .2 .35 .2-10.65 .2 3.8 .2 .95 .2 0 .2-4.45 .2 5.4 .2 6 .2-6.95 .2 10.9 .2-10.35 .2 4.9 .2-1.75 .2-3.1 .2 5.1 .2-.05 .2-.6 .2 4.5 .2-1.15 .2-7.55 .2 9.75 .2-7.2 .2-3.1 .2 9.25 .2 1.25 .2-6.6 .2 3.3 .2-2.35 .2 4.6 .2-3.55 .2 2.6 .2-4.85 .2 6.2 .2-1.55 .2 8.5 .2-3.95 .2-6.2 .2-2.2 .2 6.65 .2-5.1 .2 5.45 .2 1.1 .2 1.6 .2 .15 .2-.9 .2-3.95 .2-.05 .2 .9 .2 4.8 .2-6.5 .2 1.3 .2 2.85 .2-6.75 .2 2.8 .2 1.5 .2-1.45 .2-.35 .2 3.15 .2-4.4 .2 5 .2-2.8 .2-4.2 .2-3.85 .2 5.75 .2 4.95 .2-2.1 .2-1.2 .2 1.7 .2 1.5 .2-2.05 .2-2.4 .2 7.7 .2-4.5 .2 1.7 .2-3.5 .2 2.6 .2 2.9 .2-6.35 .2 2.35 .2-.45 .2-2.6 .2 9.4 .2-9.5 .2 5.6 .2-4.05 .2 1.9 .2-1.1 .2-.55 .2 1.95 .2-7.4 .2 4.65 .2 3.65 .2 4.75 .2-5.35 .2-3 .2 5.95 .2-1.5 .2-5.2 .2 1.35 .2-1.6 .2 7.6 .2-7.3 .2-.2 .2 4.45 .2 2.6 .2-5.15 .2 4.4 .2-6.8 .2 6.85 .2-1.9 .2-.4 .2-7.25 .2 10.3 .2-3.1 .2 .55 .2-4.15 .2 8.2 .2-6.05 .2 2.75 .2-1.8 .2-.45 .2 3.15 .2-.5 .2 2.6 .2-5.9 .2 4.35 .2-5.8 .2 3.5 .2-5.8 .2 5.55 .2-.6 .2-1.7 .2 .05 .2 1.65 .2 4.35 .2-4.05 .2 .55 .2 1.2 .2 3.15 .2-.85 .2-1.85 .2-7.3 .2 7.65 .2-4.1 .2 3.55 .2-4 .2 4.4 .2-3.15 .2-.15 .2 2.2 .2-5.4 .2 8.45 .2-3.85 .2-.35 .2-2.6 .2 5.25 .2-5.75 .2 7.1 .2-6.35 .2 3 .2-2.65 .2 2.6 .2 2.45 .2-4.65 .2-1.8 .2 3.05 .2-1.85 .2 3.3 .2-4.7 .2 2.25 .2 4.2 .2-1.95 .2-3.85 .2 2.35 .2 1.65 .2 1.85 .2-5.6 .2 3.6 .2-3.5 .2-2.15 .2 8.5 .2-1.3 .2 .2 .2 .75 .2-3.75 .2 5.1 .2-1.45 .2-5.15 .2 .95 .2-3.9 .2-1.25 .2 8.7 .2-.3 .2-4.55 .2 4.7 .2-2.1 .2-4.7 .2 6.7 .2-.25 .2 .2 .2-4.25 .2-2.25 .2 5.9 .2 2.5 .2 7.35 .2-17.7 .2 5.2 .2 4.65 .2-1.25 .2 1.6 .2-7.75 .2 .2 .2 6.3 .2-9.05 .2 5.1 .2-3.6 .2 5.75 .2-1.3 .2 5.8 .2-5.85 .2 5.4 .2-3.45 .2-2.2 .2-3.65 .2 6.7 .2-3.85 .2 7.85 .2-6.2 .2 2.1 .2 .5 .2-10.6 .2 6.2 .2 2.75 .2 1 .2-1.8 .2 5.1 .2-1.6 .2-.2 .2 1.25 .2-8.95 .2 7.85 .2-3.7 .2-4.15 .2 7.25 .2 2.15 .2-1.4 .2-1.25 .2-3.3 .2 7.8 .2-4.45 .2-3.3 .2-2.25 .2 3.35 .2-5.35 .2 8.65 .2 .2 .2-4.35 .2-4 .2 2.75 .2 8 .2-.45 .2-3.15 .2 3.2 .2-2.05 .2-4.8 .2-.8 .2 4.65 .2 1.55 .2-10.9 .2 7.1 .2-3.4 .2-2.75 .2 3.9 .2 2.35 .2 .75 .2-.4 .2 1.55 .2-3.35 .2-2.4 .2 10.5 .2 .3 .2-11.1 .2 .65 .2-.9 .2 4.45 .2-.3 .2-2.7 .2 3.25 .2 .35 .2 .75 .2-1.75 .2-1.35 .2 1.7 .2-6.85 .2 5.7 .2-5.1 .2 6.85 .2 .65 .2-1.6 .2-.75 .2 7.2 .2-1.65 .2-.7 .2-3.6 .2 2.75 .2-3.6 .2 3.35 .2-8.8 .2 7.85 .2-7.25 .2 5.4 .2 .8 .2 3.85 .2-5.15 .2-1.6 .2 4 .2 .65 .2-1.4 .2-2.3 .2 3 .2-5.5 .2 3.8 .2-2.25 .2 4.8 .2-5.55 .2 7.25 .2 .95 .2-5.25 .2-4.35 .2 5.75 .2-2.75 .2 1.55 .2 1.4 .2 0 .2-.7 .2-6.7 .2 5.75 .2-2.75 .2 3.85 .2-10.2 .2 5.75 .2 1.1 .2-3.4 .2 6.3 .2 1.35 .2 .2 .2-3.2 .2-1.2 .2 5.85 .2-6.05 .2 7.75 .2-2.9 .2-3.9 .2 5.95 .2-.55 .2-10.45 .2 6.7 .2-1.3 .2 .3 .2 6.65 .2-1.75 .2 3.2 .2-3.95 .2-3.35 .2-2.5 .2 4.25 .2 .5 .2-2.85 .2-.8 .2 4.1 .2-2.25 .2 6.1 .2-8.2 .2 3.85 .2-1 .2 6.8 .2-8.6 .2-1.2 .2 2.75 .2-1.7 .2 5.45 .2-1.6 .2-1.55 .2-1.5 .2-7.75 .2 3.8 .2 2.25 .2-1.8 .2 5.95 .2 3.2 .2-7.7 .2-1.55 .2 3.95 .2 5.25 .2-6.4 .2-2.05 .2 4.15 .2-5.85 .2 .75 .2 4.6 .2-4.85 .2 3.5 .2-.4 .2-3.1 .2 5.7 .2 4.9 .2-4.85 .2-4.3 .2 .95 .2 3.45 .2-3.05 .2-.7 .2-.7 .2 2.65 .2 .4 .2-1.45 .2 2.75 .2 .75 .2 2.1 .2-3.75 .2 .3 .2 .25 .2-2.75 .2 4 .2-8.85 .2 8 .2-3.75 .2 2.5 .2 3.75 .2-.55 .2 2.3 .2-15.4 .2 12.15 .2-3.7 .2 4.95 .2-6.4 .2 3.9 .2-4 .2 .95 .2-3.35 .2 4.9 .2-2.1 .2 .2 .2 7.5 .2-8.7 .2 6.5 .2-4.6 .2 .05 .2 1.5 .2-2.1 .2 10.15 .2-11.75 .2 1.9 .2 1.4 .2 3.4 .2-1.4 .2-.5 .2-2.9 .2 1.6 .2 3.6 .2 .6 .2-7.75 .2-4.5 .2 11.05 .2-2.9 .2 .65 .2-4.65 .2 4.65 .2 .35 .2 3.2 .2 3.05 .2-7.05 .2-.05 .2-.65 .2 .6 .2-8.4 .2 6.2 .2 0 .2 7.1 .2-2.95 .2-5.05 .2 .4 .2-.65 .2-1.95 .2 6.2 .2 1.1 .2-4.3 .2-5.4 .2 6.55 .2 2.85 .2-3.85 .2-3.1 .2 3.25 .2 8.25 .2-6.5 .2 1.1 .2-4.7 .2 3.2 .2-4.1 .2 5 .2-7.4 .2 .35 .2 11.8 .2-7.85 .2 4.25 .2-4.8 .2 4.8 .2-6.7 .2-.25 .2 7.75 .2-1.95 .2-9.4 .2 4.35 .2 3.05 .2 5.2 .2-4.9 .2-.4 .2-4.6 .2 8.7 .2-1.3 .2-9.55 .2 7.3 .2-10.55 .2 9.2 .2-2.8 .2 3.65 .2-5.95 .2 6.6 .2-5.9 .2 3.05 .2-1.85 .2-.6 .2 7.25 .2-3.75 .2 4 .2-4.8 .2 1.55 .2 3.45 .2-5.3 .2-1.1 .2-1.6 .2 1.15 .2 4.7 .2-1.75 .2-1.6 .2 1.2 .2 1.55 .2-.1 .2-5.9 .2 .05 .2 8.7 .2-5.85 .2 2.3 .2-4.25 .2-2.45 .2 1.35 .2 6.05 .2-5.1 .2 4.95 .2-1.9 .2-6 .2 1.3 .2 3.4 .2 4.4 .2-2.75 .2-10.1 .2 9.15 .2-2.7 .2 1.4 .2 2.1 .2-6.4 .2 6.85 .2-4.3 .2-2.8 .2 5.1 .2-5.1 .2 0 .2 .4 .2 4.2 .2 1.6 .2-5.25 .2 8.15 .2-7.2 .2 2.2 .2-.85 .2-1.25 .2-3.95 .2 4.25 .2-2.55 .2-.8 .2-1 .2 4.35 .2-2.5 .2 1.65 .2-2.35 .2-2.5 .2 .75 .2 7.65 .2-2.3 .2-1.1 .2 .95 .2-6.05 .2 6.7 .2-8.4 .2 3.3 .2-.3 .2 .25 .2-4.35 .2 9.45 .2-9.4 .2 8.55 .2-1.65 .2-.55 .2-1.75 .2-1 .2-1.05 .2 7.25 .2-6.25 .2-1.35 .2 5.7 .2 3.8 .2-11.25 .2 3.75 .2-.2 .2-3.25 .2-.5 .2 5.6 .2-2.25 .2 2.75 .2-7.4 .2 .7 .2 1.1 .2 2.2 .2 1.25 .2-2.3 .2-5.5 .2 3.8 .2 8.05 .2-8.05 .2 3.55 .2-2.95 .2 2.75 .2 1.45 .2-8.95 .2 5 .2 5.45 .2-7.65 .2 .15 .2 2.8 .2 1.1 .2-6.85 .2 8.2 .2-3.65 .2 .2 .2 .45 .2-1.65 .2 3.85 .2-4.1 .2 1.5 .2-1.8 .2 1.1 .2-.8 .2-4.8 .2 6.45 .2-6.75 .2 5.65 .2-1.35 .2-4.85 .2 3.3 .2-1.6 .2 1.55 .2-3.95 .2 6.05 .2-3.35 .2 2.65 .2-5.85 .2-.8 .2 3.2 .2-6.35 .2 2.1 .2 6.5 .2-7.3 .2 1.85 .2-5.55 .2 7.6 .2-7.8 .2-.6 .2 4.3 .2-4.8 .2-3.65 .2 2.45 .2 4 .2-3 .2 2.55 .2 .45 .2-1.2 .2 2.45 .2-5 .2 3.5 .2-6 .2 5.1 .2-2.05 .2 .1 .2 6.5 .2-9.9 .2 .55 .2 .65 .2-.25 .2-1.5 .2-.25 .2-2.85 .2-2.35 .2-2.85 .2 4.65 .2-2.8 .2-3.05 .2 10.2 .2-1.65 .2-3.2 .2-5 .2 4 .2 .45 .2-1.85 .2 6.75 .2-1.5 .2-7.2 .2 5.5 .2-6.95 .2 7.7 .2 1.05 .2 2.75 .2-13.15 .2 14.45 .2-8.2 .2 6.15 .2-5.45 .2 4.1 .2 2.1 .2-2.1 .2 3.2 .2-2.9 .2-.25 .2 .2 .2-1.9 .2 5.75 .2-1.4 .2 7.9 .2-6.35 .2 6.4 .2-12.7 .2 11.3 .2 .1 .2 3.4 .2 2.85 .2-4 .2 4.7 .2-6.25 .2-.05 .2 5.95 .2-2.1 .2 3.35 .2-6.2 .2 2.4 .2 2.45 .2-.5 .2 3.65 .2 7.2 .2-9.95 .2 5.9 .2-5.2 .2-3.75 .2 .3 .2 2.2 .2-3.35 .2 6.75 .2 3.25 .2-9.5 .2 6.55 .2-2.55 .2 8.85 .2 .4 .2-2.9 .2-.6 .2-1.4 .2 1.35 .2 6.05 .2-2.95 .2-1 .2 5.55 .2-5.25 .2 .65 .2-2.4 .2-3.7 .2 5.95 .2-1.5 .2 4.5 .2-7.45 .2 .4 .2 4.65 .2-2.45 .2 .85 .2 2 .2-3.25 .2 3.05 .2 6.9 .2-5.9 .2-1.25 .2 1.9 .2-2.95 .2 4 .2 1.75 .2-4.85 .2 .3 .2 3.4 .2-7.25 .2 10.25 .2-6.9 .2-3.7 .2 6.65 .2-3.8 .2-.95 .2 1.3 .2 3.4 .2 1.6 .2-7.65 .2 6.1 .2-3 .2 2.3 .2 2.95 .2-.95 .2 2.9 .2-7 .2 3.4 .2 1.3 .2-3.45 .2-.65 .2-2.35 .2 .35 .2 10.95 .2-8.2 .2 2.4 .2 .3 .2-1.95 .2 1.9 .2 1.15 .2-4.15 .2 6.55 .2-3.5 .2-1.9 .2 .5 .2 4.85 .2 1.25 .2-7.15 .2 3.3 .2-3.4 .2-1.45 .2 3.2 .2 1.5 .2 5.05 .2-9.55 .2-.75 .2-3.2 .2 2.3 .2 6.5 .2-.3 .2 4.2 .2-2.95 .2-3.7 .2 2.65 .2 2.45 .2-10.1 .2-1.2 .2 7.5 .2 .5 .2-8 .2 4.75 .2-2.75 .2 5.05 .2 3.5 .2-1.75 .2 1.1 .2-5.75 .2-.95 .2 5.6 .2-5.6 .2 2.3 .2 1.6 .2-5.95 .2-3.75 .2 11.25 .2-4.65 .2 3.1 .2-1.4 .2-7.15 .2 6.15 .2-3 .2 .9 .2-1.15 .2 1.6 .2 1 .2-3.95 .2 4.7 .2 4.15 .2-7.3 .2 5.35 .2-5.65 .2-1.15 .2-1.85 .2 7.05 .2-5 .2-2.5 .2 6.05 .2-4.8 .2 1.7 .2-7.2 .2 2.95 .2 1.35 .2 2.9 .2-.5 .2-1.35 .2-2.85 .2 6.1 .2-5.55 .2-.35 .2-4.4 .2 7.5 .2-.05 .2 .7 .2-6.7 .2 6.5 .2-3.4 .2-8.4 .2 7 .2-2.55 .2 3.35 .2-5.6 .2-1.4 .2 3.05 .2 9.2 .2-10.1 .2-.9 .2-1.3 .2-2.5 .2 2.05 .2 5.25 .2-7.4 .2 2.3 .2 .5 .2 3.25 .2-2.4 .2-1.2 .2 8 .2-1.55 .2-3.45 .2-5.2 .2 3 .2-7 .2 .5 .2 3.2 .2 2.5 .2 1.85 .2-2.75 .2-3.85 .2 4.6 .2 .05 .2 2.6 .2 1.25 .2-1.1 .2 2.6 .2-2.5 .2-1.5 .2 3.5 .2-2 .2-6.6 .2 8.25 .2-.3 .2-5.2 .2 6.6 .2-6.95 .2 11.4 .2-14.6 .2 9.4 .2-3.35 .2 1.35 .2 3.8 .2 .45 .2 .9 .2 1.5 .2-7.55 .2 3.25 .2-.1 .2 1.55 .2-6.85 .2 11.15 .2-1.85 .2 1.35 .2-.85 .2-3.8 .2-.35 .2 1.15 .2-2.9 .2 2.8 .2 2.05 .2 1.8 .2-2.25 .2 8.6 .2-8 .2 3.05 .2 .35 .2-5.6 .2 6.4 .2-6.95 .2 4.5 .2-.2 .2 .85 .2 3.6 .2 3.15 .2-3.5 .2 1.9 .2-4.1 .2-.9 .2 3.65 .2-3.55 .2 4.15 .2 3.1 .2 1.1 .2 .6 .2-8.1 .2 5.95 .2-1.25 .2-1.3 .2-2.4 .2 4.05 .2 3.85 .2-3.65 .2-.6 .2 5.65 .2-5.45 .2 .85 .2 5.55 .2 1 .2-6 .2-.6 .2-1.05 .2-.75 .2 1.1 .2 4.5 .2 2.5 .2-7.75 .2 2.2 .2 1.75 .2-.6 .2-2.75 .2-1.55 .2-1.6 .2 6.15 .2 .7 .2-.9 .2 2.25 .2-3.1 .2 .2 .2-6.45 .2 12.65 .2-8.8 .2 6.4 .2 2.45 .2-4.4 .2 1.4 .2-1.45 .2 1.6 .2-2.3 .2-4.2 .2 4.2 .2-5.1 .2 7.15 .2-.8 .2 2.75 .2-5.55 .2-1.9 .2 5.1 .2-2 .2 0 .2-1.95 .2 .7 .2 4.8 .2-2.6 .2 1.05 .2 5.65 .2-2.35 .2-3.45 .2 3.35 .2-6 .2-.4 .2 3.5 .2 .7 .2-.7 .2 5.6 .2-10.3 .2 7 .2-1.15 .2 .95 .2-4 .2-1.15 .2 2 .2 .3 .2-3.9 .2 6.35 .2-4.7 .2-2.1 .2 6.05 .2-1.2 .2-4.2 .2 2.6 .2-.45 .2-.6 .2-1.2 .2 3.7 .2 1.85 .2-3.4 .2 4.65 .2-1.9 .2 3.55 .2-3.3 .2-2.7 .2 2.65 .2-.5 .2-4.6 .2 1.5 .2 4.6 .2-4.25 .2 4.85 .2-6.9 .2 4.95 .2-1.8 .2-2 .2 1.55 .2-.35 .2 8.35 .2-3.7 .2-3.55 .2 6.5 .2-5.15 .2-.8 .2 3.45 .2-1.8 .2-1.4 .2-1.8 .2 1.25 .2-.8 .2-1.6 .2 1.55 .2-.35 .2-1.6 .2 1 .2 5.45 .2 .55 .2-2.75 .2-2.95 .2 .95 .2 1.8 .2 2.8 .2-5 .2-1.65 .2 .75 .2 2.45 .2 1.75 .2 3.05 .2-10.35 .2 4 .2 2.45 .2-4.5 .2 2.3 .2-3.55 .2 4.2 .2 3.9 .2 2.6 .2-7.35 .2 1.7 .2 4.35 .2-1.35 .2-.7 .2-.05 .2-2.45 .2-2.4 .2 1.95 .2 3.55 .2-2.45 .2 2.35 .2-.15 .2-1.25 .2 .8 .2-6.35 .2 2.95 .2 3.2 .2-2.9 .2-2.15 .2 3.35 .2-3.4 .2 6.85 .2-1.6 .2-2.25 .2 2.25 .2-2.9 .2 5.45 .2-6.55 .2 6.45 .2-3.95 .2 .45 .2-2.65 .2 1.15 .2 2.7 .2-1.9 .2-.75 .2 7.05 .2-9 .2 1.2 .2-2.05 .2-2.15 .2 6.55 .2 .35 .2-3.65 .2-1.15 .2 5.5 .2-4.2 .2 8.2 .2-1.15 .2-3.1 .2-2.1 .2 2.55 .2-6.9 .2 7.5 .2 2.45 .2-9.85 .2 3.85 .2 3.6 .2-2.45 .2-1.15 .2 5.6 .2-3.55 .2 2.1 .2-4.35 .2 1.6 .2-4.2 .2-1.25 .2 2.15 .2 4.3 .2 2.05 .2-7.05 .2 7.4 .2-5.85 .2-2.1 .2 5.15 .2 .3 .2-2.95 .2 2.1 .2 1.05 .2 .2 .2-2.8 .2-.85 .2 11.55 .2-7.6 .2-4.85 .2 4.2 .2 .75 .2 .3 .2-7.15 .2 3.95 .2 2.55 .2 1.3 .2 1.25 .2-3.55 .2-3.3 .2 9.35 .2-9.9 .2 3.45 .2 3.5 .2-3.95 .2 4.85 .2-2.65 .2 .6 .2 1.8 .2-3.3 .2-5.35 .2 7.65 .2-1 .2-1.4 .2 .2 .2-2.6 .2-.85 .2 4.65 .2-4.9 .2 5.3 .2-3.8 .2-.3 .2-1.7 .2 1.65 .2 2 .2-.15 .2 .35 .2 1.45 .2-3.3 .2 1.35 .2-2.05 .2 4.8 .2 .6 .2-1.6 .2 3.55 .2-7.05 .2-.55 .2 2.05 .2 7.8 .2-5.6 .2-.25 .2-1.5 .2 3.25 .2-1.75 .2 2.45 .2-1.45 .2 2.35 .2-10.4 .2 4.45 .2 1.2 .2-4.6 .2 2.65 .2 5.05 .2-1.45 .2 2.15 .2-6.9 .2 7.1 .2-5.9 .2 4.35 .2-3.9 .2 4.75 .2-2.5 .2-1.95 .2 .2 .2 1.65 .2 5.05 .2-8.3 .2 5.8 .2-2.2 .2 .35 .2 .95 .2 .65 .2-3.5 .2-.45 .2-1.1 .2 4.7 .2 1.3 .2-.25 .2-2.3 .2-1.1 .2-2.25 .2 3.5 .2-2.65 .2-.95 .2-.3 .2-1.65 .2 4.85 .2-1.05 .2 4.4 .2-5 .2 9.2 .2-7.4 .2-2.25 .2 3.75 .2-3.6 .2 4.8 .2-6.35 .2-1.35 .2 11.5 .2-5.6 .2-.55 .2-3.15 .2-.25 .2 1 .2 2 .2-.15 .2-6.3 .2 9.3 .2-1.95 .2 1.45 .2-7.5 .2 3.15 .2-.85 .2 1.55 .2-5.7 .2 8.55 .2-4.45 .2-6.75 .2 10.25 .2-4.85 .2 6.3 .2-9.15 .2 4.15 .2-2.95 .2 6.2 .2-5.4 .2-.2 .2 1.5 .2-.25 .2 6.1 .2-4.9 .2 .05 .2 1.55 .2 .2 .2 0 .2-1.85 .2 .15 .2-.1 .2 1.3 .2-.25 .2 4.3 .2-7.8 .2-.1 .2 3.85 .2 .65 .2 2.4 .2-1.3 .2-.45 .2 5 .2-3 .2-5.7 .2 3.75 .2-3.95 .2 3.05 .2-2 .2 .05 .2-1.3 .2 2.9 .2 1.15 .2 .3 .2-1 .2-.85 .2 1.3 .2 2.7 .2-6.45 .2-2 .2 4.1 .2-.45 .2 4.35 .2 .3 .2 .9 .2-8.75 .2 7.2 .2 1.95 .2-2.45 .2 2.6 .2-1.65 .2-3.25 .2 4.2 .2-2.65 .2-5.9 .2 6.7 .2-5.4 .2 2.45 .2-5.6 .2 4.25 .2 4.25 .2-3.2 .2-4.8 .2 2.15 .2 7.7 .2-5.05 .2 3.05 .2 3.85 .2-4.75 .2-.2 .2 4.5 .2-11.95 .2 7.8 .2-.15 .2 1.05 .2-.5 .2-2.7 .2-2.1 .2 7.75 .2-2.05 .2-7.9 .2 2.55 .2 5.4 .2-.8 .2-3 .2 .4 .2 .05 .2 1.9 .2-2.3 .2 .45 .2-3 .2 7.25 .2-6.55 .2 1.95 .2 .75 .2-1 .2-3 .2 1.6 .2 1.25 .2-5.85 .2 7.6 .2 7.15 .2-10.15 .2 0 .2 2.7 .2-2.35 .2-1.8 .2 3.4 .2-1.6 .2 .05 .2 4.15 .2-1.65 .2 .8 .2 2.55 .2-2.45 .2 1 .2-2.65 .2 2.55 .2 2.3 .2-6.3 .2 2.4 .2-4.25 .2 2.6 .2 .55 .2 2 .2-3.05 .2 5.9 .2 .25 .2-2.25 .2 4.35 .2-9.75 .2-3.05 .2 4.4 .2-1.3 .2-.2 .2 1.35 .2 3.3 .2 2.15 .2-4.8 .2 3.7 .2-2.85 .2 .55 .2 4.05 .2-4.45 .2 1.1 .2-.55 .2-3.4 .2 5.65 .2 4.75 .2-7.5 .2 3.05 .2 1.35 .2-3.55 .2-.15 .2-1.6 .2-3.1 .2 2.5 .2 3.5 .2 .5 .2-5.4 .2 8.05 .2-10.5 .2 1.95 .2 3.9 .2-4.05 .2 2.35 .2 2.75 .2-4.9 .2-.75 .2 6.05 .2 2.85 .2-5.1 .2 3.95 .2-9.2 .2 2.95 .2 6 .2-1.6 .2-2.2 .2-3.35 .2-2 .2 8.25 .2 .15 .2-2.55 .2 1.4 .2-2 .2-1.35 .2-.55 .2 .15 .2-.65 .2 6.85 .2-3 .2-1.1 .2 4.3 .2-2.5 .2-1.55 .2 .35 .2 1.05 .2-3.95 .2 2.7 .2-3.7 .2 1.25 .2 1.5 .2-1.55 .2 3.15 .2 0 .2 4.95 .2-5.65 .2 1.15 .2-3.45 .2 1.75 .2 .35 .2 3 .2-2.6 .2-1.25 .2-1.65 .2 2.5 .2 2.55 .2-7.05 .2 8.15 .2-3.8 .2-3.9 .2 2.9 .2 3.75 .2 .15 .2-5.75 .2 1.8 .2 5.55 .2-2.3 .2 3.3 .2-2.35 .2-4.25 .2 1.7 .2-2.85 .2 2.9 .2 2.5 .2-1.35 .2-3.6 .2-2.5 .2 4.4 .2-7.8 .2 6.95 .2 4.95 .2-4.6 .2-5.7 .2 5.3 .2-1.55 .2 4.45 .2-8 .2 5.75 .2-2.5 .2 5.35 .2-1.95 .2-3.95 .2 5.2 .2-3.45 .2 4.5 .2-1.95 .2 1 .2-3.5 .2-.3 .2-.4 .2 1.95 .2-7.35 .2 11.85 .2-4.75 .2-.05 .2-5 .2 .85 .2 .3 .2 5.65 .2-4.7 .2-.1 .2 4.95 .2-4.9 .2-3.35 .2-2.8 .2 8.45 .2 5.6 .2-3.4 .2-.4 .2-5.15 .2 8.7 .2-7.15 .2 5.7 .2 3.9 .2-5.5 .2-6.9 .2 5.25 .2-2.65 .2 1.85 .2 3.2 .2 2.6 .2-2.05 .2-3.9 .2 1.8 .2-3.7 .2 3.25 .2-1.8 .2 3.8 .2-.1 .2-2 .2-.85 .2-1.1 .2 5.1 .2-1.65 .2 .75 .2-4.75 .2 3.35 .2-1.65 .2 2.4 .2 5.05 .2-5.15 .2-.85 .2-7.6 .2 4.15 .2-4 .2 3.6 .2 5.15 .2 2.25 .2-5.9 .2-6.1 .2 10.5 .2-1 .2-4.1 .2-5.9 .2 10.4 .2-4.15 .2 .95 .2-7.15 .2 3.85 .2 7.4 .2-8 .2 5.2 .2-2.55 .2 .8 .2 1.7 .2-4.8 .2 3.1 .2-.25 .2-2.8 .2 3.5 .2-2 .2-3.15 .2 9.25 .2-2.4 .2-3.7 .2 2.4 .2-6.6 .2 4.55 .2 1.05 .2 .6 .2-5.2 .2 3.25 .2 1.5 .2-4.5 .2 9.8 .2-8.15 .2-4.4 .2 4.8 .2 5.45 .2-9.55 .2 11.15 .2-3.15 .2-2.4 .2 .55 .2 3.7 .2-8.4 .2 2.4 .2-.75 .2 3.7 .2-3.95 .2 .2 .2 .55 .2 1.95 .2 1.6 .2-5.3 .2 2.4 .2 .1 .2 1.9 .2 2.95 .2-7 .2-.9 .2 1.6 .2 .95 .2 3.2 .2-3.45 .2 2.8 .2-2.05 .2 4.65 .2-4.4 .2 4.25 .2-1.85 .2-8.15 .2 4.45 .2-2 .2-.35 .2 2.5 .2-4.4 .2 6.1 .2 3.95 .2-.15 .2-5.4 .2 1.05 .2-4.6 .2 3.75 .2-3 .2 1 .2 .6 .2 1.5 .2-2.55 .2 5.5 .2-6.5 .2 4.45 .2-2.3 .2-2.15 .2 4.75 .2-3 .2-3.35 .2 5 .2-5.7 .2 2.9 .2-4.5 .2 5.2 .2-9.85 .2 4.1 .2 2.35 .2 2.9 .2-4.75 .2 6.65 .2-4.8 .2-.35 .2-5.1 .2 9 .2-5.1 .2 .5 .2 2.1 .2 2.2 .2-3.9 .2 3.55 .2-3.8 .2-1.4 .2 2.2 .2 5.45 .2-4.8 .2-4.5 .2 4.5 .2-.2 .2-3.9 .2 2.75 .2-.55 .2-6.55 .2 7.65 .2-8.15 .2 6.8 .2-5.05 .2 .8 .2 1.35 .2-1.65 .2 2.95 .2-.5 .2 4.5 .2-8.45 .2 1.2 .2 1.3 .2-2.9 .2-1.65 .2 1.65 .2 .9 .2 6.7 .2-13.35 .2 5.25 .2-4.8 .2 12.1 .2-8.35 .2 3.35 .2-9.75 .2 7.95 .2-.5 .2 .8 .2 2.25 .2-2.65 .2 3.65 .2-5.95 .2-4.7 .2 5.95 .2-.3 .2-4.8 .2 3.2 .2-.5 .2-3.55 .2-.9 .2 9.05 .2-4.9 .2 .45 .2 2.55 .2-8.4 .2 2.15 .2 2.8 .2 2.4 .2-2.65 .2-1.5 .2 .05 .2-.1 .2 2.2 .2-8.75 .2 12.2 .2-9.3 .2 3.5 .2 1.7 .2-5.7 .2 .3 .2 3.2 .2-.55 .2 1.9 .2-1.35 .2 2.45 .2-.5 .2-3.85 .2 1.95 .2 1.85 .2-4.35 .2-1.5 .2 3.75 .2-.05 .2-2.7 .2 1.15 .2 9.65 .2-3.9 .2-1.45 .2 5.3 .2 .35 .2-5.9 .2 8.4 .2-10.75 .2-3.2 .2 4.05 .2 5.75 .2-.9 .2 6.9 .2-1.4 .2-5.6 .2-3 .2-.95 .2 7.15 .2-5.65 .2 3.65 .2-1.15 .2 3.15 .2 6 .2-6.5 .2 5.7 .2-7.05 .2-3.2 .2 8.05 .2-13.2 .2 12.3 .2-4.05 .2 .85 .2-2.05 .2 4 .2-2.85 .2-.05 .2 3.7 .2 3.7 .2-2.05 .2 .45 .2-5.7 .2 6 .2-1.85 .2 2.15 .2-1.55 .2-2.9 .2 4.4 .2-5.5 .2 7.85 .2 3.55 .2-2.25 .2-8.95 .2 3.3 .2 3.6 .2-1.95 .2 1 .2 1.8 .2-4.9 .2 5.25 .2 .9 .2 .85 .2-6.3 .2 5.1 .2-.6 .2 2.5 .2-8.2 .2 2.45 .2 .5 .2 5.25 .2-5.3 .2-2.7 .2 3.05 .2 5.4 .2 4.6 .2-1.8 .2-2.1 .2-7 .2 5.85 .2-.7 .2 2.2 .2-2.55 .2 2 .2-5 .2 3.05 .2-1.1 .2 6.45 .2-11.5 .2 2.1 .2 6.15 .2-2.25 .2 7.6 .2-4.75 .2-1.15 .2-2.3 .2 3.5 .2 1.5 .2-3.15 .2 .9 .2 .9 .2-10 .2 2 .2 9.6 .2 .2 .2-1.3 .2-.4 .2 1.25 .2-3.85 .2 .4 .2 3.7 .2-5.25 .2 3.85 .2 1.45 .2-4.05 .2 7.25 .2-2.7 .2-1.35 .2-2.65 .2 6.2 .2-5.75 .2 7.45 .2 .7 .2-6.7 .2 4.55 .2 4.25 .2-5.55 .2-2 .2 3.2 .2-3.55 .2 2.05 .2-5.25 .2 2.35 .2 2.75 .2-.8 .2-.85 .2-2.35 .2 .2 .2 4 .2-1.45 .2 1.9 .2-2.7 .2-.45 .2-1.15 .2 5.5 .2-4.2 .2-1.3 .2 6.35 .2-5.8 .2 4.5 .2 1.8 .2 .5 .2-10.4 .2 4.2 .2 2.7 .2-1.3 .2-1.55 .2 7.25 .2-7.95 .2-2.7 .2 3.5 .2-1.7 .2 2.6 .2-1.1 .2-.3 .2-3.25 .2 12.5 .2-7.75 .2-2.75 .2 1.45 .2-1.2 .2 5.55 .2-4.4 .2-1.6 .2 5.65 .2-2.25 .2 7.7 .2-12.2 .2-2.75 .2 9.3 .2-2.9 .2 5.3 .2-5 .2 4.25 .2-6.4 .2 5.7 .2-6.85 .2-3.45 .2 4.3 .2 .65 .2 7.4 .2-5.15 .2 2.75 .2 .05 .2-8.75 .2 9.45 .2-4.05 .2 3 .2-.45 .2-2.55 .2 3.45 .2-5.7 .2-.95 .2 7.9 .2-5.45 .2 1.95 .2 1.8 .2 1.8 .2-5.75 .2 .2 .2 6.1 .2-5.2 .2 3.1 .2-.65 .2-1.45 .2 1.4 .2-.7 .2-1.4 .2 7.35 .2-2.95 .2-5 .2 .35 .2-2.55 .2 3.85 .2-2.7 .2 3.05 .2-2.65 .2-1.55 .2 1.35 .2 3.05 .2 1.3 .2-.75 .2-1.2 .2 2.5 .2-1.1 .2 6.1 .2-6.2 .2-1.05 .2 1.7 .2-1.5 .2 .7 .2-1.95 .2-3.3 .2 8.8 .2-9.45 .2 2.05 .2 5.5 .2 1.7 .2-3.85 .2-2.05 .2 1.35 .2 .4 .2-1 .2-2.25 .2 2.85 .2-1.65 .2 2.65 .2-.8 .2-2 .2 6.8 .2-8.35 .2 .4 .2 8 .2-3.75 .2-.45 .2-3.15 .2-2.9 .2 3.6 .2-7.6 .2 13.85 .2-3.8 .2-5.15 .2 1.5 .2 5.9 .2-4.3 .2 5.8 .2-2.95 .2-.95 .2 4.45 .2-2.2 .2-1.25 .2-4.05 .2 11.05 .2-8.05 .2-2.05 .2 2.4 .2 .2 .2 .8 .2 2.9 .2-3.45 .2 1.55 .2-1.55 .2-.15 .2 2.7 .2-9.85 .2-3.2 .2 9.6 .2-4.3 .2-1 .2 7.15 .2-3.7 .2 1.3 .2 1.05 .2-3.45 .2 4.75 .2-3.1 .2-1.05 .2 .5 .2 5.7 .2-4.45 .2 2 .2-3.75 .2 .85 .2-2.4 .2 4.95 .2-1.25 .2-1.2 .2 6.2 .2-5.95 .2 3.15 .2 2 .2-5.75 .2 4.75 .2-1.85 .2 1 .2 4.3 .2-9.35 .2-1.2 .2 7.6 .2-9 .2 2.75 .2 2.4 .2 1.2 .2-.9 .2-2.15 .2 .8 .2 2.4 .2-6.3 .2 5.6 .2-10.75 .2 9.9 .2 1.65 .2-4.95 .2 1.35 .2 4.65 .2 2.15 .2-8.8 .2 5.1 .2 .5 .2-5.35 .2 4.35 .2 1.8 .2 1.3 .2-.9 .2 2.8 .2 2 .2-10.75 .2 4.15 .2-6 .2 3.1 .2-.85 .2 4.4 .2 6.65 .2-12.9 .2 6.55 .2-3.4 .2 4.65 .2-.7 .2-5.35 .2 .25 .2-3.25 .2 2.25 .2 5.35 .2 1.75 .2-1.9 .2-4.2 .2 3.75 .2-6.1 .2 1.5 .2 5.7 .2-.4 .2-1.9 .2 .35 .2-2.85 .2 7.4 .2-.95 .2-7 .2 6.65 .2-12.15 .2 11.35 .2 1.45 .2-4.8 .2 1.6 .2-4.65 .2 2.1 .2 7.1 .2-2.05 .2-.75 .2-4.2 .2-1.1 .2 4.2 .2-5 .2 1.3 .2 2.45 .2 6.4 .2-11.35 .2 5.3 .2-3.8 .2 5.25 .2 .05 .2-5.6 .2 8.9 .2-9.9 .2-.05 .2 2.35 .2 5.3 .2-3.35 .2 2.7 .2-.05 .2-7.35 .2-.15 .2 6.35 .2-2.5 .2 2.3 .2 1.1 .2-.35 .2-.2 .2-1.5 .2-1.05 .2 6.2 .2-4.4 .2 1.7 .2 2.05 .2-4.05 .2-.1 .2-2.85 .2-3.2 .2 4.1 .2 1.1 .2-4.25 .2 7.9 .2-1.7 .2 .15 .2-4 .2 6.05 .2 2.85 .2-11.6 .2 9.8 .2-4.6 .2 1.15 .2-7.55 .2 7.6 .2-3 .2-.25 .2-.55 .2 .15 .2-.15 .2 1.05 .2 3.25 .2-5.05 .2 9.15 .2-9.7 .2 2.3 .2 .75 .2-1.9 .2-.75 .2-8 .2 14.05 .2-7.95 .2 0 .2-2.65 .2 5.8 .2-3.2 .2 2.3 .2 5 .2 .45 .2-1.4 .2-2.35 .2 1.15 .2-2.45 .2 1.7 .2-1.55 .2-4 .2 9.8 .2-7.85 .2-1.4 .2 3.25 .2 5.15 .2-4.35 .2-3 .2 1.6 .2 6.7 .2-10.2 .2 .9 .2-2.2 .2 6.55 .2-2.3 .2 2.6 .2 .35 .2-2.8 .2 3.85 .2-2.85 .2-.2 .2 3.15 .2-1.65 .2-7.3 .2-2.45 .2 12.45 .2-6 .2-.25 .2 3.65 .2 2.5 .2-5 .2 3.65 .2-7 .2-1.15 .2-2.1 .2 8.95 .2-3.2 .2 1.4 .2 4.15 .2-9.1" fill="none" stroke="#008000" stroke-width="5" stroke-linejoin="round" stroke-linecap="round"/>
<path d="M145.2,630.7l.2-4.6 .2 1.05 .2 .8 .2-2.55 .2 1.7 .2 0 .2-3.8 .2 5.95 .2-.9 .2-2.6 .2 .95 .2 1.45 .2-1.65 .2 .05 .2-2.6 .2 4.3 .2-.9 .2 .3 .2-3.85 .2 6.85 .2-3.25 .2-1.15 .2 5.2 .2-4.45 .2-3.05 .2 2.25 .2-4.05 .2 7.2 .2-3.15 .2-.7 .2 3.9 .2-5.9 .2 4.7 .2-5.55 .2 3 .2-1.15 .2 5.7 .2 .65 .2-4.5 .2 2.55 .2-2.2 .2 1.6 .2-2.85 .2-2.05 .2-.2 .2 4.7 .2 4 .2-4.25 .2-1.7 .2 5.25 .2-3.65 .2-.25 .2 .3 .2-.8 .2-.4 .2-2.4 .2 4.15 .2-1.3 .2 2.8 .2-3.4 .2-3.3 .2 3.9 .2 3.85 .2-4.45 .2-1.1 .2-.65 .2 .3 .2 1.6 .2-1.9 .2 5.8 .2-3.85 .2 .85 .2 2.85 .2 .15 .2-3.7 .2 1.15 .2 .9 .2-2 .2-3.4 .2 5.2 .2 .5 .2-1 .2-2.9 .2 1.6 .2-.85 .2 .6 .2 3.45 .2 .5 .2-1.85 .2-.3 .2 .3 .2-1.5 .2-.1 .2-1.3 .2 1.3 .2 5 .2-3 .2-2.6 .2-.3 .2-.8 .2 2.65 .2 .05 .2-3.95 .2 4.15 .2-2.3 .2 4.3 .2-2.75 .2 3.4 .2-4.7 .2 .35 .2 1.3 .2 1.6 .2-1.05 .2-3.85 .2 3 .2-.3 .2-1 .2-.45 .2 5.15 .2-4.6 .2-1 .2 3.2 .2-1.1 .2-.45 .2 1.85 .2-.65 .2-.25 .2 1.3 .2-1.45 .2-1.95 .2 .55 .2-.35 .2 1.55 .2-2.75 .2-1.65 .2 4.15 .2-3.05 .2-1.35 .2 5 .2-2.3 .2 2.6 .2-2.25 .2-1.25 .2-.25 .2 1.55 .2 .5 .2-1.15 .2 1.15 .2-2.7 .2 3.35 .2-3.9 .2 3.45 .2 1.9 .2 .85 .2 1.35 .2-7.05 .2 5 .2 .95 .2-.5 .2-4.1 .2 2.9 .2 3.1 .2-7.25 .2 4.25 .2 1.4 .2-3.9 .2 2.75 .2-3.55 .2 .55 .2-.05 .2 2.2 .2-.6 .2 2.25 .2-4.1 .2 1.75 .2 2.35 .2-.85 .2-4.1 .2 4.3 .2-2.45 .2 1.85 .2-.2 .2 2 .2-2.4 .2-4.2 .2 1 .2 4.55 .2-2.15 .2 3 .2-1.85 .2-2.2 .2 3.95 .2-4.1 .2-2.65 .2 8.85 .2-8.55 .2 5.45 .2 .65 .2-1.7 .2-3.95 .2 5.85 .2-5.3 .2 .2 .2 2.1 .2 2.5 .2-1.05 .2 1.1 .2-2.7 .2 .55 .2-2.05 .2 1.75 .2 1.95 .2-1.9 .2 1.65 .2-2.25 .2-.05 .2 1.35 .2-.5 .2 1.7 .2-.9 .2 3.35 .2-4.2 .2-.05 .2-1.75 .2 2.3 .2 1.45 .2-3.1 .2 1.5 .2 1.65 .2-1.8 .2-.85 .2 3.2 .2-1.9 .2 .65 .2 1.65 .2-.05 .2-3.2 .2-.4 .2 1.75 .2-.9 .2-3.8 .2 6.8 .2-2.7 .2 1.55 .2-4.1 .2 5.3 .2-4.05 .2 1.05 .2-2.8 .2 2.65 .2-.15 .2 .1 .2 1.35 .2-.8 .2 1.95 .2-3.1 .2-1.15 .2 2.1 .2 1.4 .2 1.3 .2-.9 .2-5.55 .2 4.6 .2 2.35 .2-3.05 .2-1.25 .2 1.8 .2-1.75 .2 2.45 .2-1.4 .2 3 .2-1.9 .2-2.65 .2 2.85 .2 .75 .2-3.25 .2 .3 .2-4.05 .2 6.9 .2-3.2 .2-3.3 .2 .75 .2 3.3 .2 2.15 .2-1.85 .2 1.2 .2-3.4 .2-.5 .2 4.8 .2-.85 .2-1.15 .2 2.85 .2-4.85 .2 1.15 .2 3.1 .2 1.75 .2-3.9 .2 3.55 .2-4.9 .2 2 .2-1.1 .2-3 .2 3.95 .2 1.45 .2-2.35 .2 .2 .2 3.15 .2-5.7 .2-.55 .2 1.8 .2-1.15 .2 5.45 .2-2.2 .2-2.55 .2 .55 .2 7.45 .2-7.45 .2-.35 .2 2.3 .2 .7 .2-.9 .2-2.4 .2-.55 .2 3.75 .2-1.4 .2-3.4 .2 6.05 .2-.85 .2-2.2 .2-.05 .2 1.05 .2-2 .2-1.4 .2 3.6 .2-3.8 .2 3.95 .2-3.95 .2 2.85 .2-.05 .2 4.1 .2-6.1 .2-.8 .2 1.65 .2-1 .2 1.15 .2 2.15 .2 .75 .2 1.9 .2-5.15 .2 7.25 .2-1.4 .2-4.7 .2-4.5 .2 4.75 .2 .3 .2-5.1 .2 5.1 .2-.6 .2-1.25 .2 3.05 .2 .8 .2-3.2 .2 1.5 .2-1.9 .2-.3 .2 1.9 .2 .95 .2-2.35 .2-3.55 .2 6 .2-4.7 .2 3.7 .2 3.55 .2-3.85 .2-2.55 .2-.6 .2 5.65 .2-2.55 .2 1.2 .2 .85 .2-2.1 .2-.6 .2-1.35 .2-4.6 .2 3.35 .2 3.1 .2-.25 .2 1.25 .2-1.15 .2 .65 .2 1.3 .2-3.6 .2 1.3 .2-2.85 .2 5.55 .2-2 .2 .95 .2 2.25 .2-1 .2-2.45 .2 1.8 .2-4.75 .2 4 .2-.65 .2-3.8 .2 6.35 .2-4.4 .2 3 .2-2.4 .2 3.05 .2 .65 .2-4.6 .2-1.5 .2 3 .2 2.1 .2-2.65 .2-.5 .2 2.35 .2-7 .2 4.5 .2-1.55 .2 3.6 .2-2.25 .2-.8 .2 1.65 .2-2.45 .2 3.15 .2-1.45 .2 .65 .2-.75 .2 3.5 .2-2.2 .2 1.35 .2-.1 .2-2.8 .2 3 .2-.5 .2-.1 .2-1.55 .2-.05 .2 2.6 .2 3 .2-6.5 .2 2.95 .2-1.95 .2 2.45 .2-.75 .2 1.3 .2-8.3 .2 4.7 .2-.8 .2 1.85 .2-1.3 .2 .15 .2 2.85 .2 2.6 .2-10.2 .2 5.4 .2 1.35 .2-.7 .2-.75 .2-2.2 .2 .9 .2 3.55 .2 .75 .2-2.1 .2-2.05 .2 2 .2-.7 .2 1.65 .2-.9 .2-1.65 .2 1.75 .2-2.95 .2 4.3 .2 .75 .2-5.1 .2 3.45 .2-3.05 .2 4.4 .2-.35 .2-2.45 .2 2.6 .2-3.1 .2-.45 .2 .15 .2 .9 .2-.4 .2 1 .2-1.65 .2 2.95 .2 .5 .2-3.25 .2-2.05 .2 4.65 .2 .85 .2-2.8 .2-2.45 .2 3.35 .2 2.65 .2-7.35 .2 5.1 .2-1.75 .2-1.2 .2 2.9 .2-3.9 .2 3.45 .2 2.15 .2-2.45 .2-2.3 .2-1.95 .2 1.05 .2-1.25 .2 7.4 .2-4 .2-1.75 .2-.55 .2 .45 .2 1.6 .2-2.1 .2 6.35 .2-5.25 .2-.1 .2 2.35 .2 2.45 .2-.3 .2-3.95 .2 1.6 .2-.25 .2 .8 .2-.65 .2-2.6 .2-.7 .2 3.05 .2-2.95 .2 5.45 .2-2.85 .2-2.35 .2 1.5 .2-.45 .2 .8 .2 2.3 .2-5.2 .2-.95 .2 4.75 .2-1.15 .2 .7 .2 .55 .2-1.35 .2 2.05 .2-3.65 .2 2 .2-1.95 .2-.7 .2 3.75 .2-.15 .2-5.45 .2 1.75 .2 3 .2 1.65 .2-3.8 .2 1 .2-2.7 .2 8.45 .2-4.45 .2 .85 .2-.55 .2 .55 .2-.75 .2-2.05 .2 2.25 .2-1.45 .2 2.55 .2-4.4 .2 .35 .2 2.55 .2 1.3 .2-2.5 .2-1.95 .2 1.25 .2-.85 .2 5.1 .2-2.2 .2 .7 .2-2.1 .2-1.95 .2 3.7 .2 1 .2-2.4 .2-1.35 .2 2.3 .2-3.2 .2 2.4 .2-3.25 .2-.65 .2 3.25 .2-.55 .2 3.3 .2-4.8 .2 .6 .2-2.6 .2-1.65 .2 .1 .2 4.8 .2-3.65 .2 4.9 .2 .55 .2-3.75 .2 4.1 .2-3.2 .2 1.85 .2-3 .2 2.45 .2-4.2 .2 3.3 .2-2.45 .2 .6 .2 1.55 .2-1.1 .2-.65 .2 1.65 .2 .05 .2-4.85 .2 4.1 .2 .1 .2-3.2 .2 2.35 .2-3.85 .2 5.9 .2-3.8 .2 .25 .2 2.6 .2-3.05 .2 1.5 .2-3.75 .2 .9 .2-1.95 .2 2.4 .2 2.55 .2-1.9 .2 1.25 .2-4.3 .2 .1 .2 .75 .2 2.05 .2-.65 .2-1 .2 1.2 .2-1.85 .2 .05 .2 2.7 .2-4.35 .2 1.45 .2 2.9 .2-3.55 .2 1.1 .2-3.1 .2 5.35 .2-9.45 .2 2.2 .2-.1 .2 5.55 .2-3.05 .2-1.65 .2-2.5 .2 3.3 .2-.85 .2-2.1 .2-2.1 .2 .55 .2 2.5 .2-.15 .2-.85 .2-.9 .2-3.9 .2 3.55 .2-2.75 .2 1.9 .2 .5 .2-2.95 .2-1.2 .2 3.95 .2-1.9 .2-2.7 .2-5.7 .2 5.95 .2 .95 .2 .5 .2-4.55 .2-.55 .2-.15 .2 2.15 .2-5.1 .2 1.65 .2-2.5 .2 1.9 .2-4.8 .2 3.5 .2-2.75 .2-.25 .2 .8 .2 .45 .2-7.25 .2 5.05 .2-2 .2-2.95 .2 2.7 .2-3.8 .2 1.3 .2-5.45 .2-1.85 .2 3.4 .2 .75 .2-4.85 .2-.85 .2-4.6 .2-3.55 .2 .85 .2 2.2 .2-9.4 .2 1.25 .2-5.2 .2 2.6 .2-.3 .2-7.05 .2-.4 .2 1.6 .2-5.75 .2-5.25 .2-2.9 .2-4.5 .2 3.55 .2-6.65 .2 .95 .2-3.8 .2-7.15 .2-3.4 .2-.8 .2-5.55 .2-3.95 .2-9.05 .2 1.45 .2-9.1 .2-8.5 .2-1.3 .2-3.05 .2-1.7 .2-12.15 .2-8.7 .2 1.95 .2-11.8 .2-8.25 .2-9.55 .2-7.6 .2-1.75 .2-12.85 .2-9.35 .2-8.85 .2-3.75 .2-15.15 .2-6.45 .2-10.85 .2-10.1 .2-13.2 .2-6.1 .2-7.65 .2-14.8 .2-12.6 .2-11 .2-5.55 .2-10.7 .2-8.45 .2-8.05 .2-12 .2-.55 .2-7.8 .2-6.2 .2-3.5 .2-1.3 .2-4.8 .2-3.75 .2 5.85 .2-3.5 .2 1.35 .2 .9 .2 8.9 .2 2.25 .2 7.75 .2 9.8 .2 6.55 .2 11.15 .2 6.85 .2 7.35 .2 9.9 .2 9.5 .2 13.3 .2 8.55 .2 9.05 .2 13.65 .2 8.15 .2 8.55 .2 7.1 .2 14.8 .2 8.95 .2 8.65 .2 7.7 .2 7.6 .2 9.9 .2 9.25 .2 6.85 .2 7.4 .2 6.35 .2 8.95 .2 6.3 .2 3.9 .2 9.8 .2 5.85 .2 5.6 .2 3 .2 4.95 .2 2.5 .2 9.25 .2-2.5 .2 8.4 .2 4.15 .2 6.7 .2 1.7 .2 1.25 .2 2.3 .2 4.85 .2 5.05 .2 2.85 .2 2.2 .2 1.6 .2 3.65 .2 5.3 .2-2.5 .2 4.9 .2 5.8 .2-.35 .2-.3 .2 4.45 .2-1.4 .2 3.5 .2 5.2 .2 2.4 .2-6.6 .2 6.95 .2 4.25 .2-4.2 .2 3.15 .2 4.05 .2-3.25 .2 3.3 .2 0 .2-3.05 .2 6.15 .2-.2 .2 3.5 .2 3.55 .2-2.25 .2-1.45 .2 2.7 .2 .25 .2 2.6 .2-4.7 .2 1.35 .2-1.2 .2 6.55 .2-.7 .2-.7 .2 .4 .2 .95 .2-.2 .2 1.95 .2 .15 .2 4.7 .2-1.85 .2-2 .2 1 .2 4.4 .2-1.2 .2 .1 .2 1.35 .2 2.35 .2-5.75 .2 1.4 .2-1.8 .2 5.3 .2-1.6 .2-.25 .2 .1 .2 3.55 .2-1.5 .2-.55 .2 4.2 .2-4.75 .2-.2 .2 8.75 .2-6.25 .2-.1 .2-.15 .2 1.55 .2 2.25 .2 .15 .2-.2 .2-1.6 .2-2.4 .2 4.1 .2 2.9 .2-.8 .2-2.5 .2 2.3 .2-2.4 .2 .9 .2-2.4 .2 2.2 .2 1.15 .2-.5 .2 2.2 .2 2.55 .2-1.05 .2-3.4 .2-.8 .2 .35 .2-.6 .2 2.35 .2 1 .2-.4 .2 .15 .2 .05 .2-.55 .2-1.2 .2 5.5 .2-1.35 .2-4.15 .2 .1 .2 .8 .2 1.45 .2 2.75 .2-.45 .2 .25 .2 .1 .2 .15 .2-.7 .2-.55 .2-1.15 .2-3.45 .2 3.6 .2 4.25 .2-5 .2-.1 .2 3.65 .2-1.95 .2-1.15 .2 4.5 .2-2 .2 .35 .2-2.8 .2 2.4 .2-.2 .2 .9 .2 .9 .2 0 .2-2 .2 1.15 .2-3.9 .2 3.95 .2 .1 .2-2.25 .2-.8 .2 1.6 .2-2.45 .2 3.45 .2-.1 .2-2.65 .2 2.25 .2 2.25 .2 0 .2-.05 .2-2.45 .2-.4 .2-.05 .2 2.15 .2 3.85 .2-2 .2 .45 .2-.5 .2-6.4 .2 3.1 .2-.45 .2 3.7 .2 .95 .2-5.05 .2 1.55 .2 1.15 .2-2.2 .2-.3 .2-.05 .2 3.4 .2-3.85 .2 4.45 .2-2.25 .2 1.5 .2 1.7 .2-4.75 .2-.3 .2 2.75 .2-3.15 .2 .7 .2 1.35 .2 .6 .2-3 .2 1.9 .2 2.1 .2 1.65 .2-7.1 .2 7.05 .2-.85 .2-4.25 .2-.8 .2 4.1 .2-1.8 .2 1.2 .2 1.6 .2-2.65 .2 1.2 .2 .7 .2 .9 .2 1.9 .2-.15 .2-3.1 .2-1 .2 5.6 .2-3.7 .2-.45 .2-3.25 .2 4.05 .2-3.35 .2 .7 .2-1.85 .2 1.75 .2 1.25 .2-3.35 .2 1.35 .2 1.75 .2-2.55 .2 .05 .2 .9 .2-1.2 .2 4.35 .2-3.45 .2 3.8 .2 .35 .2-4.55 .2 2.65 .2-1.1 .2-1.4 .2 1.7 .2 .25 .2 2.05 .2 .65 .2-4.55 .2 1.5 .2 2 .2 1.4 .2-7.8 .2 8.05 .2-3.15 .2 3.7 .2-4.25 .2-.85 .2 1.9 .2 2.4 .2-2.45 .2-5.15 .2 6.55 .2-4.95 .2 1.35 .2-.4 .2-1.5 .2 1.3 .2 .55 .2 .8 .2 1.2 .2-.65 .2-2.45 .2 2.75 .2 2.5 .2-.05 .2-1.8 .2 1.05 .2 .55 .2 1 .2 .7 .2-4.4 .2 .1 .2 3.75 .2 .15 .2-.05 .2-8.45 .2 4.55 .2-6.6 .2 8.6 .2-1.5 .2-.05 .2-.45 .2 3.1 .2-3.5 .2 2.8 .2-1.05 .2-.5 .2 .2 .2-.85 .2-2.65 .2 3.85 .2-.05 .2-1.95 .2 1.85 .2 .3 .2-4.8 .2 2.4 .2-.75 .2-1.1 .2 2.6 .2-2.65 .2 .8 .2 1.4 .2 .1 .2-.15 .2 4.05 .2-6.05 .2 1.5 .2-3.3 .2 3.55 .2 1.3 .2 0 .2-4.15 .2 .6 .2 3.2 .2-3.1 .2 2.1 .2-4.35 .2 4.9 .2-.95 .2-1.4 .2-3 .2 1.2 .2 .45 .2 0 .2-1.05 .2-.5 .2 .65 .2 2.3 .2-7.7 .2 1.1 .2-.7 .2 1.55 .2-2.65 .2 4.65 .2-1.35 .2-1.15 .2-1.35 .2 1.4 .2-.35 .2-.15 .2-2.8 .2 2.55 .2-5.15 .2 5.4 .2-10.05 .2 4.85 .2-1.95 .2 3.75 .2-5.65 .2 6.55 .2-8.1 .2 7.1 .2-4.25 .2-1.75 .2 .05 .2 2.95 .2-3.8 .2-7.9 .2 6.6 .2-3.2 .2-5.2 .2 4.1 .2-5.55 .2 1.85 .2-1.2 .2-3.35 .2 1.5 .2-5.25 .2 1.2 .2-3.3 .2-.85 .2 3.05 .2-5.9 .2-4.6 .2 .25 .2-3.5 .2-.3 .2-1.85 .2-2.4 .2-2.35 .2-3.8 .2-.2 .2-1.15 .2-6.5 .2-1.35 .2-2.5 .2 0 .2-3.3 .2-7.15 .2-1.1 .2-6.65 .2-1.8 .2-.75 .2-1.6 .2-2.3 .2-6.1 .2-5.5 .2 1.2 .2-4.3 .2-1.45 .2-3.4 .2-1.3 .2-2.7 .2-1.95 .2-5.4 .2 1.45 .2-5.55 .2-.25 .2 2.85 .2-4.9 .2-4.75 .2 5.75 .2-1.7 .2 .1 .2-2.3 .2 .6 .2-.85 .2-.35 .2 6.5 .2-3.4 .2 1.25 .2 1.8 .2 7.55 .2-.3 .2-.7 .2 3.2 .2 3.9 .2 3.6 .2-3.15 .2 8.9 .2 .3 .2 1.9 .2 3.75 .2 5.9 .2 5.35 .2-.7 .2 4.05 .2-.15 .2 6.1 .2 3.8 .2-2.45 .2 5.15 .2 5.9 .2-3.15 .2 5.95 .2 4.85 .2-2.65 .2 5.45 .2 3.45 .2 4.25 .2-2.65 .2 7.65 .2 .3 .2 4.05 .2 1.9 .2 .05 .2 2.15 .2-3.25 .2 2.6 .2 2.4 .2 3.05 .2 4.4 .2-4.65 .2 4.7 .2-.9 .2 .75 .2 8 .2-1.9 .2 4.55 .2 .1 .2-3.65 .2-1.05 .2 9.65 .2-4.55 .2-.75 .2 4.9 .2-.4 .2-.95 .2 1.45 .2 1.85 .2 .5 .2 2.15 .2-1.8 .2 .65 .2 2.65 .2-.05 .2 2.25 .2-2.4 .2 .85 .2-1.85 .2 6.25 .2-5.85 .2 3.9 .2-1.95 .2 3.1 .2 1.25 .2-4.8 .2 3.45 .2-3 .2 7.2 .2-3.7 .2-2.15 .2 2.2 .2 4.65 .2 .65 .2-.2 .2-4.2 .2 1.65 .2 4.1 .2-4.9 .2 1.1 .2-1.15 .2-.25 .2 5.35 .2-1.05 .2-.2 .2 .45 .2 1.15 .2 1.25 .2-3.15 .2-.55 .2-1.3 .2 4.7 .2-3.3 .2-2 .2 2.8 .2 .75 .2 1.9 .2 .5 .2-3.65 .2-.05 .2 1.15 .2-1.8 .2 2.5 .2 1.35 .2-.8 .2-3.5 .2 1 .2 5.45 .2-4.85 .2 3.85 .2-.15 .2-1.95 .2-1.4 .2 2.7 .2-2.3 .2 1.6 .2 .7 .2-1.7 .2 1.1 .2-.1 .2-1.95 .2 2.35 .2-.9 .2-2.5 .2 3.25 .2 .2 .2-.65 .2-3.1 .2 6.2 .2-.15 .2-.05 .2-.65 .2-3.35 .2 3 .2-2.2 .2 6.75 .2-5.8 .2 2.6 .2-4.7 .2 .8 .2 1.45 .2 2.7 .2-.3 .2-.5 .2-4.6 .2 6.5 .2-4.4 .2 5.5 .2 .55 .2-2.2 .2 .4 .2-4.85 .2 8.35 .2-5.1 .2 1.75 .2-4 .2 1.75 .2-2.4 .2 2.05 .2 .6 .2 .55 .2 2.45 .2-1.9 .2-.5 .2-.45 .2 4.3 .2-5.55 .2 3.8 .2-6.75 .2 2.35 .2 2.8 .2-1.2 .2 6.85 .2-.9 .2-8.8 .2 .95 .2 2.05 .2 4.05 .2-1.3 .2-1.7 .2-3.75 .2 1.25 .2-3.95 .2 2.5 .2 4.25 .2 .8 .2-4.5 .2 3.05 .2 3.3 .2-3.15 .2-1 .2 2 .2-.15 .2-.95 .2-1.3 .2 .25 .2 1.1 .2-1.35 .2 4.05 .2-.95 .2 .45 .2 2.05 .2-.95 .2-.35 .2-2.25 .2-1.2 .2 5.4 .2-6.4 .2 .1 .2-.5 .2 2.35 .2 .45 .2 1.3 .2-2.7 .2-3.2 .2 4.4 .2 1.45 .2-2.05 .2-.35 .2 1.5 .2 1.9 .2-3.2 .2-2.9 .2 1.85 .2 .85 .2-3.5 .2 5.55 .2-3.3 .2 2.75 .2-.7 .2-1.05 .2 4.15 .2-4.7 .2-.2 .2 2.05 .2 1.2 .2-1.8 .2-2.1 .2 3.6 .2-.2 .2 3.2 .2-4.95 .2 .95 .2-1.7 .2-1.95 .2 3.35 .2 1.7 .2-4 .2 .7 .2-1.05 .2 5.4 .2-4.2 .2 2.6 .2-3.1 .2 2 .2-1.5 .2-3.7 .2 5.25 .2 .95 .2-5.6 .2 4.1 .2-.55 .2-1.35 .2 1.75 .2-3.6 .2 4.7 .2 2.05 .2-5.3 .2 2.6 .2 3.2 .2-2.8 .2-1.35 .2-.85 .2 2.35 .2-.65 .2 1.65 .2-4.65 .2 5.6 .2-3.2 .2 2.25 .2-2.9 .2-1.25 .2 1.6 .2-.85 .2 1.25 .2 2.2 .2 .95 .2-1.9 .2-1.6 .2 .2 .2 2.25 .2 1.2 .2-3.15 .2 .4 .2-1.3 .2 2.05 .2 1.6 .2-8.3 .2 6.8 .2-1.7 .2-3.85 .2 5.7 .2-.85 .2 .95 .2-3.7 .2 7.55 .2-4.35 .2-1 .2 4 .2-1.85 .2 .4 .2 .7 .2-6.95 .2 8.05 .2-4.35 .2 1.4 .2 1.35 .2-3.5 .2 2.2 .2 .95 .2-1.7 .2 1.15 .2-4.5 .2 .9 .2 .05 .2 3.3 .2 7.25 .2-7.5 .2-.85 .2 .15 .2 2.3 .2-.6 .2-4 .2 4.65 .2-2.25 .2 1.85 .2-6.05 .2 .95 .2 4.6 .2-5.15 .2 4.75 .2-.15 .2-.4 .2 .45 .2-.2 .2 .4 .2-1.8 .2 .8 .2 6.35 .2-3.85 .2-1.1 .2-.5 .2-2.4 .2 2.05 .2-1 .2 2.55 .2-4 .2-3.1 .2 3.9 .2 2.7 .2 3.8 .2-3.1 .2-4.3 .2 1.65 .2-1.6 .2 1.65 .2-1.5 .2-1.65 .2 4.5 .2-.5 .2-.8 .2 1.1 .2 3.65 .2-4.15 .2-1.05 .2 2.7 .2-5.4 .2 5.15 .2-3.3 .2-.05 .2 1.95 .2 3.4 .2-5.2 .2 3.65 .2-1.25 .2-3.8 .2 4.95 .2-3.75 .2-1.35 .2 1.45 .2 .15 .2 2.85 .2-2.85 .2 4.75 .2-2.7 .2-2.05 .2-.25 .2 2.3 .2-4.85 .2-.3 .2 2.75 .2 3.3 .2-1 .2-.3 .2-.55 .2-4.2 .2 4 .2-3.15 .2 5.65 .2-1.85 .2-.15 .2 1.05 .2-.15 .2-.2 .2 .25 .2-2 .2-1.6 .2 3.6 .2 2.35 .2-.9 .2-2.65 .2 1.8 .2-2.3 .2 1.8 .2-2.15 .2 1.6 .2 4.05 .2-2.65 .2 1.55 .2-4.9 .2 .2 .2 1.4 .2 1.3 .2-1.65 .2 2.6 .2-3.35 .2 4.1 .2-.85 .2-4.45 .2 3.65 .2-1.75 .2 2.7 .2-3.35 .2 1.8 .2 .5 .2-7.05 .2 1.85 .2 4.35 .2-.55 .2 2.45 .2-1.7 .2-3.2 .2 3.4 .2-2.3 .2 1.1 .2-.6 .2 1.85 .2-3.8 .2 .65 .2-2.35 .2 9.4 .2-6.75 .2 .25 .2-.6 .2 1.1 .2 .45 .2 2.25 .2-.95 .2 .35 .2-2 .2 1.15 .2 2.75 .2-2.65 .2 .7 .2-5 .2 5.45 .2-.55 .2 2.2 .2-8.65 .2 5.95 .2-.3 .2 .4 .2-1.5 .2 1.8 .2 1.05 .2-1.45 .2-.7 .2 .15 .2-.35 .2 .9 .2-1.6 .2-2.75 .2 7.2 .2-6.7 .2 3.5 .2-2.55 .2 2.2 .2-1.45 .2 2 .2-1.75 .2-.95 .2 3.45 .2 2.2 .2-2.15 .2-.5 .2-2.5 .2 2.1 .2 1.1 .2-2.35 .2 3.35 .2-2.05 .2 .85 .2-1.8 .2 0 .2 1.55 .2 .35 .2-.1 .2-2.95 .2 .65 .2 1.5 .2-3.95 .2 6.25 .2-1.55 .2-.6 .2-1.65 .2 3.3 .2-2.35 .2 4.7 .2-3.25 .2-4.05 .2 4.75 .2-2.7 .2 0 .2 .6 .2 .25 .2 .85 .2 1.1 .2-.7 .2-2.5 .2-1.35 .2 1.15 .2 2.5 .2 1.1 .2 2 .2-6.75 .2 3.05 .2-.65 .2-.4 .2 1.2 .2-.85 .2-.05 .2-.8 .2 2.25 .2 1.4 .2 1.25 .2-4.65 .2-1.15 .2 1.7 .2-1.2 .2 4 .2-4 .2 1.95 .2-3.05 .2 2.15 .2 1.15 .2 2.85 .2-4.75 .2 2.25 .2-5.25 .2 1.9 .2 .8 .2 .7 .2 2 .2 .45 .2-4.85 .2 4.6 .2-3.55 .2 6.35 .2-3.25 .2-.35 .2-.7 .2 .3 .2 .05 .2-1.45 .2 3.05 .2-1 .2 1.05 .2-1.75 .2 1.6 .2-3.1 .2 9.3 .2-9.2 .2 .55 .2 3.05 .2 .55 .2-4.35 .2-1.85 .2 .55 .2 .9 .2 .45 .2 1.3 .2 2.6 .2 .1 .2-3.65 .2 2.45 .2 .75 .2 1.15 .2-3.4 .2-1.25 .2 3.2 .2 1.65 .2-4.35 .2 5.3 .2-.5 .2-4.25 .2-2.8 .2 2.1 .2 .5 .2 1.9 .2-4.75 .2 8.85 .2-.2 .2-6.6 .2-2.45 .2 3.65 .2 1.25 .2 2 .2-1.35 .2-2 .2-3.8 .2 5.35 .2 .7 .2-2.45 .2 1.25 .2-.15 .2-.95 .2-2 .2 3.25 .2-3.8 .2 6.05 .2-4.95 .2 3 .2-2.65 .2 2.4 .2-1.25 .2 1.6 .2-2.85 .2-1.8 .2 2.9 .2-.15 .2-2.5 .2 1.75 .2-2.1 .2 3.85 .2-1.05 .2 .8 .2 5.6 .2-5.25 .2 .45 .2 .55 .2-1.65 .2-1 .2 3.2 .2 .3 .2-8.5 .2 5.95 .2-.4 .2-.5 .2 3.9 .2-3.8 .2 3 .2-3.05 .2 .3 .2 2.45 .2-3.15 .2 1.25 .2-2.05 .2 .45 .2 3.5 .2-.3 .2-3.75 .2-.05 .2 8 .2-6.85 .2-.5 .2 2.95 .2-2.75 .2 .9 .2 2.7 .2 .2 .2-2.55 .2 3.3 .2-3.2 .2-.2 .2 .5 .2-.65 .2 1.8 .2-.5 .2-2.3 .2 2.05 .2-1.55 .2-.05 .2 .9 .2 2.5 .2-1.6 .2 2.15 .2 .6 .2-3.4 .2-1.25 .2-.4 .2 2.3 .2 1.3 .2 1.5 .2-6.2 .2 4.8 .2 .3 .2 2.95 .2-4.85 .2-.45 .2-3.2 .2 1.6 .2-.7 .2 .2 .2 .25 .2-1.35 .2 3.1 .2 1 .2 .8 .2-1.85 .2 2.5 .2 0 .2-5.55 .2 2.7 .2-2.1 .2 .6 .2 2.5 .2-.7 .2 3.45 .2 1.25 .2-3.5 .2-1.3 .2 .05 .2 .3 .2 1.25 .2-2.8 .2 2.85 .2-1.8 .2 2.8 .2 .65 .2 .85 .2-4.1 .2-2.55 .2-.75 .2 3 .2-2.4 .2-.5 .2 2.8 .2-1.35 .2 3.6 .2 2.65 .2-4.65 .2 1.2 .2-4.1 .2 3.8 .2-1.9 .2-.85 .2-1.65 .2 7.45 .2-6.9 .2 .85 .2 2.65 .2 .6 .2 0 .2-.4 .2-2.15 .2 3.55 .2-1.2 .2-3.55 .2 6.55 .2-4.15 .2 2.75 .2-5.15 .2 .55 .2 1.35 .2-.25 .2 3.65 .2-5.65 .2 3.85 .2-2.55 .2 3.3 .2-.7 .2-1.6 .2 5.95 .2-4.85 .2 2.45 .2-5.25 .2 2.6 .2 .45 .2 .15 .2-1.05 .2-1.05 .2-4.85 .2 5.4 .2-.75 .2 1.45 .2 2.4 .2 2.9 .2-3.6 .2 1 .2-.8 .2 .2 .2-.3 .2-1.8 .2-.15 .2 1.4 .2 3.15 .2-2.15 .2 1.75 .2-6.25 .2 3.4 .2 .25 .2 .3 .2-4.1 .2-1 .2-.6 .2 3.7 .2 5.9 .2-4.55 .2-3.1 .2 3.35 .2-1.4 .2 1.05 .2-1.35 .2-1.8 .2 1.65 .2 2.65 .2-.85 .2 1.95 .2-4.95 .2 4.6 .2-2.15 .2 .3 .2 2.25 .2-2.95 .2 .85 .2 .85 .2 0 .2 .35 .2 1.05 .2-1.65 .2-2.05 .2 6.2 .2-5.35 .2 .9 .2-2.4 .2-3.1 .2 3 .2 1.85 .2 1 .2-1.1 .2 1.65 .2 .4 .2 0 .2-2.1 .2 .15 .2-.6 .2-1.45 .2 4.95 .2-5.75 .2 2.55 .2 .65 .2-5.1 .2 6.2 .2-2.35 .2 1.25 .2-1.2 .2-2.6 .2 3.7 .2-.2 .2 1.95 .2-1.15 .2-4.65 .2 6 .2-.65 .2-.05 .2-.6 .2-2.6 .2 2.7 .2-1.95 .2 7 .2-6.7 .2-1.9 .2 1.65 .2 3.85 .2-4.35 .2-4 .2 8.4 .2-2.45 .2-1.8 .2 2.6 .2-3.5 .2-.55 .2 4.55 .2-3.15 .2 2.25 .2-1.1 .2 1.75 .2-1.55 .2-4.65 .2 5.9 .2-2.5 .2 2.9 .2-1.65 .2 2.85 .2-3.75 .2-3.75 .2 3.7 .2 1.8 .2-1.85 .2-.25 .2 4.2 .2-3.5 .2 2.55 .2-1.95 .2-3.4 .2 1.1 .2 1.3 .2 1.35 .2-2.4 .2-1.3 .2 .85 .2 1.05 .2-.75 .2 .65 .2 5.25 .2-3.4 .2-2.4 .2 1.75 .2 3.4 .2-2 .2-1.6 .2-2.7 .2-.75 .2 2.95 .2 .5 .2-3.3 .2 .65 .2 2.75 .2-4.65 .2 1.05 .2 3.6 .2 1.3 .2-.5 .2 1.45 .2 1.25 .2-1.45 .2-2.5 .2 5.15 .2-1 .2-1.6 .2-3.75 .2 2.6 .2-5.35 .2 3.8 .2-4.65 .2 4.45 .2 3.1 .2-2.15 .2 3.45 .2-3.5 .2 .2 .2-.85 .2 1.8 .2-1.2 .2 2.65 .2 .85 .2-2.65 .2-3.2 .2 3.6 .2 1.7 .2-1.5 .2-.75 .2 1.4 .2 .8 .2-8.45 .2 8.85 .2-1.6 .2-.6 .2-2.25 .2 1.7 .2 .8 .2-4.5 .2 4.8 .2-1.45 .2 3 .2-1.7 .2-1.85 .2 .5 .2 1.25 .2-1.05 .2 .85 .2-2.7 .2-1.15 .2 1.45 .2-1.85 .2 1.4 .2 2.45 .2-4.3 .2 .85 .2 4.25 .2-2.75 .2 1.15 .2-2.65 .2 .4 .2 1.6 .2 4.15 .2-2.55 .2-4.55 .2 4.55 .2 1.05 .2-.5 .2-4.15 .2 2.5 .2 4.7 .2-6.6 .2 2.75 .2-2.35 .2-1.1 .2 1.8 .2 3.15 .2 .25 .2-4.4 .2 .9 .2-.9 .2-2.55 .2 5.75 .2 2.05 .2-.1 .2-4.25 .2 3.85 .2-.5 .2-3.1 .2 .75 .2-.8 .2 1.3 .2 3.4 .2-5.9 .2-.6 .2 4.45 .2-1.75 .2-4.2 .2 1.9 .2 .4 .2 .45 .2 2 .2 1.45 .2-2.5 .2 .7 .2-1.95 .2 3.8 .2 .7 .2-3.45 .2-1.05 .2 6.05 .2-2.45 .2-3.9 .2-1.75 .2 3 .2 3.2 .2-3.75 .2 .65 .2-.5 .2 2.45 .2 1.6 .2-5.75 .2 2.1 .2 .2 .2-.9 .2-1.25 .2 4.35 .2-1.45 .2 1.2 .2 1.7 .2-4.05 .2 1.95 .2-2 .2 .65 .2 .9 .2-1.05 .2-2.9 .2 6.45 .2-2.9 .2-2.8 .2-2.3 .2 4.7 .2 1.45 .2 .75 .2 .25 .2-3.25 .2 2.25 .2-4.75 .2 3.65 .2 1.65 .2-3.3 .2 .95 .2 .6 .2 .05 .2 2.9 .2-5.55 .2 5.2 .2-5.55 .2 1.25 .2-.25 .2 1.5 .2-.9 .2 2.1 .2-1.05 .2 4.75 .2-3.95 .2-1.35 .2 1.35 .2 .45 .2-1.7 .2-2 .2 .65 .2 2.15 .2 1.4 .2-.8 .2-1.2 .2 1.4 .2-2.3 .2 1.6 .2 2.5 .2-.65 .2 .5 .2-3.75 .2 1.25 .2-2.6 .2 4.15 .2-2.95 .2-1.9 .2 1.75 .2 1.6 .2-5.3 .2 1.7 .2 5.15 .2-1.9 .2-.35 .2-3.35 .2 6.85 .2-1.2 .2-.7 .2-3.9 .2 3.6 .2 1.2 .2-3.15 .2 .15 .2-.5 .2 2.3 .2-1.8 .2-.2 .2-2.45 .2-.45 .2 5.6 .2 1.35 .2-1.55 .2 1.2 .2-4.25 .2 1.05 .2 .9 .2-1.2 .2 3.95 .2-6.45 .2 1.6 .2 .45 .2-.75 .2 3.3 .2-6.1 .2 6.7 .2-.5 .2-1.25 .2 2.3 .2 2.05 .2-4.7 .2 1.15 .2-.7 .2 .25 .2-2.25 .2-.45 .2 2.85 .2-2.45 .2 3.1 .2-.3 .2-2.7 .2 1.75 .2-.65 .2-.45 .2 2.7 .2-2.35 .2 .4 .2-4.7 .2 5.45 .2-4.4 .2 2.25 .2 4.25 .2 .35 .2-4.7 .2-1.85 .2 3.55 .2-1.75 .2 1.55 .2-3.65 .2 5.3 .2 .9 .2-6.5 .2 1.45 .2 .15 .2 3.05 .2-5.85 .2 4.65 .2-.95 .2-1.25 .2 3.2 .2-5.75 .2 1.25 .2 1.25 .2 3.15 .2-2.3 .2-1.05 .2 2.8 .2-2.1 .2-.4 .2 .7 .2 1.35 .2 5.05 .2-8.15 .2 2.9 .2-1 .2-.25 .2 3.8 .2-1.65 .2-.25 .2-2.45 .2-.85 .2 2.4 .2-1.3 .2-.65 .2 2.65 .2-4.1 .2 1 .2 3.2 .2-1.9 .2 1.55 .2-3.3 .2 3.3 .2-3.1 .2 4.4 .2-1.25 .2-.75 .2 2.25 .2-2.6 .2-2.15 .2 4.65 .2-2.65 .2 1.8 .2-2.35 .2 2.15 .2-4.45 .2-.95 .2-.35 .2 4.6 .2-5.95 .2 .35 .2 .7 .2 3.5 .2 .35 .2-2.75 .2 3.35 .2-1.05 .2 1.85 .2-.65 .2-3.65 .2 1.85 .2-.85 .2 1.25 .2-.65 .2-.5 .2 1.4 .2-1.5 .2 1.35 .2-1.6 .2-.55 .2 2.25 .2-.05 .2 .5 .2-1.45 .2-1.9 .2 .75 .2-.2 .2-4.3 .2 1.25 .2 5.6 .2-3.6 .2-6.15 .2 5.75 .2 .45 .2-3.15 .2 7.4 .2-2.65 .2-.85 .2-2.3 .2 1.25 .2 .6 .2-.95 .2-2.7 .2 1.65 .2-.3 .2 .15 .2-3.1 .2 2.6 .2-.8 .2 .25 .2-.3 .2-3.8 .2 4.7 .2-.5 .2-4.8 .2 2.45 .2-1.95 .2 .6 .2 2.85 .2-1.35 .2 2.85 .2-4.45 .2-2.95 .2 2.3 .2-5.9 .2 8.8 .2-3.7 .2 0 .2-1.05 .2-2.6 .2 1.15 .2-1.9 .2 .15 .2 1.35 .2-3.85 .2 5.7 .2-6.45 .2 3.6 .2-3.75 .2-1.9 .2 2.95 .2-1.1 .2-1.5 .2-.3 .2-1.95 .2 1.6 .2-2.7 .2 .35 .2 1.6 .2-6.15 .2 .85 .2-1.1 .2-1.15 .2-2.15 .2 1.4 .2 0 .2-1.6 .2-4.35 .2 3.95 .2-1.05 .2-2.6 .2-3.55 .2-.95 .2 4.95 .2-1.8 .2-4.15 .2-4.55 .2 3.4 .2-3.95 .2 1.8 .2-6.7 .2 .7 .2-3.3 .2 .4 .2-5 .2 1.6 .2-4.95 .2-3.15 .2 1.2 .2-2.95 .2-7.6 .2 2.45 .2-2.05 .2-2.25 .2 1.75 .2-8.75 .2-1.2 .2-6.65 .2-2.25 .2-.75 .2-1.9 .2-3.15 .2-1.05 .2-2.9 .2-2.45 .2-6 .2-1.7 .2-6.15 .2-.75 .2-3.05 .2-5.7 .2-9.95 .2 2.8 .2 4.45 .2-9.85 .2-4.65 .2-1.45 .2-.8 .2-5.05 .2-4.45 .2-5.7 .2-.45 .2-5.05 .2 1.2 .2 .35 .2-3.5 .2-6.35 .2-3 .2-2.85 .2 3 .2-1.1 .2-.65 .2-2.1 .2-4.6 .2-2.3 .2 7.4 .2-4.9 .2 7.1 .2-9.6 .2 3.25 .2 1.4 .2 4.2 .2 2.4 .2-1.4 .2 4.7 .2-2.75 .2 4.2 .2 .6 .2 4.15 .2 2.5 .2 5.15 .2 10.65 .2-8.9 .2 6 .2 5.35 .2 1.75 .2 6.6 .2-2.65 .2 7.75 .2-.45 .2 7.3 .2 1.75 .2 3.6 .2 1.3 .2 .3 .2 5.1 .2 7.55 .2 .9 .2 5.5 .2-1.75 .2 7.65 .2 3.85 .2-4.65 .2 8.8 .2 6.55 .2-3.55 .2 6.7 .2 .35 .2 4.4 .2-.4 .2 1.45 .2 3.1 .2 2.4 .2 1.65 .2 1.45 .2 6.6 .2-1.9 .2 .5 .2 2.5 .2 5 .2-4.4 .2 7.85 .2 2.1 .2 2.85 .2-2.35 .2 .6 .2 3.7 .2 1.25 .2 4 .2-1.55 .2 .15 .2-.8 .2 3.65 .2 1.75 .2 3.55 .2-1.35 .2 3.75 .2 .75 .2-3.5 .2 .1 .2 2 .2 1.7 .2-.4 .2 4.1 .2 .7 .2 1.95 .2-1.35 .2-.85 .2 2.5 .2-2.25 .2 3 .2-1.4 .2 4.8 .2-7.8 .2 8.25 .2 .6 .2-1.5 .2 1.35 .2 .2 .2 2.85 .2 1.25 .2-3.15 .2 3.95 .2-4.55 .2 2.7 .2 .45 .2-3.35 .2 3.85 .2-1.8 .2 3.55 .2-3.35 .2-1.6 .2 1.35 .2 3.2 .2 .9 .2 .35 .2-2.1 .2 3.65 .2-2.65 .2 .95 .2 2.9 .2-2.25 .2-3.5 .2 5.85 .2-1.3 .2-.65 .2 3.85 .2-3.95 .2 3 .2-.95 .2 5.55 .2-9.35 .2 4.5 .2 .5 .2 1.8 .2-3.15 .2-.3 .2 4.55 .2-3.75 .2 1.65 .2-.55 .2 1.05 .2-3.6 .2 1.9 .2 1.2 .2 .45 .2 2.3 .2-1.15 .2 .25 .2-1.25 .2 2.95 .2-3.9 .2 1.2 .2-2.9 .2 1.05 .2 4.2 .2-1.85 .2-3.8 .2 4 .2-.35 .2-1.85 .2 3.3 .2-1.25 .2 .7 .2 2.1 .2-3.3 .2 3.75 .2-2.85 .2 .1 .2 3.4 .2-1.85 .2-1.65 .2 .7 .2 .8 .2-3.55 .2 4.65 .2-1.4 .2-2.7 .2 .8 .2 3.95 .2-4.55 .2 7.45 .2-6.9 .2 2.8 .2-5.9 .2 5.4 .2-.9 .2 2.2 .2-.6 .2-1.1 .2 5.4 .2-2.9 .2-3.2 .2 2.35 .2-6.9 .2 5 .2 3.95 .2-3.85 .2 1.55 .2-2.75 .2 4.2 .2-1.4 .2-.2 .2 2.05 .2 1.55 .2-1.8 .2-5.4 .2 4.6 .2-.25 .2-3 .2-1 .2 2.65 .2 .25 .2 .55 .2-1.45 .2 1.95 .2 .35 .2-1.25 .2 1.5 .2-2.1 .2-2.1 .2 3.4 .2 1.95 .2 3.95 .2-10.4 .2 3.55 .2-.8 .2 2.5 .2-2.45 .2 2.2 .2 1.85 .2-3.7 .2 1.5 .2 3.65 .2-1.55 .2-5.4 .2 8 .2-5.9 .2 2.1 .2-1.5 .2-.05 .2-.5 .2 2.85 .2-3 .2-1.05 .2 1.55 .2 1.2 .2-4.3 .2 6.05 .2-3.2 .2 3.1 .2 1.45 .2-2.3 .2 .5 .2-2.1 .2-.45 .2-2.65 .2 3.7 .2-.75 .2-3.9 .2 5.7 .2 2.65 .2-2.35 .2 1.65 .2-3.1 .2-1.6 .2 2.35 .2-.85 .2-1.7 .2 4.7 .2-1.85 .2-1.8 .2 1.85 .2-.7 .2 1.65 .2 2.1 .2-4.75 .2-1.2 .2 5.55 .2 2.2 .2-6.5 .2-.6 .2-.65 .2 2.6 .2 .25 .2-.8 .2 2.4 .2-3.55 .2 .5 .2-1.4 .2 5.65 .2-.65 .2 .5 .2-4.6 .2 4.7 .2-2.25 .2 .95 .2-.3 .2-1.95 .2 .35 .2-2.95 .2 2.15 .2 .7 .2-2 .2 2.7 .2 2.55 .2-3.8 .2-1 .2 .25 .2 2.25 .2 3.35 .2-3.4 .2-.2 .2-2.8 .2 3.4 .2 .65 .2-2.25 .2 .85 .2-1.35 .2 3 .2 1.3 .2-2.05 .2 .25 .2-.95 .2-1.5 .2-.25 .2 .8 .2 1.1 .2-.25 .2 2.2 .2-.6 .2 1.6 .2-1.5 .2-2.2 .2 .75 .2-3.7 .2 7.1 .2-4.85 .2 .4 .2 4.75 .2-6.2 .2 1 .2 1.2 .2-1.1 .2 1.45 .2 .3 .2 .85 .2-1.6 .2 1.75 .2-2.2 .2 2 .2 1.25 .2-6.25 .2 3.25 .2 .85 .2-4.4 .2-2.5 .2 7.2 .2-2.05 .2 3.05 .2-1.65 .2-.05 .2-.7 .2 1 .2-2.2 .2 .85 .2 2.8 .2-2.2 .2 1.6 .2-1.1 .2-.7 .2-1.35 .2 3.9 .2-3.6 .2 2.6 .2-4.15 .2 3.9 .2 .25 .2-2.2 .2-2.05 .2 3.1 .2 .55 .2-1.3 .2-.35 .2 3.4 .2-2.2 .2-.65 .2 2.7 .2-1.85 .2-1.45 .2 3.35 .2-2.6 .2 2.75 .2-3.4 .2 2.1 .2 1.95 .2-1.65 .2 .1 .2-.1 .2 .85 .2-1.65 .2 .8 .2-1.45 .2 4.6 .2-6 .2 3.65 .2-3.85 .2 3.25 .2 1.65 .2-5.15 .2 6.1 .2-5.8 .2 .3 .2 2.45 .2-3.05 .2 4.45 .2-1.05 .2-6.85 .2 2.75 .2 1.5 .2 2.45 .2-3.2 .2 .75 .2 2.85 .2-3.4 .2 2.7 .2-3.5 .2 5 .2 .9 .2-5.45 .2-2.6 .2 1.45 .2 5.65 .2-3.3 .2 3.45 .2-5.05 .2 .85 .2 1.7 .2 2.55 .2-2.75 .2-1.7 .2 2.8 .2-.45 .2 .9 .2-1.45 .2-.95 .2 1.35 .2-5.3 .2 5.85 .2 2 .2-1.4 .2-3.2 .2-1.25 .2 6.05 .2-3.85 .2 .6 .2 .95 .2-1.75 .2 1.35 .2 3.1 .2-4.25 .2 5.15 .2-3.3 .2-.1 .2 1.3 .2-.05 .2 .3 .2-1.05 .2-2.45 .2 4.7 .2-3.75 .2-1.45 .2 3.65 .2-.5 .2-1.45 .2 .2 .2 1.1 .2 2.85 .2-4.25 .2-2.5 .2 1.45 .2 2.3 .2-1.55 .2-.95 .2 2.95 .2 0 .2-2 .2 1.05 .2-1.95 .2 .05 .2 .55 .2-2.15 .2 3.6 .2-.9 .2-.9 .2 1.3 .2 .05 .2-1.9 .2 .35 .2-.45 .2 4.55 .2-6.45 .2 3.4 .2 1.95 .2-4.1 .2 .25 .2-.05 .2-1.75 .2 6.3 .2-3.05 .2-1.85 .2 .95 .2 1.7 .2-1.05 .2-1.25 .2 3 .2-3 .2 1.05 .2 1.2 .2-1.9 .2 1.7 .2-1.55 .2 7 .2-6.5 .2 2.3 .2-3.3 .2-.55 .2 2.1 .2-.45 .2 0 .2 .65 .2 1.9 .2 2.2 .2 .2 .2-4.15 .2 3.75 .2-.25 .2-5 .2 .3 .2 .8 .2 4.4 .2-4.5 .2-.2 .2 3.45 .2-3.35 .2 .05 .2 1.6 .2-.95 .2-5.5 .2 2.5 .2 4.15 .2-4.6 .2 5.65 .2-2.75 .2 .7 .2 .05 .2-4.45 .2 2.3 .2-.7 .2 2.75 .2 2.7 .2-3.7 .2 .6 .2-4.3 .2 3.35 .2 .3 .2 .1 .2 1.65 .2 1.75 .2-3.05 .2 .85 .2-4.15 .2 4.6 .2-1.2 .2-3.8 .2 4.45 .2-2.15 .2 3.55 .2-1.15 .2-.8 .2 3.45 .2-4 .2-.3 .2 .7 .2 .2 .2-2.1 .2 3.05 .2-.3 .2-2.05 .2-2.2 .2 5.9 .2 .25 .2-.9 .2 .2 .2 1.75 .2-3.1 .2 2.8 .2-3.8 .2-1.55 .2 1.9 .2-.7 .2 1.75 .2 2.8 .2-2.95 .2 1.3 .2 2.35 .2-.7 .2-3.65 .2-1.65 .2 5.95 .2-6.8 .2-1.65 .2-.35 .2 6.75 .2-5.65 .2 2.6 .2 .25 .2 3.05 .2-5.75 .2 3.05 .2 .55 .2 2.35 .2-3.55 .2 1.1 .2-1.2 .2 2.95 .2-.35 .2-2.85 .2 2 .2-4.35 .2 3.3 .2-2.05 .2 1 .2 3.05 .2 2.45 .2-4.2 .2-.75 .2-.45 .2 2.35 .2-2 .2 2.45 .2 1.2 .2-1.95 .2-2.2 .2 2.45 .2-3.15 .2-2.3 .2 6.2 .2 1.65 .2-1.25 .2-3.65 .2-6.5 .2 5.65 .2 2.9 .2-2.2 .2 3.8 .2-4.75 .2 2.8 .2-.6 .2 .05 .2-3.6 .2 2.8 .2 .75 .2-1.45 .2-2 .2 1.75 .2-1 .2 2.75 .2 1.35 .2-1.4 .2 .05 .2-1.2 .2 .8 .2-4.65 .2 4.3 .2 1.75 .2-3.05 .2 2.6 .2-4.8 .2 3.35 .2-.55 .2 1.4 .2-.75 .2 4.5 .2-11.7 .2 3.7 .2 1.65 .2 1.6 .2-1.6 .2-.1 .2-1.95 .2 .4 .2 1.05 .2 5.1 .2-5.05 .2 7.7 .2-3.7 .2-2.95 .2 2.35 .2 .4 .2-4.85 .2-.95 .2 6.65 .2-5.3 .2 3.95 .2-.45 .2-5.15 .2 5 .2-.2 .2 1.5 .2-2.9 .2 1 .2-.2 .2-1.35 .2 4 .2-1.5 .2 1.2 .2-2.6 .2 1.7 .2-4.65 .2 .65 .2 3.5 .2-2.75 .2-.4 .2 1.15 .2-3.85 .2 3.75 .2 .65 .2-1.85 .2-1.8 .2 6.2 .2-2.95 .2-3.2 .2 .85 .2-2.3 .2-.35 .2-.45 .2 2.3 .2 2.65 .2 .6 .2-1.95 .2 2.4 .2-1.05 .2-3.8 .2 .55 .2 2.35 .2 .8 .2 .75 .2-5.4 .2-1.35 .2 8.5 .2-5.05 .2 2.65 .2-2.2 .2-3.2 .2 5.95 .2-2.15 .2 2.1 .2-2 .2-3.6 .2 1.95 .2 2.1 .2-3.8 .2 1.8 .2 2 .2-5.4 .2 1.75 .2 1.05 .2 1.55 .2-2.45 .2-1.5 .2 2.6 .2-2.75 .2 2.1 .2-.35 .2-1.35 .2 2.1 .2 .5 .2-5.65 .2 3.8 .2-1.7 .2-.55 .2 .6 .2 2.15 .2-3.1 .2-.65 .2-2.3 .2 2.15 .2 .05 .2-2.35 .2 1.15 .2 1.4 .2 1.7 .2-4 .2 4.65 .2-2.5 .2-.6 .2-.95 .2-1.45 .2-2 .2 .85 .2-.15 .2-.15 .2 2.55 .2 .6 .2-3.7 .2 .55 .2-4.2 .2-3.35 .2 3.6 .2 .2 .2 2 .2 1.65 .2-5.35 .2 1.65 .2-1.1 .2-2.65 .2 .65 .2-1.7 .2 1.85 .2-6.55 .2-3.6 .2 4.6 .2 .9 .2-.65 .2-4.5 .2 1.5 .2-3.65 .2 1.95 .2-4.25 .2-1.85 .2 3.35 .2-6.1 .2-1.75 .2 3.8 .2-2.9 .2-6.75 .2 6.4 .2-6.9 .2 .2 .2-.8 .2 3.2 .2-6.3 .2 .35 .2-4.15 .2-.4 .2-6.3 .2 1.25 .2-3.45 .2-3.05 .2 .85 .2-.55 .2-3.6 .2-4.15 .2 0 .2-6.75 .2 .75 .2-2.1 .2-4.05 .2-3.1 .2-1.85 .2-4.4 .2-2.05 .2-.6 .2-9.15 .2 4.6 .2-4.75 .2-3.5 .2-5.8 .2-1.45 .2-3.3 .2 .25 .2-2.85 .2-1.45 .2-5.25 .2-7.55 .2 .15 .2-.85 .2-.45 .2-6.45 .2 1.3 .2-1.05 .2-3.1 .2-.35 .2 4.95 .2-6.5 .2 4.2 .2-4.7 .2-2.55 .2 3.05 .2-2.1 .2 1.25 .2-4.65 .2 7.2 .2-1.15 .2 5.45 .2-1 .2 .5 .2 .2 .2 4.6 .2 1.2 .2 1.3 .2 8.75 .2-2.35 .2 5.1 .2 4.05 .2 .2 .2 3.35 .2 2.5 .2 3.95 .2 2 .2 2.7 .2 2.05 .2 1.4 .2 3 .2 2.35 .2 4.8 .2 5.35 .2-2.5 .2 3.45 .2 1.8 .2 4.7 .2 5.05 .2-.65 .2 3.85 .2-3.65 .2 7.25 .2 3.7 .2-.35 .2-.2 .2 6.75 .2 .7 .2 6.25 .2-3.5 .2 2.75 .2 1.2 .2 2.8 .2-2.7 .2 8.7 .2-.1 .2-.5 .2 1.15 .2 3.3 .2 1 .2-.45 .2 1.75 .2 2.35 .2-.55 .2 1.3 .2 .85 .2 1.15 .2-1.05 .2 1.75 .2 3.8 .2 1.8 .2-1 .2-6.85 .2 5.4 .2 4.9 .2 3.5 .2-.3 .2-2.4 .2 .35 .2 .5 .2 5.3 .2-2.65 .2-1.9 .2 4.6 .2 .3 .2-5.65 .2 3.5 .2 4.05 .2 .25 .2-4.2 .2 3.1 .2 2.35 .2-.75 .2-2.6 .2 2.25 .2 2.2 .2 0 .2-2.75 .2 7.45 .2-4.25 .2-3.4 .2 2.85 .2-4.9 .2 4.7 .2 1.65 .2 5.55 .2-4.5 .2 .65 .2 1.05 .2-.9 .2-1.5 .2 4.4 .2-1.6 .2 2.4 .2-.9 .2-4 .2 1.2 .2 .3 .2 .25 .2 1.95 .2-1.2 .2-1.15 .2 5 .2-.1 .2-2.65 .2-2.2 .2 1.1 .2-.15 .2-.2 .2-.05 .2 2.7 .2 .25 .2 .4 .2-2.8 .2 2.7 .2 3.7 .2-3.6 .2-1.25 .2 6.7 .2-5.05 .2-1.9 .2 3.3 .2-3.3 .2 .8 .2 3 .2-3.4 .2-1.75 .2 4.7 .2 .3 .2-4.6 .2 2.2 .2 3.1 .2-1.7 .2 1.3 .2-2 .2-1.05 .2 .2 .2 .55 .2 1.1 .2-6.05 .2 1.65 .2 4.1 .2 1.45 .2-2.8 .2 1.45 .2-2.3 .2-.6 .2 3.25 .2-.45 .2-.95 .2-1.65 .2 2.9 .2-.3 .2-.4 .2 .25 .2-.5 .2 1.85 .2-.3 .2 2.9 .2-.8 .2-3.1 .2-2.5 .2 3.85 .2-2.6 .2 4.4 .2-6.35 .2 2.2 .2 4.1 .2-3.3 .2 1.45 .2-.2 .2-2.45 .2 2.75 .2-3.7 .2 1.1 .2 5.1 .2-4.95 .2 1.1 .2-3.1 .2 4.95 .2-4.8 .2 .25 .2 .2 .2-.8 .2-1.15 .2 2.3 .2-.55 .2 .7 .2-2 .2 .05 .2 1.1 .2 .55 .2-2.1 .2 1.7 .2-.55 .2 2.55 .2-1.05 .2-.45 .2 .9 .2-3.65 .2 4 .2-2.7 .2-1.6 .2 1.65 .2-3.3 .2 5.75 .2-3.4 .2-3.95 .2 .55 .2 1.05 .2-.4 .2 1.9 .2 .6 .2 0 .2-1.3 .2-3.4 .2 4 .2-.05 .2-7.05 .2 2.55 .2 .15 .2-1.25 .2 3.45 .2-1.6 .2-1.2 .2-3.1 .2-2.15 .2 1.95 .2-.2 .2-.55 .2-3 .2 .8 .2 1.95 .2 1.2 .2-2.3 .2 .2 .2-.1 .2-.45 .2 2.25 .2-4.7 .2 1.7 .2-3.7 .2 4.95 .2-1.4 .2 .15 .2-2.3 .2-.9 .2-2.9 .2 3.05 .2 1.85 .2-9.2 .2 9.35 .2-5.85 .2 2.5 .2-3.05 .2 1.15 .2 1.85 .2-2.4 .2 4.1 .2-3.95 .2 1.15 .2-2.85 .2 .15 .2 .15 .2 1.95 .2 2.5 .2-3.5 .2-2.8 .2 1.5 .2-1.5 .2 4.1 .2-.8 .2-2.2 .2 1.75 .2 3.05 .2-.8 .2-1.95 .2 3.15 .2-.45 .2-1.65 .2 1.9 .2 4 .2-6 .2 4.95 .2-2.1 .2 2.1 .2-.05 .2 .15 .2-.5 .2 .8 .2 1.9 .2 0 .2-3.65 .2 4.55 .2 2.25 .2-.4 .2-1 .2-3.9 .2 5.6 .2 .6 .2 2.1 .2-4.7 .2 1.95 .2-.2 .2 .95 .2-2.7 .2 3.1 .2 .45 .2 .5 .2 4.6 .2-4.4 .2 .75 .2 3.7 .2-3.25 .2 4.1 .2-1.3 .2-1.95 .2 .15 .2 2.1 .2-.4 .2 .9 .2-1.15 .2 2.75 .2-2.4 .2 .65 .2 .9 .2-2.05 .2 2.2 .2 .5 .2-2.4 .2-.55 .2 6.65 .2-3 .2 .5 .2-.85 .2 4.85 .2-3.6 .2-3.15 .2 5 .2-2.95 .2 3.15 .2-1.05 .2 3.15 .2-1.55 .2-1.65 .2 3.95 .2 2.9 .2-6.75 .2 3.55 .2-1.4 .2 .3 .2-3.45 .2 .65 .2 5.2 .2-2.6 .2-1.3 .2 5.05 .2-1.15 .2-.95 .2-3.5 .2 2.1 .2 3.25 .2-7.35 .2 1.05 .2 1.75 .2 3.85 .2-1.5 .2 .55 .2-.5 .2-.1 .2 2.4 .2 5.15 .2-6.6 .2 1.85 .2-3.65 .2 4.4 .2-3.15 .2 .25 .2-1.3 .2-.6 .2 .55 .2-.9 .2-.6 .2 6.7 .2-2.9 .2 1.2 .2-1 .2-4.05 .2 3.15 .2-1.95 .2 .25 .2 1.5 .2 .65 .2-.15 .2 .1 .2-.85 .2 .75 .2 2.6 .2 2.05 .2-2.25 .2-2.85 .2 1.35 .2 1.25 .2 .15 .2 .5 .2 .05 .2-1.75 .2-1.45 .2-2.65 .2 5.6 .2-.95 .2-3.15 .2 1.9 .2-.85 .2-.1 .2 4.7 .2-4.45 .2 5.95 .2-5.45 .2-1.25 .2 1.85 .2 4.9 .2-5.45 .2 1.4 .2-5.9 .2 6.1 .2-4.15 .2 2.7 .2 3.2 .2-3.45 .2 2.1 .2-2.05 .2-.2 .2 1.35 .2 1.75 .2-2.15 .2-.2 .2-2 .2-1.55 .2 3.9 .2-.65 .2 .95 .2 1.65 .2-.45 .2-3.6 .2 2.45 .2 .05 .2-1.15 .2-4.3 .2 3.15 .2 1.5 .2 1.85 .2-2.3 .2-2.3 .2 5.95 .2-3 .2-.9 .2 2.15 .2 .35 .2-1.65 .2-1.05 .2 .05 .2 2.95 .2-2 .2 1.4 .2-5.15 .2 3.05 .2 .3 .2-.2 .2-3.15 .2 3.25 .2 4.35 .2-2.7 .2-1.75 .2-.4 .2-1.35 .2 3.4 .2-2.15 .2 .85 .2 2.8 .2 .1 .2-.65 .2-4.9 .2 2.4 .2 3.75 .2-5.05 .2 5.25 .2-2.75 .2 2.1 .2-2.9 .2-1.6 .2 .35 .2 5.35 .2-3.85 .2-1.9 .2 4.4 .2-5.05 .2 3 .2 1.1 .2-.1 .2 .3 .2-1.1 .2-5.05 .2 5.8 .2-.6 .2-.3 .2 1.5 .2 .6 .2-1.15 .2 2.75 .2 1.5 .2-4.05 .2-1.35 .2-2.05 .2 4.05 .2-5.05 .2 7.45 .2-1.5 .2-3.2 .2 2.6 .2-3.3 .2-.5 .2 4.05 .2-3.85 .2 2.75 .2-.8 .2 3.65 .2-2.65 .2 2.75 .2-1.55 .2-3.5 .2-.85 .2-2 .2 4.65 .2-6.05 .2 4.25 .2-3.45 .2 3.9 .2 2.85 .2-3.4 .2 .7 .2 .25 .2 1.55 .2-3.75 .2 3.45 .2-.45 .2-2 .2 .15 .2 4.7 .2-1 .2-.65 .2-2.7 .2 1.1 .2-2.05 .2-1 .2 2.8 .2-.25 .2-1.4 .2 .1 .2 3.4 .2-1.75 .2-2.4 .2 7.8 .2-8.15 .2 4.25 .2-2.6 .2 3.6 .2-1.3 .2 2.05 .2-2.3 .2-1.45 .2 4.75 .2-3.25 .2-.3 .2 .15 .2-1.25 .2 2.35 .2 2.85 .2-.35 .2-2.55 .2 .75 .2 .25 .2-3 .2 4.6 .2-2.65 .2-4.45 .2 5.25 .2-3.25 .2 2.6 .2 .85 .2-2.15 .2 1.3 .2 2.3 .2-5.85 .2-1.05 .2 3.8 .2-.25 .2 5 .2-2.3 .2-1 .2-1.35 .2-3.95 .2 1.35 .2 2.15 .2 1.1 .2-1.3 .2 1.15 .2 1.3 .2-3 .2 .6 .2-1.15 .2 4.7 .2-6.95 .2 5.65 .2 .4 .2-6.05 .2 3.35 .2 3.4 .2-4.25 .2 .7 .2 1.15 .2 2.95 .2-1.5 .2-2.8 .2-1.45 .2-.3 .2 4 .2-5.4 .2 3.45 .2 2.5 .2-3.85 .2 1.95 .2 .45 .2 1.85 .2-4.5 .2 3.05 .2-.25 .2 .35 .2-3.6 .2 4.5 .2-2.9 .2 1.6 .2-1.55 .2 6 .2-4.05 .2 4.5 .2-5.95 .2 .8 .2 3.75 .2-3.95 .2 1.8 .2 1.5 .2-3.25 .2-.65 .2 .95 .2 2.75 .2-1.25 .2 1.85 .2-3.35 .2-.4 .2-1.4 .2 1.8 .2-.65 .2 1.05 .2-1.75 .2 .5 .2 .9 .2 2.75 .2-2.8 .2-.5 .2 3.45 .2 .7 .2-3.5 .2 .1 .2-3.35 .2 .55 .2 3.3 .2 3.05 .2 1 .2-2.15 .2-2.8 .2 2.15 .2-4.25 .2 3 .2-2.35 .2 2.55 .2 3.1 .2 1.6 .2-4.2 .2 .4 .2-4.4 .2 2.2 .2 4.65 .2-.75 .2-.7 .2-.8 .2 2.6 .2-4.1 .2 .15 .2 6.5 .2-7.9 .2 2.85 .2-1.75 .2 4 .2-3.75 .2-.15 .2 .05 .2 2.45 .2-3.9 .2-1 .2 2.95 .2-.5 .2 1.9 .2-1.85 .2-.55 .2 1.9 .2 .35 .2 1.25 .2-2 .2-4.05 .2 3.8 .2 .15 .2-.2 .2 1.35 .2-1.75 .2 3.05 .2-3.05 .2 3.65 .2-5.35 .2-2.7 .2 3.05 .2 8.2 .2-6.7 .2 .35 .2 .85 .2-1.5 .2 1.5 .2-.3 .2 4.2 .2-1.85 .2-1.95 .2 .9 .2-.15 .2-3.65 .2 4.8 .2-3.8 .2 3.1 .2-1.4 .2 1.7 .2 1.1 .2-1.8 .2-2.25 .2 .35 .2 1.9 .2-2.1 .2 .1 .2 .6 .2-.5 .2 1.9 .2-2.1 .2 1.2 .2-1.75 .2-2.15 .2 5.45 .2 .4 .2-3.15 .2 2.8 .2-1.05 .2-3.15 .2 5.05 .2-6.8 .2 4.15 .2 1.7 .2-3.9 .2 5.85 .2-4.7 .2 3.95 .2-3.1 .2 1.9 .2-1.55 .2 5.25 .2-4.25 .2 1.35 .2-.65 .2-1.15 .2-.95 .2 1.45 .2 1.25 .2-.15 .2-.8 .2-1.45 .2 1.85 .2-3.65 .2 2.05 .2-4.35 .2 2.95 .2 1.15 .2-2.7 .2 .55 .2 4.5 .2-.9 .2 1.25 .2 .2 .2-1.15 .2 .35 .2-1.1 .2 2.15 .2-6.05 .2 2.95 .2 2.6 .2-.45 .2-1.65 .2-.85 .2 2.5 .2-2.15 .2-2.05 .2 4.9 .2-3.3 .2 1.2 .2-3.85 .2-2.05 .2 6.5 .2 2.6 .2-8.5 .2 3.8 .2 2.35 .2-.8 .2-.3 .2-.2 .2-2 .2 4.45 .2-.3 .2-1.3 .2-5.7 .2 8.55 .2-3.75 .2 1.25 .2 3.05 .2-1.35 .2-3 .2 2.5 .2-1 .2-2.55 .2 1.55 .2-4.1 .2 .4 .2 3.8 .2 2.65 .2-5.15 .2 4.7 .2-2.25 .2 3.55 .2-4.65 .2 7.15 .2-5.4 .2-1.5 .2 1.05 .2-4.45 .2 4.7 .2-1.45 .2 1.75 .2-1.75 .2-5.2 .2 .25 .2 4.2 .2-1.3 .2 4.6 .2-4.2 .2 3.25 .2-1.3 .2 3.7 .2-3.15 .2 .25 .2-2.65 .2 3 .2 .65 .2-1.7 .2 1.8 .2-3.8 .2 1.8 .2 1.35 .2-1.55 .2 3.3 .2-1.25 .2-2.75 .2-.65 .2 2 .2-1.55 .2 .7 .2-1.55 .2 4.1 .2-1.3 .2 .25 .2 1.15 .2-6.75 .2 5.05 .2-.6 .2 2 .2-.4 .2 .05 .2 1.65 .2-6.8 .2 1.7 .2 4.95 .2 .5 .2-4.9 .2 4.2 .2-.55 .2-4.8 .2 1.6 .2 2.05 .2-.85 .2 4 .2-2.55 .2 .6 .2-3.35 .2-1.2 .2 1.3 .2 4.35 .2 1 .2-5.75 .2 1.45 .2-5.1 .2 8.15 .2-5.5 .2 4.65 .2 .85 .2-5.65 .2 1 .2 3.45 .2 1.4 .2-4.1 .2-1.1 .2 3 .2 1.95 .2-5.1 .2 .7 .2 4.2 .2-2.1 .2-2.2 .2 1.8 .2 1 .2 1.2 .2-1.6 .2-.65 .2-3.6 .2 4.8 .2-.05 .2-.65 .2-.4 .2 .2 .2 1.8 .2-2.85 .2-1.8 .2 4.55 .2-2.8 .2 .25 .2 1.5 .2-1.45 .2 .4 .2-2.25 .2 5.2 .2-5.7 .2 5.75 .2-5.6 .2 1.2 .2 .65 .2 2.8 .2-1.5 .2-1.4 .2-1.7 .2 4.85 .2-2.1 .2 .85 .2-1.3 .2-.7 .2 2.5 .2-.8 .2 1.85 .2-2.05 .2-3.45 .2 4.7 .2-1.55 .2-.6 .2-6.2 .2 4.85 .2 2.2 .2-1.7 .2 1.9 .2 .75 .2-1.35 .2-1.95 .2 2.9 .2-.1 .2-1.35 .2-3.55 .2 1.45 .2 4.35 .2-2.25 .2-3.35 .2 3.5 .2 .5 .2 1.25 .2-.45 .2-.1 .2-2.5 .2-1.95 .2 2.3 .2 4.3 .2-6.25 .2 5.2 .2-5.15 .2 .4 .2 3.05 .2-2 .2 1.25 .2-2 .2 2.8 .2 1.55 .2-5 .2 4.3 .2-.35 .2 .9 .2-6.6 .2 6.8 .2-4.4 .2 1.95 .2-.4 .2-1.25 .2 .3 .2 .3 .2 1.95 .2 1.2 .2-2.2 .2 2.3 .2-1.35 .2 2.15 .2-5.35 .2 3.2 .2-.45 .2 .4 .2 .45 .2 1 .2-1.45 .2 .8 .2-1.7 .2 .3 .2-1.05 .2 3.65 .2-.6 .2 1.05 .2-3.75 .2 .6 .2 5.7 .2-3 .2-5.4 .2 4.7 .2-.85 .2-1.5 .2 .15 .2-1.25 .2 .7 .2-.5 .2-.85 .2 1.65 .2-1.05 .2 3.4 .2 .7 .2-2.55 .2-.4 .2 2.1 .2-1.65 .2 4.6 .2-10 .2 .65 .2 2.65 .2 3.4 .2 .65 .2-2.7 .2 1.05 .2-.65 .2 1.65 .2 3.3 .2-9.2 .2 9.65 .2-2.5 .2-2.95 .2 1.75 .2-1.15 .2 1.1 .2 0 .2 .65 .2-3.85 .2 3.5 .2-2.75 .2 .8 .2 2.3 .2-2.65 .2 1.6 .2 .05 .2-.45 .2-2.85 .2 3.65 .2-.65 .2 4.4 .2-7.05 .2 4.55 .2-3.2 .2 .25 .2 4.35 .2-4 .2 2 .2-1.45 .2-2.2 .2 1.45 .2-.45 .2 .45 .2 4.5 .2-3 .2-4.75 .2 7.75 .2-3.2 .2 1.1 .2 1.4 .2-5.1 .2 2.45 .2-1 .2-.45 .2 .1 .2 .85 .2 2.3 .2-.85 .2-1.05 .2 1.95 .2-7.6 .2 5.1 .2 .65 .2-.1 .2 2.4 .2-2.7 .2 2.6 .2-3.35 .2 1.85 .2-1.25 .2-.8 .2 1.65 .2 .1 .2-3.15 .2 3.95 .2-2.6 .2 .75 .2-6 .2 5.7 .2-4.05 .2 5.95 .2-3.55 .2 .7 .2 .6 .2-2.5 .2 2.9 .2-2.7 .2 2.15 .2 2.3 .2 .9 .2 .3 .2-3.6 .2-1.6 .2 3.1 .2 2.3 .2-5.25 .2 4.75 .2-3.2 .2-5.45 .2 5.85 .2 3.85 .2-2.5 .2 .75 .2-1.5 .2-4.5 .2-1.45 .2 2.75 .2 1.45 .2-1.4 .2 .4 .2 3.4 .2 1.45 .2-6.85 .2 1.35 .2 2.05 .2-.25 .2-4.7 .2 11.4 .2-4.85 .2-.8 .2-4.95 .2 4.75 .2-3.2 .2 3.55 .2-.5 .2-.55 .2 .75 .2-2.2 .2 1.55 .2-5.6 .2 6.7 .2-2 .2 5.8 .2-5.3 .2-5.35 .2 8.3 .2-4.95 .2-.9 .2 2.25 .2 2.8 .2 1.35 .2-5.1 .2 1.25 .2-.1 .2-2 .2 .25 .2 .7 .2 .1 .2 2.35 .2-6.6 .2 5.1 .2-.35 .2 2.1 .2-3.95 .2-.1 .2 .9 .2-1.55 .2-.25 .2-.25 .2-.15 .2-.95 .2 .75 .2-.55 .2-.05 .2-1.5 .2 4.8 .2-1.6 .2-.95 .2-2.45 .2 3.55 .2-2.15 .2 .1 .2 .2 .2-.7 .2 2.15 .2-4.15 .2 .05 .2 1.5 .2-1.05 .2 1.35 .2 .5 .2 .7 .2-1.25 .2-3 .2-.1 .2-.8 .2 2.95 .2-3.35 .2-1.75 .2-.8 .2 3.5 .2-3.9 .2-4.3 .2 6.9 .2-1.25 .2 .55 .2 .05 .2-1.5 .2-.7 .2-1.2 .2-2.25 .2-3.35 .2-.15 .2 4.7 .2 .5 .2-2.1 .2-2.15 .2 2.65 .2-1.85 .2-.3 .2-1.2 .2-2.1 .2 0 .2 2.8 .2 2.45 .2 .05 .2-4.5 .2 1.2 .2-1.35 .2 .4 .2 .45 .2 1 .2-4.5 .2 6.4 .2-4.15 .2-1.8 .2 7.35 .2-6.9 .2 2.05 .2-1.35 .2 4.45 .2-8.25 .2 6.9 .2-3.9 .2 7.2 .2 1.55 .2-2.35 .2-3.2 .2 4.65 .2 2.65 .2-3.8 .2-.95 .2 4.45 .2-5.7 .2 2.75 .2 .95 .2 .85 .2 2.6 .2-2.3 .2-1.65 .2-.2 .2 3.15 .2 1.75 .2 1.5 .2-.3 .2-4 .2 4.65 .2-2.3 .2 4.65 .2-3.1 .2 .4 .2-.25 .2 3.7 .2-2.05 .2 6.55 .2-3.15 .2-4.75 .2 2.75 .2 2.6 .2-.25 .2-.15 .2-.5 .2-3.65 .2 .35 .2 5.2 .2-2.85 .2 1.6 .2 1.55 .2-5.25 .2 .15 .2 5.45 .2-2.25 .2 .7 .2 3.4 .2-2.9 .2 .6 .2 .9 .2-4.2 .2 7.6 .2-2.7 .2-1.95 .2 3.75 .2-4.35 .2 .65 .2-1.05 .2 2.25 .2-1 .2 2.3 .2-1.95 .2 2.1 .2 .5 .2-.05 .2 .05 .2-.55 .2-1.85 .2-2.45 .2 5.15 .2-3.75 .2 3.85 .2-.8 .2 .1 .2 .15 .2 1.3 .2-3.25 .2 2.8 .2 1.7 .2-.55 .2 .7 .2-2.9 .2 .45 .2 4.25 .2-2.9 .2-.45 .2 1.65 .2-4 .2 1.6 .2 1.3 .2-1.05 .2 3.4 .2-2.25 .2 1 .2-3.65 .2 1.8 .2 0 .2 1.2 .2-.05 .2-1 .2 1.25 .2 3.3 .2-4.4 .2-1.45 .2 4 .2 .65 .2-2.75 .2 1.65 .2-6.4 .2 5.4 .2-1.35 .2 5.15 .2-4.25 .2 3.5 .2-4.35 .2-.15 .2-.55 .2-1.35 .2 1.3 .2 3.6 .2-5.6 .2 3.5 .2 2.2 .2-1.85 .2 .6 .2-.35 .2 .4 .2-5.2 .2 7.3 .2-2.4 .2-1.95 .2 .55 .2 .35 .2 1.8 .2-4 .2-.15 .2-.1 .2 4.75 .2-3.85 .2 2.2 .2-2.7 .2 2.35 .2-.95 .2-.45 .2 3.95 .2-2.15 .2-2.25 .2 7.15 .2-7.1 .2-.5 .2-1.05 .2 7.05 .2-3 .2 .25 .2 1.65 .2-2.05 .2 1.25 .2 2.1 .2-3.05 .2 1.2 .2-1.3 .2-.1 .2 2.75 .2-1.8 .2-.65 .2-4.65 .2 2.15 .2 .45 .2 1.45 .2 .85 .2-.45 .2-.7 .2 1.1 .2 0 .2 1.2 .2-5.7 .2 5.95 .2 2 .2-1.75 .2-3.35 .2-1 .2 1.8 .2 3.05 .2-2.3 .2-4.9 .2-2.75 .2 7.5 .2 4.65 .2-8.5 .2 2.05 .2 1.4 .2 .6 .2 1.2 .2-5.25 .2 3.6 .2-1.65 .2 3.2 .2-.95 .2 1.55 .2-5 .2 .25 .2 .85 .2 .5 .2-.5 .2-1.15 .2 1.4 .2-2.2 .2 5.6 .2-3.2 .2-1.65 .2 3.1 .2-3.85 .2 4.25 .2-1.55 .2 4.5 .2-2.55 .2-2.85 .2 3.6 .2-1.65 .2 1.15 .2-8.05 .2 5.65 .2 0 .2 3.75 .2-5.1 .2 3.1 .2-1.15 .2-2.6 .2 1.75 .2 2.4 .2-1.6 .2 .05 .2 .25 .2 .35 .2 .45 .2-.85 .2-2.95 .2 2.7 .2 .65 .2 3.3 .2-5.65 .2 5.5 .2-4.5 .2 4.55 .2-7.8 .2 3.8 .2-4.45 .2 1.9 .2 2.2 .2 1.95 .2-2.7 .2 2.2 .2-2.3 .2 5.25 .2-4.7 .2 5.45 .2-.35 .2-5.8 .2 3.05 .2-2.1 .2 4.15 .2-2.45 .2 3.2 .2-4.3 .2-.25 .2-1 .2 1.95 .2 .6 .2-.75 .2 .5 .2 1 .2-1.8 .2-1.2 .2-.8 .2 .95 .2 .5 .2 2.9 .2-.2 .2-3.55 .2 2.85 .2-3.2 .2 3.7 .2-5.25 .2 5.6 .2-2.5 .2 .9 .2-.75 .2-2 .2 2.55 .2-.25 .2 1.6 .2-.3 .2 1.3 .2-1.45 .2-3.6 .2 4.1 .2-4.25 .2 1.05 .2 1.7 .2-1.95 .2 .95 .2 3 .2-3.45 .2-.65 .2-.8 .2 8.8 .2-7 .2 1.05 .2 0 .2 2.3 .2-3.6 .2-.7 .2 1.1 .2-.85 .2-1.4 .2-.95 .2 4.1 .2-1 .2 3.9 .2-4.1 .2 .35 .2 3.35 .2-6.2 .2 5.3 .2-3.45 .2-.65 .2 3.2 .2-.5 .2-2.7 .2 2.95 .2 2.8 .2-1.55 .2-1.5 .2-1.45 .2 1 .2 1.2 .2-1.5 .2 1.45 .2 1.1 .2-5.25 .2 3.55 .2 .7 .2-1.65 .2-.8 .2 4.6 .2-3.4 .2 0 .2-1 .2 .55 .2 0 .2 .4 .2-3 .2-.2 .2 2.1 .2 .6 .2-.5 .2 2.75 .2-1.6 .2 1.6 .2-1.05 .2-5.25 .2 5.8 .2 2.05 .2-2.75 .2-.45 .2-2.35 .2 3 .2-2.75 .2-1.55 .2 4.25 .2 1.3 .2-2.4 .2 .25 .2-1.1 .2 4.85 .2-2.6 .2-1.5 .2 .05 .2 .95 .2 2.05 .2-3.5 .2-.75 .2 2.55 .2-.9 .2-2.9 .2 2.85 .2-.4 .2-.2 .2 1.2 .2 .2 .2 3.05 .2-2.25 .2 .45 .2-2.75 .2 1 .2-1.45 .2-.05 .2 3.25 .2 2.85 .2-3.15 .2-.6 .2 .25 .2 .55 .2-1.85 .2 .05 .2 1.45 .2 2.1 .2-3.25 .2-3.7 .2 5.2 .2-1.25 .2-2.1 .2-.1 .2-5 .2 5.1 .2 1.2 .2 1.55 .2-1.2 .2-2 .2 1.2 .2 1 .2 1.15 .2-.65 .2 1.2 .2-5.9 .2 4.5 .2 .2 .2-2.6 .2 2.4 .2-1.5 .2-1.5 .2-.2 .2 3.95 .2 .05 .2 1.1 .2-.7 .2-.6 .2-3.3 .2 1.85 .2-.15 .2 4.85 .2-6.1 .2-.9 .2 .6 .2 4.25 .2-3.5 .2 2.95 .2-2.65 .2 3.25 .2-5.45 .2 2.3 .2 2.25 .2-1.8 .2-1.4 .2 4.95 .2-6.05 .2 1.2 .2 4.2 .2 1.2 .2-3.65 .2-2.65 .2-.05 .2 .9 .2 1.6 .2 3.05 .2-.9 .2 .1 .2-3.1 .2 2.65 .2 .1 .2 .1 .2-1.85 .2-.85 .2 3.25 .2 .95 .2-3.8 .2 1.2 .2 1.6 .2 .9 .2 .5 .2-3.65 .2 2.6 .2-5.25 .2-2.15 .2 3.75 .2 1.7 .2-4 .2 2.9 .2 .7 .2-.45 .2 .6 .2 1.8 .2-2.95 .2-.4 .2 2.1 .2 1.1 .2-3.2 .2 3.85 .2-1.35 .2-2.4 .2 .75 .2-1.6 .2 3.1 .2-1.25 .2 4 .2-9.7 .2 2.85 .2 1.5 .2 2.2 .2-1.9 .2-.75 .2 2.4 .2-1.8 .2 1.4 .2 1.35 .2 .2 .2-5.4 .2 1.7 .2 2.5 .2-1.3 .2-1.3 .2 2.9 .2-1.1 .2 .8 .2 .9 .2-2.7 .2 2.95 .2-1.8 .2 .15 .2 1.6 .2-5.6 .2-.1 .2 1.05 .2 4.25 .2-1.6 .2-1.45 .2-1.05 .2-1.4 .2 4.2 .2-.7 .2 .85 .2 1.1 .2-1.35 .2 2.25 .2-3.75 .2 4 .2-2.3 .2-2.05 .2 1.5 .2 4.15 .2-7.2 .2 1.35 .2 .35 .2 1.2 .2-.25 .2 3.75 .2-4.35 .2 1.8 .2-2.5 .2-1.3 .2 1.95 .2-.2 .2 1.9 .2 1.3 .2-3.75 .2 3.2 .2-4.45 .2 5.8 .2-6.8 .2 1.95 .2 1.55 .2-1.35 .2-1.65 .2 3.8 .2-3.6 .2 4.05 .2-5.1 .2 5.15 .2-.45 .2-.7 .2 1.05 .2-2.7 .2 .25 .2 2.5 .2-4.65 .2 1.55 .2 .05 .2-.1 .2-.2 .2-4.6 .2 5 .2 .55 .2 1.95 .2-1 .2-3 .2 .6 .2-1.45 .2 1.1 .2-.6 .2 3.5 .2-1.6 .2 .4 .2-2.15 .2 .4 .2 1.3 .2-2.85 .2 2.65 .2 .65 .2-3.15 .2 1.1 .2-1.9 .2 5.2 .2-2.65 .2 1.25 .2-2.9 .2-1.5 .2 1.55 .2 2.95 .2 .4 .2-1.9 .2-1.85 .2 .75 .2 1.3 .2-4.6 .2 3.9 .2-3.75 .2 2.1 .2 .8 .2-1.1 .2-.55 .2 2.3 .2-3.75 .2-.05 .2-1.45 .2 2.15 .2 1 .2-2.05 .2-4 .2 4.7 .2 .2 .2-3.4 .2 1.05 .2 .3 .2-1.95 .2 1.95 .2-.7 .2-2.9 .2-3.65 .2 3.55 .2 4.6 .2-.75 .2-3.55 .2-1.9 .2 4.95 .2-1.9 .2 .8 .2 .9 .2-3.35 .2-1.15 .2-2.2 .2 1.55 .2-2.85 .2 3.95 .2-3.15 .2 3.35 .2-4.5 .2 1.2 .2-3.05 .2 3.05 .2-4.1 .2 4.05 .2-2.1 .2-5.6 .2 .45 .2 2.95 .2-1.15 .2 3.85 .2-6.7 .2 .9 .2-.05 .2-.05 .2 2.65 .2-4.45 .2-3.75 .2 6.3 .2-3.05 .2-4.65 .2 1.25 .2 .25 .2 .45 .2 .95 .2-2.75 .2-1.1 .2-1.4 .2 1.3 .2 .05 .2 .45 .2-6.1 .2 2.4 .2 2.6 .2 2.3 .2-2 .2-7.2 .2 .5 .2 5.2 .2-1.3 .2-.15 .2 4.05 .2-6.7 .2 4.85 .2-2.45 .2-1.5 .2-3.25 .2 2.05 .2 5.95 .2-3 .2 1.7 .2-.3 .2-1.4 .2 2.4 .2-.9 .2-.8 .2 .05 .2-.55 .2 2.55 .2-.65 .2 3.2 .2-2.65 .2-.9 .2-1.6 .2 6.15 .2 4.25 .2-5 .2-4.25 .2 7.3 .2-2.95 .2 3.5 .2-.2 .2 1.25 .2-.75 .2-.35 .2 3.45 .2-2.45 .2 3.7 .2-3.3 .2 2.1 .2-1.4 .2 4.1 .2-2.95 .2 .2 .2 4.25 .2-.8 .2-.45 .2-1.5 .2 2.5 .2 1.4 .2 1 .2-2.5 .2 3 .2-4.7 .2 4.55 .2-1.65 .2 3.85 .2-2.1 .2 6.2 .2-4.2 .2 .7 .2-5.2 .2 2.2 .2 5.45 .2-3.3 .2 4.1 .2-3.55 .2 3.1 .2-2.75 .2 2.9 .2 .75 .2 .75 .2-3.2 .2-.95 .2 4.15 .2-.45 .2 1.15 .2-3.8 .2 4.4 .2-1.75 .2-1.75 .2 1.5 .2 3.1 .2-1.4 .2 .15 .2 0 .2-.85 .2 3.6 .2-2.4 .2-2.95 .2 .15 .2 2 .2 .5 .2 2.5 .2-6.95 .2 7.25 .2 1 .2-3.4 .2 3.75 .2-4 .2 1.2 .2-.6 .2 4.55 .2-.85 .2-.05 .2-4.7 .2 2.75 .2-2.6 .2 2.85 .2 .9 .2 1.8 .2-3.15 .2 .85 .2-.75 .2-1.9 .2 5.85 .2-2.65 .2 2.3 .2-1.25 .2-4.5 .2 1.45 .2 2.85 .2 .4 .2-.35 .2-1.45 .2 1.85 .2-3.9 .2 1.6 .2-1.95 .2 4.6 .2-1.3 .2 .7 .2-2.05 .2-4.9 .2 3.75 .2 2.05 .2-.25 .2 1.9 .2 .4 .2-3.6 .2 2.85 .2-5.4 .2 5.1 .2-6 .2 5.65 .2-6.05 .2 5.95 .2 2.35 .2-3.85 .2 1.85 .2 .85 .2-8.25 .2 1.6 .2 4.15 .2-2.45 .2 1.45 .2 6.75 .2-1.95 .2-2.65 .2-2.95 .2 2.6 .2-.5 .2-1.15 .2 3.85 .2-7.85 .2 7.55 .2-4.45 .2 3.7 .2-3.25 .2-1.05 .2-.3 .2 1.9 .2 .1 .2 5.75 .2-3.25 .2-3.7 .2-2.7 .2 2.75 .2 .95 .2-5.15 .2 3.6 .2 2.7 .2-4.05 .2-2.65 .2 5.05 .2 1.7 .2-4.15 .2 .65 .2 2.05 .2-1.6 .2-2.9 .2 .6 .2 .35 .2 0 .2 2.35 .2-5.05 .2 2.9 .2-1.45 .2-4.5 .2 6 .2-1.55 .2-3.45 .2-1.35 .2 5.8 .2 1.4 .2-3.85 .2-.95 .2 1.8 .2-3.35 .2 0 .2 3 .2-4.95 .2 4.8 .2-2.2 .2 1.95 .2-7.35 .2 6.7 .2-3.4 .2 1.3 .2-3.55 .2-.75 .2 4.55 .2-1.8 .2-.15 .2 0 .2-.45 .2-5.2 .2 2.55 .2-.35 .2 5 .2-1.75 .2-5.25 .2-1.6 .2 4.7 .2-.5 .2 1.6 .2-5.9 .2 6.15 .2-3.45 .2 2.3 .2-2.4 .2-1.7 .2-.95 .2 4.8 .2-10.4 .2 9.65 .2-.9 .2-3.15 .2 3.3 .2-2 .2-2.6 .2 2.35 .2 2.05 .2-1.15 .2-1.7 .2 3.4 .2 .25 .2 1.25 .2-2.05 .2 3.05 .2-4.8 .2 .85 .2-2 .2 3.3 .2 .5 .2 .1 .2-2.6 .2 5.45 .2-5.8 .2 1.95 .2-4.25 .2 9.3 .2-.25 .2-1.9 .2 1.45 .2-3.2 .2 .65 .2 .55 .2 3.2 .2-1.25 .2 1.55 .2-2.5 .2-.3 .2 4.3 .2-.05 .2 .65 .2-2.1 .2 2.3 .2-3.8 .2 1.3 .2 3.45 .2-2.6 .2-.35 .2 .9 .2 6.1 .2-4.45 .2 1.9 .2-.8 .2 6.05 .2-5.45 .2 2.8 .2 0 .2-.95 .2-.7 .2-3.25 .2 4.9 .2 3.8 .2-3.5 .2 3.55 .2-2.75 .2 .6 .2-2.95 .2 .95 .2 1.5 .2 1.6 .2-4.65 .2-.75 .2 3.1 .2 .1 .2 1.45 .2 2.9 .2-4.95 .2 5.55 .2-2.8 .2-1.1 .2-3.7 .2 7.2 .2 .75 .2-2.8 .2 .15 .2-2 .2-3.25 .2 2.6 .2-1.35 .2 .25 .2 1.25 .2 .65 .2 2.5 .2 1.85 .2-3.3 .2 2.3 .2-2.5 .2 .15 .2 1.5 .2-2.05 .2 2 .2-1.6 .2-.8 .2 .5 .2 4.9 .2-2.75 .2-1.5 .2 1.4 .2-2 .2 .7 .2 .25 .2-2.85 .2 3.35 .2 1.4 .2-.35 .2-.85 .2 2.65 .2-4.1 .2 4.3 .2-.25 .2-1.65 .2 2.9 .2-5.05 .2 2.3 .2-.8 .2-1.35 .2 1 .2 1.6 .2 .05 .2 .5 .2-2.8 .2 1.25 .2 0 .2-1.15 .2 1.45 .2-4.6 .2 2.1 .2 1.45 .2 .3 .2 2.25 .2-2.6 .2 4.9 .2-6.85 .2 7.2 .2-6.05 .2-.4 .2 .9 .2 .25 .2 .75 .2-.35 .2 2 .2 .7 .2-3.95 .2 4.95 .2-2.1 .2-.55 .2 1.85 .2-2 .2 3.3 .2-5.7 .2 5.25 .2-3.65 .2 2.6 .2-2.55 .2 4.6 .2-2.75 .2 .8 .2-3.9 .2-.9 .2 3.7 .2 2.8 .2-2.95 .2-3.5 .2 6.85 .2-4.75 .2 2.75 .2-3.4 .2 .25 .2 2.15 .2-6.3 .2 3.55 .2 1.25 .2 .05 .2-2.65 .2 5.9 .2-2.85 .2 .1 .2-3.7 .2 3.85 .2 1.6 .2 .45 .2-.55 .2-1.45 .2-.35 .2 .9 .2 1.05 .2-1.9 .2 0 .2 1.3 .2-1.35 .2 1.1 .2-.3 .2-2.25 .2 5.2 .2-1.75 .2-3.4 .2-.1 .2 1 .2-.2 .2-.85 .2 2.6 .2-1.2 .2-1.3 .2 5.3 .2-4 .2 1.4 .2-3.55 .2 .5 .2 .2 .2 4.15 .2-.45 .2-2.05 .2-.1 .2 1.35 .2-2.55 .2 1.3 .2 2.55 .2-3.9 .2 3.25 .2-1.55 .2 .6 .2-.7 .2 2.1 .2 .05 .2-.7 .2-4.6 .2 3.75 .2 2.25 .2-4.7 .2-1.1 .2 2.8 .2 2.2 .2-4.4 .2 3.4 .2-1.3 .2 .5 .2 .95 .2-1.25 .2-.8 .2 1.55 .2 2.95 .2-2 .2 .2 .2-3.45 .2 .85 .2-1.7 .2 4.8 .2 .15 .2-1.2 .2 .75 .2-2.55 .2 .15 .2 3.35 .2-3.45 .2 3.05 .2 1.35 .2-5.95 .2 .55 .2 5.5 .2-1.5 .2 1.2 .2 .3 .2-4.2 .2 4.9 .2-1.3 .2-.75 .2-1.5 .2-1.45 .2-.85 .2-1.45 .2 1.3 .2 .15 .2 2 .2-1.85 .2-2.3 .2 4.15 .2-4.75 .2 3.65 .2 2.15 .2-4.7 .2 .7 .2 2.45 .2 2.95 .2-3.1 .2-.7 .2 1.55 .2-4.3 .2 .5 .2 4.65 .2 .25 .2-.4 .2-1 .2 .7 .2-4.75 .2 1.45 .2 1.5 .2 2.9 .2-1.65 .2-.35 .2-2.5 .2 2.7 .2 .55 .2 .4 .2-1.5 .2 4.65 .2-6.85 .2 4.45 .2-4.65 .2 0 .2 4.25 .2-2.35 .2-.8 .2 1.75 .2 5.35 .2-6.75 .2 .6 .2 3.35 .2-3.85 .2 6.35 .2-7.85 .2 2.3 .2 2.55 .2-2.6 .2-.55 .2-2 .2 2.75 .2 2.15 .2-2.45 .2-1.55 .2 5 .2-1.05 .2-.55 .2-1.75 .2-1.35 .2 4.3 .2-2.35 .2-.95 .2 .45 .2 1.2 .2 1 .2-1.9 .2-.75 .2-1.6 .2 1.8 .2 .15 .2 1.15 .2-.75 .2-1.1 .2 .9 .2 1.6 .2-1.55 .2-.15 .2-.2 .2-.15 .2 1.45 .2 .55 .2-1.9 .2 .2 .2 1.25 .2 .75 .2 1.35 .2-5.8 .2 4.65 .2-2.8 .2 2.35 .2 .6 .2 2 .2-5 .2 3.25 .2-7.35 .2 5.3 .2-4.8 .2 3.15 .2-.9 .2-.7 .2 3.05 .2-2.3 .2-.1 .2 .75 .2 .55 .2 2.2 .2-2 .2-1.05 .2-1.65 .2 4.85 .2-.6 .2 .7 .2-2.75 .2 3.95 .2-1.35 .2 3.65 .2-5.6 .2 2.55 .2 1.65 .2-3.9 .2 .4 .2-1 .2 .5 .2 2.3 .2-1.3 .2-2.65 .2 7.45 .2-6.75 .2 4 .2-2.35 .2 1.35 .2-.25 .2 .5 .2 0 .2 1.95 .2-5.1 .2-1.3 .2-.75 .2-.85 .2 5.4 .2-4.75 .2 .25 .2 3.95 .2-1.15 .2 .8 .2-5.9 .2 3 .2-.55 .2 3.2 .2-.05 .2 .95 .2 1.75 .2 4.75 .2-8.5 .2 2.6 .2 .45 .2-2.15 .2-1.9 .2 4 .2 .05 .2-.7 .2-2.75 .2-3.2 .2 2.5 .2 4.8 .2 0 .2-4.75 .2 2.75 .2 2.2 .2 .1 .2-4.85 .2 1.6 .2 .25 .2-2.2 .2 6.05 .2-7.5 .2 4.65 .2 1.35 .2-1.25 .2 .65 .2-6.4 .2 4.9 .2 .55 .2-.05 .2-3.4 .2 2.3 .2-1.25 .2 4.75 .2-4.4 .2 1.15 .2-.1 .2-.1 .2 4.1 .2-.5 .2-2.3 .2-1.55 .2-.25 .2-3 .2 4.15 .2 .5 .2-1.05 .2-1.6 .2 4.5 .2-.9 .2-1.3 .2 3.05 .2-2.85 .2 3.4 .2-4.3 .2 .7 .2-1.6 .2 3.25 .2-3 .2 1.9 .2-.6 .2-1.85 .2 6.3 .2-2.4 .2-2.8 .2 2.3 .2-1.05 .2-1.7 .2 4.85 .2-2.15 .2-.45 .2-.2 .2 .35 .2 .2 .2-1.1 .2-.1 .2-.2 .2-3.45 .2 2.85 .2 3 .2 .65 .2-2.85 .2-2.15 .2 3.85 .2-3.85 .2-.5 .2-.8 .2-1.4 .2 8.4 .2-3.95 .2-6.15 .2 4.3 .2-1.9 .2 5.5 .2-3.25 .2-.25 .2 3 .2 2.05 .2-5.1 .2 1.5 .2-1.95 .2 4.05 .2-1.45 .2-.25 .2-2.05 .2 4.9 .2-3.8 .2 3.15 .2 .1 .2-5.05 .2 2 .2 1 .2-2.85 .2 2.05 .2 .9 .2-4.2 .2 2.9 .2 1.3 .2-1.65 .2-.3 .2-1.75 .2 3.05 .2 .4 .2-.65 .2 3.1 .2-2.9 .2-.9 .2 4.6 .2-2.2 .2 .85 .2 .4 .2-3.85 .2-.95 .2 5.6 .2-7.6 .2 2.9 .2 4.55 .2-4.8 .2 3 .2-3.3 .2 6.8 .2-5.25 .2 1.9 .2-4.6 .2 4.4 .2-.1 .2-2.45 .2 2.45 .2-1.9 .2 1.3 .2-1.95 .2 .1 .2-1.65 .2 3.55 .2-1.35 .2-1.1 .2 5.05 .2-3.5 .2-.35 .2-1.25 .2 3.55 .2-1.65 .2-2.1 .2 1.2 .2 1.8 .2-1.05 .2 2.3 .2-.3 .2 2.5 .2-6.1 .2 1.3 .2-.45 .2 0 .2 .65 .2-.9 .2 2.7 .2-4.55 .2 2.7 .2 1.25 .2 .8 .2-2.2 .2 .7 .2-.55 .2 .95 .2-1.45 .2 1.9 .2 1.35 .2 1.6 .2-5.2 .2 2.55 .2-1.25 .2 .35 .2-1.9 .2 1.2 .2 .95 .2-1.15 .2-.9 .2 3.45 .2-2.35 .2-.75 .2 .55 .2-.5 .2-1.15 .2 2.7 .2-1.65 .2-2.15 .2 4.8 .2-2.9 .2-2.35 .2 2.9 .2-1.35 .2 1.9 .2-2.95 .2 1.65 .2-2.65 .2 .55 .2 3.1 .2-1.4 .2 4.45 .2-4.8 .2 1.9 .2-3.1 .2 5.9 .2-3.1 .2-3.35 .2 3.75 .2-1.55 .2 5.6 .2-2.25 .2-4 .2 3.2 .2-.5 .2-1.8 .2 .05 .2 .15 .2-1.55 .2 2.7 .2-1.7 .2 .85 .2-.55 .2-.8 .2 5.65 .2-3.5 .2 .8 .2 4.3 .2-5.8 .2-1.45 .2-2.15 .2 .6 .2 4.35 .2-4.3 .2-1.4 .2 4.4 .2-.25 .2 3.75 .2-6.65 .2 5.25 .2-7.15 .2 7.65 .2-2.15 .2-2.6 .2 4.6 .2-2.25 .2 .9 .2-1.2 .2 2.35 .2-1.05 .2-3.45 .2 .15 .2 .05 .2 3.45 .2-.35 .2-.75 .2-1.1 .2-.75 .2 1.95 .2 1.05 .2-.15 .2 1.8 .2 .2 .2-4.45 .2 6.15 .2-2.2 .2-2.6 .2 .15 .2 .35 .2-2.25 .2-.35 .2 1.5 .2-.9 .2-5.3 .2 7.4 .2-5.4 .2 4.7 .2-1.45 .2-.65 .2 2.95 .2-3.35 .2-.35 .2 2.65 .2-.15 .2-2 .2-.15 .2 .05 .2 2.2 .2 .2 .2 .8 .2-2 .2-1.7 .2 3.4 .2 4.1 .2-2.2 .2-5.65 .2 3.8 .2-1.95 .2 .05 .2-.4 .2-1.2 .2-1.5 .2 4.15 .2-3.15 .2 .95 .2 .35 .2 .95 .2-1.15 .2 .6 .2-.65 .2 1.45 .2 .15 .2 2.35 .2-1.95 .2-2.45 .2 2.4 .2 .7 .2-3.2 .2 0 .2-3.65 .2 7.9 .2-2.9 .2 2.55 .2-6.2 .2-1.8 .2 5.65 .2-2.5 .2 2.1 .2-2.05 .2 3.35 .2-2.5 .2 .3 .2 1.35 .2-2.05 .2 .1 .2 3.4 .2-2.9 .2 .65 .2 .5 .2-.9 .2 .85 .2 2.9 .2-1.8 .2-5.4 .2-1.75 .2 2.75 .2-3.25 .2-.75 .2 3.45 .2 .1 .2 2.35 .2 .5 .2 3.6 .2-6.25 .2 .15 .2 1.7 .2 1.8 .2-3 .2-1.45 .2-3.9 .2 7.45 .2-2.4 .2 3.75 .2 .45 .2 .1 .2-3.2 .2 .8 .2-4.85 .2 3.7 .2-1.8 .2 2.9 .2-3.5 .2 .55 .2-1.4 .2 5.55 .2-3.75 .2-2.5 .2 1.15 .2-2.05 .2 5.2 .2-.05 .2-2.45 .2 .15 .2-3.85 .2 6.3 .2-3.6 .2 4.35 .2-5.75 .2 2.1 .2 .7 .2-.35 .2-2.1 .2 2.4 .2-1.65 .2-.95 .2-2.45 .2 4.8 .2-2.85 .2 .8 .2-1.35 .2 .7 .2-1.75 .2 6.15 .2-1.85 .2-2.6 .2-1.05 .2 .6 .2-3.45 .2 2.9 .2-1.7 .2-.9 .2-.8 .2-.2 .2 2.25 .2-1.2 .2-1.95 .2 2.35 .2-.8 .2-.75 .2 3.1 .2-3.9 .2-2.55 .2 2.95 .2-2.7 .2 3.7 .2-.8 .2-2.15 .2 1.5 .2-2.15 .2-.4 .2-3.05 .2-.9 .2 3.35 .2 4.45 .2-6.6 .2 2.2 .2-1.5 .2 2.3 .2-3.1 .2 1.3 .2 .9 .2-2.15 .2 .55 .2-.35 .2 1.4 .2 0 .2 .1 .2-.9 .2-3.2 .2 1.05 .2 1.85 .2-1.15 .2 1.6 .2-4.7 .2 .65 .2 0 .2 2.3 .2-2.1 .2-.65 .2 2.55 .2-1.7 .2-1.5 .2 3.15 .2-1.2 .2 1.25 .2 .15 .2-2.5 .2 .6 .2 .35 .2 1.75 .2-1.5 .2 2.3 .2-3.35 .2 1.25 .2 2.8 .2-5.65 .2 .35 .2 4.25 .2 .2 .2 .6 .2-.15 .2 .5 .2-3.1 .2 1.25 .2 1.25 .2-3.55 .2 0 .2 1.65 .2 3.45 .2-.3 .2-4.1 .2 1.7 .2 .25 .2 1.5 .2 .45 .2-.2 .2-1.7 .2 4.45 .2 .1 .2-4.15 .2 2.05 .2 2.8 .2-1.25 .2 .45 .2-1.65 .2 4.15 .2-5 .2 4.4 .2 2 .2-5 .2 4.6 .2-.85 .2-2.8 .2 1.9 .2 2.85 .2-3.65 .2 .25 .2-4.8 .2 2.7 .2 2.9 .2 .75 .2 1.7 .2 .8 .2 2.5 .2-2.4 .2 4.85 .2-4.3 .2 1.45 .2-4.25 .2 2.8 .2 1.25 .2 .2 .2-2.7 .2 1 .2-2.3 .2 3.5 .2-2.7 .2 4.35 .2-1.3 .2 1.1 .2-.05 .2-.15 .2 .95 .2-1.4 .2-3.3 .2 6.1 .2-4 .2 3.6 .2-.65 .2-.15 .2-.35 .2 .4 .2 0 .2-.25 .2-.15 .2 1 .2 .75 .2-2 .2 1.5 .2-3.15 .2 1.2 .2-1.75 .2 3.1 .2 1.45 .2 .75 .2-4.1 .2 4.55 .2-3.7 .2 1.4 .2-.1 .2 4.35 .2-2.75 .2 4.05 .2-2.2 .2-2.45 .2 1.45 .2 2.05 .2-4.5 .2 .85 .2 1 .2-.5 .2 .2 .2 4.1 .2-3.1 .2-.85 .2-.1 .2-1.9 .2 4.5 .2-2.9 .2 8.65 .2-6.25 .2-2.1 .2-1.2 .2 1.55 .2 1.85 .2-1.95 .2 2.55 .2 .15 .2-.2 .2-.05 .2-.95 .2-1.35 .2-1.1 .2-.75 .2 2.45 .2 2.35 .2-1.35 .2-2.1 .2 4.05 .2-3.8 .2-.35 .2 .4 .2 .7 .2 1.2 .2-2.3 .2-.75 .2 4.25 .2-.35 .2 .5 .2 .6 .2-1.4 .2 3.55 .2-4 .2 .35 .2 2.8 .2-1.85 .2-1.1 .2 .35 .2-2.35 .2 3.8 .2-1.8 .2 1.4 .2 1.85 .2-1.1 .2-1.05 .2 .3 .2-.5 .2 3.2 .2-7.25 .2 2.95 .2-.7 .2 2.5 .2-1.2 .2 .6 .2 3.75 .2-3.35 .2 1.2 .2-2.5 .2-.55 .2-.65 .2 4.95 .2-5.1 .2 1.3 .2 5.65 .2-3.85 .2-.7 .2-.5 .2-1.85 .2 3.1 .2 1.35 .2-3.9 .2 .85 .2 4.35 .2-4.1 .2 2.3 .2 3.15 .2-6.4 .2 1.6 .2-1.65 .2-2.7 .2 7.25 .2-1.45 .2-1.75 .2 1.5 .2-2.1 .2-1.75 .2 1.65 .2-.2 .2-.5 .2 4.2 .2-3.9 .2-.5 .2 2.65 .2 .55 .2 2.45 .2-2.8 .2-3.35 .2 1 .2 3.75 .2-3.25 .2 2.3 .2 2.85 .2-6.8 .2-.05 .2 2.65 .2 .35 .2 1.9 .2-5.1 .2 4.55 .2-1.75 .2-2.95 .2 2.95 .2 1.5 .2 2.7 .2-4.95 .2 2.75 .2-4.15 .2 4.9 .2-2 .2 3.05 .2-5.95 .2 .4 .2-1.15 .2 7.15 .2-4.6 .2-2.75 .2 2.2 .2 3.25 .2-.4 .2-.4 .2-3.65 .2 2.4 .2-3.7 .2 .95 .2 4.35 .2 .6 .2-2.3 .2-3.3 .2 1.8 .2 1.2 .2 4.05 .2-4.6 .2-1.7 .2 .6 .2 .65 .2 .65 .2 .6 .2 4.65 .2-5.3 .2-3.2 .2 6.5 .2-3.7 .2 0 .2 .4 .2 1.85 .2-.35 .2 .65 .2-1.65 .2 .85 .2-2.4 .2 .05 .2 .95 .2 .35 .2-2.65 .2 1.05 .2 5.1 .2-.15 .2 .95 .2-1 .2-.55 .2 1.75 .2-2.25 .2-2 .2 .1 .2 1.25 .2 .25 .2-1.2 .2-.4 .2 .6 .2-1.55 .2 6.35 .2-3.6 .2-5.2 .2 5.95 .2-3.5 .2 1.25 .2 .45 .2 1.85 .2-1.95 .2 .7 .2-.85 .2 5.1 .2-4.9 .2-1.8 .2-.85 .2 2.75 .2-.95 .2 1.3 .2 .55 .2-3.35 .2 2.55 .2-1.65 .2 .05 .2-.5 .2 1.45 .2-.95 .2 0 .2 .75 .2-2 .2 5.45 .2-1.4 .2-2.1 .2 1.4 .2-2.6 .2 2.2 .2-3.4 .2 3.05 .2 .35 .2-1 .2 2.3 .2-3.2 .2 1.95 .2 .85 .2-.05 .2-1.15 .2 3.5 .2-1.8 .2-.3 .2-2.85 .2 1.65 .2-1.25 .2 5.35 .2-3.45 .2-2.35 .2 3.35 .2 .5 .2-3.5 .2 1.55 .2 4.85 .2-5.1 .2 .65 .2 5.75 .2-6.5 .2-2.45 .2 .5 .2 2.25 .2 1.3 .2-3.4 .2-2.45 .2 5.45 .2-1.65 .2-.6 .2-.8 .2 4.15 .2-2.65 .2-2.4 .2 .65 .2 1.15 .2-2.1 .2 1.95 .2 3.45 .2-.6 .2 .3 .2-.05 .2-1.7 .2 .45 .2-4.4 .2 5.2 .2-.25 .2-.85 .2 0 .2-2.7 .2 1.25 .2-2.3 .2 2.25 .2 .5 .2-.85 .2 3.8 .2-4.2 .2 2.45 .2-.25 .2-.8 .2 1.5 .2-.35 .2-1.6 .2 3.55 .2-3.05 .2 1.6 .2-3.45 .2 .25 .2 2.25 .2 4.45 .2-7.4 .2 .15 .2 .85 .2 .7 .2 1.05 .2 2 .2-2.5 .2 1.6 .2-1.2 .2-1.25 .2 .2 .2 2 .2-.6 .2 2.35 .2-2.35 .2-.65 .2-2.1 .2 .75 .2 2.35 .2-.1 .2 2.8 .2-4.75 .2 2.65 .2-1.5 .2-4.15 .2 1.9 .2 2.95 .2-1.3 .2-.6 .2 3.65 .2-2.75 .2 1.05 .2 .95 .2-2.55 .2 2.3 .2-3.45 .2-.6 .2 4.95 .2 .35 .2-1.2 .2-3.1 .2 .85 .2-1.25 .2-.05 .2 2.2 .2-1.25 .2 3.35 .2-5.65 .2 2.15 .2-1.5 .2-.2 .2 6.6 .2-.65 .2-2.45 .2 .2 .2 .15 .2-1.2 .2-6.55 .2 1.75 .2 5.85 .2-6.55 .2 8.25 .2-1.25 .2-1.1 .2 .1 .2 .7 .2-2.75 .2 5.05 .2-4.4 .2-1.4 .2 5.8 .2-3.6 .2 .4 .2 1.75 .2 2.1 .2-4.7 .2 .3 .2-3.2 .2 3 .2 3.4 .2-5.15 .2-.3 .2-1.7 .2 .85 .2-.1 .2 2.8 .2 .55 .2-4.85 .2 5.1 .2 1.8 .2-.95 .2-3.4 .2 3.3 .2-2.8 .2-1.3 .2-.65 .2-.15 .2 2.4 .2 1.95 .2-5.1 .2-.45 .2 6.7 .2-4.5 .2 6.65 .2-3.9 .2-3.8 .2 4.95 .2 .15 .2-5.8 .2 3.05 .2 3.45 .2-6.15 .2 4.1 .2-.2 .2 3.35 .2-1.35 .2-3.6 .2-2.25 .2 2.3 .2 .9 .2-.25 .2-.9 .2-1.1 .2 4.65 .2-3.5 .2-.8 .2 2 .2-.15 .2-.35 .2 2.55 .2-4.7 .2 2.65 .2 1.55 .2-3.15 .2 1.2 .2 1.05 .2-.35 .2-1.1 .2-2.7 .2 .65 .2 1.9 .2-.7 .2-.1 .2-.5 .2-2.6 .2 4.9 .2-3.55 .2 5.5 .2 2.5 .2-4.25 .2-.75 .2-2.35 .2-.8 .2 1.15 .2 2.95 .2-2.1 .2-3.55 .2 5.1 .2-2.8 .2 2.7 .2-1.75 .2-1.75 .2 .65 .2 2.5 .2-2.8 .2 3.95 .2-4.55 .2 4.65 .2-5.85 .2 .45 .2 3.5 .2 1.85 .2-3.85 .2 2.25 .2-3.65 .2-.25 .2 2.15 .2 4.4 .2-5.15 .2-2.85 .2-1.9 .2 5 .2 1.4 .2-2.1 .2 1.05 .2-2.05 .2 4.25 .2-1.65 .2-4.05 .2 1.55 .2 3.85 .2-2.7 .2-5 .2 4.1 .2-.25 .2-4.75 .2 6.65 .2 1.9 .2-4.15 .2-.8 .2 1.4 .2-.6 .2 .8 .2 1.2 .2-4.5 .2 2.55 .2 4.7 .2-4.35 .2 .45 .2 .45 .2-2.55 .2-1.25 .2 7.75 .2-4.85 .2-2.25 .2 3.95 .2-2.75 .2-1.2" fill="none" stroke="#ff00ff" stroke-width="5" stroke-linejoin="round" stroke-linecap="round"/>
<g fill="none">
<line x1="141.2" y1="30.9" x2="1630" y2="30.9" stroke="#363636" stroke-width="4.6"/>
<line x1="143.4" y1="29" x2="143.4" y2="1521.3" stroke="#626262" stroke-width="4.2"/>
<line x1="1627.4" y1="29" x2="1627.4" y2="1521.3" stroke="#6a6a6a" stroke-width="4.4"/>
<line x1="141.3" y1="1519.2" x2="1629.6" y2="1519.2" stroke="#5c5c5c" stroke-width="4.4"/>
<line x1="144.6" y1="1519" x2="144.6" y2="1535.6" stroke="#333" stroke-width="3.3"/>
<line x1="250.4" y1="1519" x2="250.4" y2="1528.2" stroke="#3a3a3a" stroke-width="3.1"/>
<line x1="356.2" y1="1519" x2="356.2" y2="1535.6" stroke="#333" stroke-width="3.3"/>
<line x1="462.0" y1="1519" x2="462.0" y2="1528.2" stroke="#3a3a3a" stroke-width="3.1"/>
<line x1="567.8" y1="1519" x2="567.8" y2="1535.6" stroke="#333" stroke-width="3.3"/>
<line x1="673.6" y1="1519" x2="673.6" y2="1528.2" stroke="#3a3a3a" stroke-width="3.1"/>
<line x1="779.4" y1="1519" x2="779.4" y2="1535.6" stroke="#333" stroke-width="3.3"/>
<line x1="885.3" y1="1519" x2="885.3" y2="1528.2" stroke="#3a3a3a" stroke-width="3.1"/>
<line x1="991.1" y1="1519" x2="991.1" y2="1535.6" stroke="#333" stroke-width="3.3"/>
<line x1="1096.9" y1="1519" x2="1096.9" y2="1528.2" stroke="#3a3a3a" stroke-width="3.1"/>
<line x1="1202.7" y1="1519" x2="1202.7" y2="1535.6" stroke="#333" stroke-width="3.3"/>
<line x1="1308.5" y1="1519" x2="1308.5" y2="1528.2" stroke="#3a3a3a" stroke-width="3.1"/>
<line x1="1414.3" y1="1519" x2="1414.3" y2="1535.6" stroke="#333" stroke-width="3.3"/>
<line x1="1520.1" y1="1519" x2="1520.1" y2="1528.2" stroke="#3a3a3a" stroke-width="3.1"/>
<line x1="1625.9" y1="1519" x2="1625.9" y2="1535.6" stroke="#333" stroke-width="3.3"/>
</g>
<text class="lab" x="144.9" y="1589" text-anchor="middle">20</text>
<text class="lab" x="356.5" y="1589" text-anchor="middle">30</text>
<text class="lab" x="568.1" y="1589" text-anchor="middle">40</text>
<text class="lab" x="779.7" y="1589" text-anchor="middle">50</text>
<text class="lab" x="991.4" y="1589" text-anchor="middle">60</text>
<text class="lab" x="1203.0" y="1589" text-anchor="middle">70</text>
<text class="lab" x="1414.6" y="1589" text-anchor="middle">80</text>
<text class="lab" x="1626.2" y="1589" text-anchor="middle">90</text>
<text class="lab" x="885.5" y="1684.5" text-anchor="middle">2θ (deg.)</text>
<text class="lab" transform="translate(70.8 829) rotate(-90)" text-anchor="middle">Intensity (a. u.)</text>
<text class="lab" x="1464.5" y="363" text-anchor="middle">3#</text>
<text class="lab" x="1463.2" y="820.4" text-anchor="middle">2#</text>
<text class="lab" x="1463.6" y="1276.2" text-anchor="middle">1#</text>
<text class="club" transform="translate(1106.4 115.6) scale(1.14 1.04)" text-anchor="middle">♣</text>
<text class="lab" x="1142.6" y="114.2">—</text>
<text class="lab" x="1217" y="114.4">La<tspan dy="22.5">2+x</tspan><tspan dy="-22.5">Ce</tspan><tspan dy="22.5">2</tspan><tspan dy="-22.5">O</tspan><tspan dy="22.5">7</tspan><tspan dx="-2.5">-</tspan><tspan dx="1" style="font-family:'Liberation Serif', 'DejaVu Serif', serif;font-size:52px">δ</tspan></text>
<text class="dia" transform="translate(1106.8 211) scale(1.03 1)" text-anchor="middle">♦</text>
<text class="lab" x="1139.6" y="211.9">—</text>
<text class="lab" x="1214" y="211.6">La<tspan dy="23">2</tspan><tspan dy="-23">O</tspan><tspan dy="23">3</tspan></text>
<text class="club" transform="translate(302.2 179.2) scale(1.12 1)" text-anchor="middle">♣</text>
<text class="hkl" transform="translate(313.5 96.1) rotate(-90)" text-anchor="middle">(111)</text>
<text class="club" transform="translate(395.5 462.3) scale(1.12 1)" text-anchor="middle">♣</text>
<text class="hkl" transform="translate(406.0 383.0) rotate(-90)" text-anchor="middle">(200)</text>
<text class="club" transform="translate(685.7 426.0) scale(1.12 1)" text-anchor="middle">♣</text>
<text class="hkl" transform="translate(697.4 344.8) rotate(-90)" text-anchor="middle">(220)</text>
<text class="club" transform="translate(864.1 459.7) scale(1.12 1)" text-anchor="middle">♣</text>
<text class="hkl" transform="translate(875.0 376.9) rotate(-90)" text-anchor="middle">(311)</text>
<text class="club" transform="translate(917.6 581.4) scale(1.12 1)" text-anchor="middle">♣</text>
<text class="hkl" transform="translate(928.6 502.2) rotate(-90)" text-anchor="middle">(222)</text>
<text class="club" transform="translate(1129.4 589.0) scale(1.12 1)" text-anchor="middle">♣</text>
<text class="hkl" transform="translate(1137.0 509.7) rotate(-90)" text-anchor="middle">(400)</text>
<text class="club" transform="translate(1267.5 584.5) scale(1.12 1)" text-anchor="middle">♣</text>
<text class="hkl" transform="translate(1281.5 501.8) rotate(-90)" text-anchor="middle">(331)</text>
<text class="club" transform="translate(1321.8 588.0) scale(1.12 1)" text-anchor="middle">♣</text>
<text class="hkl" transform="translate(1328.2 500.8) rotate(-90)" text-anchor="middle">(420)</text>
<text class="club" transform="translate(1498.0 594.1) scale(1.12 1)" text-anchor="middle">♣</text>
<text class="hkl" transform="translate(1509.3 517.8) rotate(-90)" text-anchor="middle">(422)</text>
<text class="dia" transform="translate(482.7 1395.3) scale(1.03 1)" text-anchor="middle">♦</text>
<text class="dia" transform="translate(568.4 1413.2) scale(1.03 1)" text-anchor="middle">♦</text>
<text class="dia" transform="translate(616.3 1389.8) scale(1.03 1)" text-anchor="middle">♦</text>
<text class="dia" transform="translate(794.0 1422.2) scale(1.03 1)" text-anchor="middle">♦</text>
<text class="dia" transform="translate(847.2 1399.2) scale(1.03 1)" text-anchor="middle">♦</text>
</g>
</svg>
</body>
</html>
